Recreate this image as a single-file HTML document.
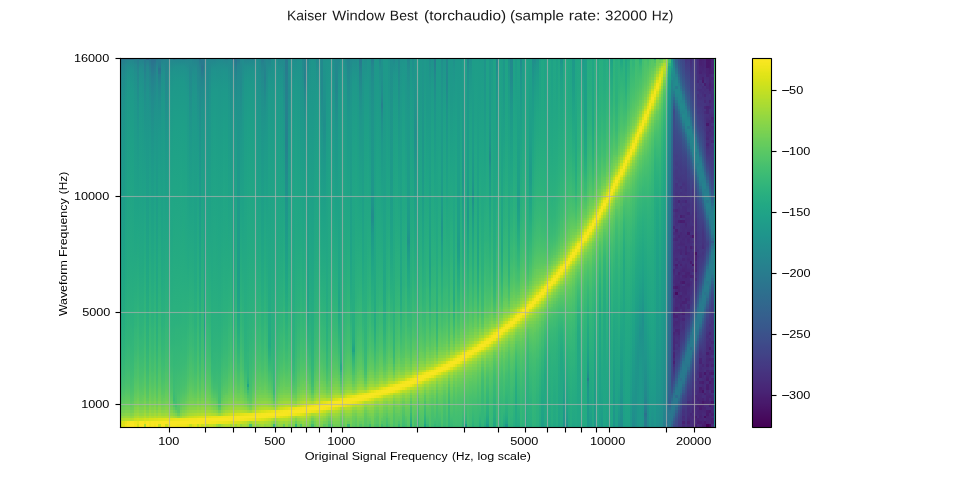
<!DOCTYPE html>
<html lang="en"><head><meta charset="utf-8"><title>Kaiser Window Best (torchaudio)</title>
<style>
html,body{margin:0;padding:0;background:#fff}
body{position:relative;width:960px;height:480px;overflow:hidden;font-family:"Liberation Sans",sans-serif;color:#000}
#hm{position:absolute;left:120px;top:58px;width:596px;height:370px;display:flex;overflow:hidden}
#hm i{display:block;height:370px;flex:0 0 auto}
#hm .o{width:1px}#hm .a{width:2px}#hm .b{width:3px}
#cb{position:absolute;left:752px;top:58px;width:20px;height:370px;background:linear-gradient(#f8e621 1.5px,#f8e621 3.5px,#f4e61e 5.5px,#f4e61e 6.5px,#efe51c 8.5px,#efe51c 9.5px,#eae51a 11.5px,#eae51a 12.5px,#e2e418 15.5px,#e2e418 16.5px,#dde318 18.5px,#dde318 19.5px,#d8e219 21.5px,#d8e219 22.5px,#d2e21b 24.5px,#d0e11c 26.5px,#cae11f 28.5px,#c8e020 30.5px,#c5e021 31.5px,#c5e021 32.5px,#c0df25 34.5px,#c0df25 35.5px,#bade28 37.5px,#b8de29 39.5px,#b2dd2d 41.5px,#b0dd2f 43.5px,#addc30 44.5px,#addc30 45.5px,#a8db34 47.5px,#a8db34 48.5px,#a2da37 50.5px,#a0da39 52.5px,#9bd93c 54.5px,#9bd93c 55.5px,#95d840 57.5px,#93d741 59.5px,#90d743 60.5px,#8ed645 62.5px,#8bd646 63.5px,#89d548 65.5px,#84d44b 67.5px,#84d44b 68.5px,#7fd34e 70.5px,#7fd34e 71.5px,#7ad151 73.5px,#7ad151 74.5px,#75d054 76.5px,#73d056 78.5px,#6ece58 80.5px,#6ccd5a 82.5px,#69cd5b 83.5px,#67cc5c 85.5px,#63cb5f 88.5px,#60ca60 89.5px,#5ec962 91.5px,#5ac864 93.5px,#58c765 95.5px,#52c569 99.5px,#50c46a 101.5px,#4ac16d 105.5px,#44bf70 109.5px,#42be71 111.5px,#3aba76 118.5px,#2db27d 131.5px,#27ad81 139.5px,#22a884 147.5px,#1fa188 158.5px,#1f948c 178.5px,#26828e 206.5px,#2d708e 233.5px,#375b8d 264.5px,#38588c 269.5px,#3b528b 275.5px,#3e4c8a 284.5px,#3f4889 288.5px,#414487 295.5px,#433e85 301.5px,#453882 309.5px,#46337f 314.5px,#472d7b 322.5px,#482878 327.5px,#482374 334.5px,#481c6e 340.5px,#481a6c 344.5px,#471063 353.5px,#46075a 362.5px,#440256 367.5px,#440256 368.5px)}
b{position:absolute;display:block}
.h{color:#181818}
#tx{position:absolute;left:0;top:0;width:960px;height:480px;will-change:transform}
.t{position:absolute;left:0;top:0;white-space:nowrap;line-height:1;transform-origin:0 0;font-weight:400}
</style></head><body>
<div id="hm"><i class=a style="background:linear-gradient(#2d6f8e 0,#2d6f8e 2px,#287a8e 0,#287a8e 3.5px,#25838d 11.5px,#228a8d 32px,#20918c 77.5px,#1e998a 152.5px,#1e9c89 184px,#1fa386 232.5px,#22a784 258.5px,#24aa82 272.5px,#2cb17d 301.5px,#33b679 315.5px,#39b976 324.5px,#45bf6f 336px,#59c764 347.5px,#59c764 349px,#62ca5f 0,#62ca5f 352px,#6bcd59 0,#6bcd59 355px,#77d052 0,#77d052 358px,#88d547 0,#88d547 360px,#a5da35 0,#a5da35 363px,#c5df21 0,#c5df21 364.5px,#cae01e 368px,#cae01e 370px)"></i>
<i class=b style="background:linear-gradient(#2b748e 0,#2b748e 2px,#26808e 0,#26808e 3.5px,#24858d 6.5px,#218c8d 17.5px,#1f948b 49.5px,#1e998a 95.5px,#1fa187 178.5px,#21a784 224.5px,#23a982 238.5px,#27ad80 264.5px,#2bb17d 281.5px,#33b679 301.5px,#3bba75 315.5px,#45bf6f 327.5px,#4bc26c 333.5px,#64cb5d 347.5px,#64cb5d 349px,#6dce58 0,#6dce58 352px,#77d052 0,#77d052 355px,#83d34b 0,#83d34b 358px,#95d73f 0,#95d73f 360px,#afdc2e 0,#afdc2e 363px,#dce218 0,#dce218 364.5px,#e1e318 368px,#e1e318 370px)"></i>
<i class=a style="background:linear-gradient(#2a768e 0,#2a768e 2px,#24848d 0,#24848d 3.5px,#23898d 6.5px,#20908c 17.5px,#1e978a 40.5px,#1fa187 138.5px,#21a685 181.5px,#22a784 204.5px,#24aa82 224.5px,#2bb17d 267.5px,#33b679 293px,#44be70 321.5px,#4dc26b 330.5px,#5ec961 341.5px,#64cb5d 344.5px,#64cb5d 346px,#6bcd59 0,#6bcd59 349px,#72cf55 0,#72cf55 352px,#7cd24f 0,#7cd24f 355px,#88d547 0,#88d547 358px,#9ad83c 0,#9ad83c 360px,#b7dd29 0,#b7dd29 363px,#e9e419 0,#e9e419 366px,#f1e51c 0,#f1e51c 370px)"></i>
<i class=b style="background:linear-gradient(#2a768e 0,#2a768e 2px,#23878d 0,#23878d 3.5px,#20908c 11.5px,#1f968b 23.5px,#1e998a 37.5px,#1fa386 126.5px,#22a784 175.5px,#24aa82 209.5px,#27ad80 232.5px,#2cb17d 261.5px,#30b47a 281.5px,#35b778 290.5px,#39b976 301.5px,#3dbb74 310.5px,#42be71 315.5px,#47c06e 324.5px,#51c468 333.5px,#64cb5d 344.5px,#64cb5d 346px,#6bcd59 0,#6bcd59 349px,#72cf55 0,#72cf55 352px,#7cd24f 0,#7cd24f 355px,#88d547 0,#88d547 358px,#9ad83c 0,#9ad83c 360px,#b7dd29 0,#b7dd29 363px,#f3e51e 0,#f3e51e 364.5px,#f8e621 368px,#f8e621 370px)"></i>
<i class=a style="background:linear-gradient(#2c718e 0,#2c718e 2px,#23898d 0,#23898d 3.5px,#1f928c 11.5px,#1e998a 32px,#1ea087 83.5px,#22a784 163.5px,#24aa82 201.5px,#2cb17d 264.5px,#2fb37b 272.5px,#30b47a 281.5px,#33b679 290.5px,#35b778 295.5px,#3bba75 310.5px,#45bf6f 327.5px,#4bc26c 333.5px,#5bc862 344.5px,#5bc862 346px,#62ca5f 0,#62ca5f 349px,#6bcd59 0,#6bcd59 352px,#74d054 0,#74d054 355px,#81d34c 0,#81d34c 358px,#92d741 0,#92d741 360px,#b2dd2c 0,#b2dd2c 363px,#f8e621 0,#f8e621 364.5px,#fde724 368px,#fde724 370px)"></i>
<i class=a style="background:linear-gradient(#2c718e 0,#2c718e 2px,#23888d 0,#23888d 3.5px,#20918c 11.5px,#1e998a 34.5px,#1ea087 86.5px,#22a784 169.5px,#24aa82 204.5px,#27ad80 229.5px,#2ab07e 252.5px,#2cb17d 267.5px,#2eb27c 272.5px,#32b57a 284.5px,#33b679 290.5px,#35b778 295.5px,#3bba75 310.5px,#40bd72 318.5px,#44be70 321.5px,#47c06e 327.5px,#4dc26b 333.5px,#59c764 341.5px,#59c764 343px,#60c960 0,#60c960 346px,#67cc5c 0,#67cc5c 347.5px,#6dce58 350.5px,#6dce58 352px,#77d052 0,#77d052 355px,#86d449 0,#86d449 358px,#97d83e 0,#97d83e 360px,#b7dd29 0,#b7dd29 363px,#f8e621 0,#f8e621 364.5px,#fde724 368px,#fde724 370px)"></i>
<i class=b style="background:linear-gradient(#287a8e 0,#287a8e 2px,#24848d 0,#24848d 3.5px,#23898d 6.5px,#20908c 17.5px,#1f968b 37.5px,#1e998a 57.5px,#1fa386 146.5px,#21a784 178.5px,#23a883 192.5px,#28ae7f 232.5px,#2cb17d 250px,#30b47a 267.5px,#33b679 272.5px,#39b976 290.5px,#4bc26c 318.5px,#55c666 327.5px,#5bc862 333.5px,#69cc5b 341.5px,#69cc5b 343px,#70ce56 0,#70ce56 346px,#77d052 0,#77d052 349px,#81d34c 0,#81d34c 352px,#8bd546 0,#8bd546 355px,#97d83e 0,#97d83e 358px,#aadb32 0,#aadb32 360px,#c7e01f 0,#c7e01f 363px,#f1e51c 0,#f1e51c 364.5px,#f6e61f 368px,#f6e61f 370px)"></i>
<i class=a style="background:linear-gradient(#287b8e 0,#287b8e 1px,#267f8e 3.5px,#26818e 6.5px,#24868d 11.5px,#1f928c 46.5px,#1e998a 80.5px,#1fa386 149.5px,#21a784 175.5px,#23a982 192.5px,#27ad80 218.5px,#2cb17d 244.5px,#2fb37b 252.5px,#33b679 267.5px,#35b778 272.5px,#3bba75 287.5px,#4fc369 318.5px,#5bc862 330.5px,#69cc5b 338.5px,#69cc5b 340px,#70ce56 0,#70ce56 341.5px,#74d054 344.5px,#74d054 346px,#7cd24f 0,#7cd24f 349px,#86d449 0,#86d449 352px,#90d643 0,#90d643 355px,#9dd93a 0,#9dd93a 358px,#afdc2e 0,#afdc2e 360px,#cde01d 0,#cde01d 363px,#e9e419 0,#e9e419 366px,#d7e219 0,#d7e219 370px)"></i>
<i class=b style="background:linear-gradient(#2a758e 0,#2a758e 2px,#24858d 0,#24858d 3.5px,#218e8c 11.5px,#1f958b 29.5px,#1e998a 49.5px,#1fa386 143.5px,#22a784 184px,#24aa82 212.5px,#2cb17d 258.5px,#30b47a 275.5px,#35b778 284.5px,#36b877 290.5px,#47c06e 318.5px,#4dc26b 324.5px,#53c567 330.5px,#64cb5d 341.5px,#64cb5d 343px,#6bcd59 0,#6bcd59 346px,#72cf55 0,#72cf55 349px,#7cd24f 0,#7cd24f 352px,#86d449 0,#86d449 355px,#92d741 0,#92d741 358px,#a7db33 0,#a7db33 360px,#c7e01f 0,#c7e01f 363px,#f8e621 0,#f8e621 364.5px,#fae622 368px,#fae622 370px)"></i>
<i class=a style="background:linear-gradient(#2a778e 0,#2a778e 2px,#24848d 0,#24848d 3.5px,#23898d 6.5px,#20908c 17.5px,#1e978a 43.5px,#1fa187 135.5px,#21a685 175.5px,#23a982 207px,#27ad80 232.5px,#2cb17d 258.5px,#2fb37b 267.5px,#35b778 284.5px,#3bba75 298.5px,#44be70 313px,#4bc26c 321.5px,#5bc862 336px,#5bc862 337px,#62ca5f 0,#62ca5f 338.5px,#6dce58 344.5px,#6dce58 346px,#74d054 0,#74d054 349px,#7cd24f 0,#7cd24f 352px,#88d547 0,#88d547 355px,#95d73f 0,#95d73f 358px,#aadb32 0,#aadb32 360px,#cae01e 0,#cae01e 363px,#f8e621 0,#f8e621 364.5px,#fde724 368px,#fde724 370px)"></i>
<i class=a style="background:linear-gradient(#287a8e 0,#287a8e 1px,#23898d 23.5px,#20918c 43.5px,#1e998a 77.5px,#1fa386 138.5px,#22a784 166.5px,#24aa82 189.5px,#2cb17d 235.5px,#2fb37b 244.5px,#30b47a 252.5px,#39b976 275.5px,#3bba75 281.5px,#40bd72 290.5px,#42be71 295.5px,#4bc26c 310.5px,#51c468 315.5px,#55c666 321.5px,#5bc862 327.5px,#72cf55 341.5px,#72cf55 343px,#79d151 0,#79d151 346px,#81d34c 0,#81d34c 349px,#88d547 0,#88d547 352px,#95d73f 0,#95d73f 355px,#a2da37 0,#a2da37 358px,#b5dd2b 0,#b5dd2b 360px,#d4e11a 0,#d4e11a 363px,#eee51b 0,#eee51b 366px,#aadb32 0,#aadb32 370px)"></i>
<i class=b style="background:linear-gradient(#31668d 0,#31668d 2px,#26808e 0,#26808e 3.5px,#23888d 9px,#1f928c 34.5px,#1e998a 86.5px,#1fa187 166.5px,#21a784 212.5px,#23a982 229.5px,#27ad80 252.5px,#2ab07e 267.5px,#30b47a 287.5px,#3bba75 310.5px,#47c06e 324.5px,#51c468 333.5px,#59c764 338.5px,#59c764 340px,#60c960 0,#60c960 343px,#67cc5c 0,#67cc5c 344.5px,#6dce58 347.5px,#6dce58 349px,#77d052 0,#77d052 352px,#83d34b 0,#83d34b 355px,#92d741 0,#92d741 358px,#a7db33 0,#a7db33 360px,#cfe11c 0,#cfe11c 363px,#f8e621 0,#f8e621 364.5px,#fde724 368px,#fde724 370px)"></i>
<i class=a style="background:linear-gradient(#2a758e 0,#2a758e 1px,#287a8e 3.5px,#24858d 14.5px,#20918c 43.5px,#1e998a 77.5px,#1fa386 141px,#22a784 169.5px,#25ab81 198.5px,#2cb17d 235.5px,#30b47a 252.5px,#35b778 267.5px,#38b976 272.5px,#3bba75 281.5px,#40bd72 293px,#4fc369 315.5px,#5bc862 327.5px,#72cf55 341.5px,#72cf55 343px,#79d151 0,#79d151 346px,#81d34c 0,#81d34c 349px,#88d547 0,#88d547 352px,#95d73f 0,#95d73f 355px,#a2da37 0,#a2da37 358px,#b5dd2b 0,#b5dd2b 360px,#d7e219 0,#d7e219 363px,#f3e51e 0,#f3e51e 364.5px,#f1e51c 368px,#f1e51c 370px)"></i>
<i class=b style="background:linear-gradient(#2f6a8d 0,#2f6a8d 2px,#2b738e 0,#2b738e 3.5px,#25828e 20.5px,#228b8d 40.5px,#1f948b 75px,#1e998a 100.5px,#1fa386 166.5px,#22a784 195.5px,#26ac81 227px,#29af7f 241.5px,#2cb17d 258.5px,#32b57a 272.5px,#38b976 290.5px,#45bf6f 313px,#49c16d 315.5px,#4dc26b 321.5px,#5bc862 333.5px,#69cc5b 341.5px,#69cc5b 343px,#70ce56 0,#70ce56 346px,#77d052 0,#77d052 349px,#81d34c 0,#81d34c 352px,#8bd546 0,#8bd546 355px,#9ad83c 0,#9ad83c 358px,#afdc2e 0,#afdc2e 360px,#d7e219 0,#d7e219 363px,#f8e621 0,#f8e621 370px)"></i>
<i class=a style="background:linear-gradient(#2c708e 0,#2c708e 1px,#287a8e 6.5px,#24848d 17.5px,#228a8d 29.5px,#1f938b 52px,#1e998a 80.5px,#1fa386 141px,#22a784 169.5px,#25ab81 198.5px,#2ab07e 229.5px,#2fb37b 247.5px,#33b679 261.5px,#35b778 267.5px,#38b976 272.5px,#3bba75 281.5px,#40bd72 293px,#4fc369 315.5px,#55c666 321.5px,#5bc862 327.5px,#67cc5c 336px,#72cf55 341.5px,#72cf55 343px,#79d151 0,#79d151 346px,#81d34c 0,#81d34c 349px,#88d547 0,#88d547 352px,#95d73f 0,#95d73f 355px,#a2da37 0,#a2da37 358px,#b7dd29 0,#b7dd29 360px,#dce218 0,#dce218 363px,#f6e61f 0,#f6e61f 364.5px,#f1e51c 368px,#f1e51c 370px)"></i>
<i class=a style="background:linear-gradient(#2a758e 0,#2a758e 2px,#267f8e 0,#267f8e 3.5px,#23878d 9px,#23898d 11.5px,#20918c 37.5px,#1e998a 92.5px,#1e9b89 120.5px,#1fa187 169.5px,#21a685 201.5px,#22a784 218.5px,#25ab81 241.5px,#2cb17d 275.5px,#30b47a 287.5px,#40bd72 315.5px,#44be70 318.5px,#45bf6f 321.5px,#53c567 333.5px,#5bc862 338.5px,#5bc862 340px,#62ca5f 0,#62ca5f 343px,#69cc5b 0,#69cc5b 346px,#70ce56 0,#70ce56 349px,#79d151 0,#79d151 352px,#86d449 0,#86d449 355px,#97d83e 0,#97d83e 358px,#afdc2e 0,#afdc2e 360px,#dce218 0,#dce218 363px,#f8e621 0,#f8e621 364.5px,#fae622 368px,#fae622 370px)"></i>
<i class=b style="background:linear-gradient(#277c8e 0,#277c8e 1px,#277e8e 3.5px,#277d8e 6.5px,#287a8e 9px,#287a8e 10px,#2b738e 0,#2b738e 11.5px,#2a778e 14.5px,#2a778e 16px,#277e8e 0,#277e8e 17.5px,#23878d 26.5px,#218e8c 40.5px,#1f948b 57.5px,#1e998a 77.5px,#1e9c89 98px,#20a585 152.5px,#22a784 169.5px,#26ac81 201.5px,#2cb17d 235.5px,#30b47a 252.5px,#39b976 275.5px,#3bba75 281.5px,#40bd72 290.5px,#42be71 295.5px,#4bc26c 310.5px,#51c468 315.5px,#55c666 321.5px,#5bc862 327.5px,#72cf55 341.5px,#72cf55 343px,#79d151 0,#79d151 346px,#81d34c 0,#81d34c 349px,#8bd546 0,#8bd546 352px,#95d73f 0,#95d73f 355px,#a5da35 0,#a5da35 358px,#b7dd29 0,#b7dd29 360px,#dfe318 0,#dfe318 363px,#f6e61f 0,#f6e61f 366px,#c7e01f 0,#c7e01f 370px)"></i>
<i class=a style="background:linear-gradient(#29788e 0,#29788e 2px,#24848d 0,#24848d 3.5px,#23898d 6.5px,#20908c 17.5px,#1e978a 43.5px,#1e998a 63.5px,#1fa386 158.5px,#22a784 195.5px,#24aa82 221.5px,#29af7f 250px,#2cb17d 264.5px,#2cb17d 267.5px,#2fb37b 272.5px,#35b778 290.5px,#42be71 313px,#45bf6f 318.5px,#55c666 333.5px,#59c764 336px,#59c764 337px,#60c960 0,#60c960 338.5px,#64cb5d 341.5px,#64cb5d 343px,#6bcd59 0,#6bcd59 346px,#72cf55 0,#72cf55 349px,#7cd24f 0,#7cd24f 352px,#88d547 0,#88d547 355px,#9ad83c 0,#9ad83c 358px,#b2dd2c 0,#b2dd2c 360px,#dfe318 0,#dfe318 363px,#f8e621 0,#f8e621 370px)"></i>
<i class=a style="background:linear-gradient(#277d8e 0,#277d8e 2px,#24868d 0,#24868d 3.5px,#20908c 14.5px,#1e978a 37.5px,#1fa187 126.5px,#21a685 172.5px,#23a883 198.5px,#26ac81 227px,#2cb17d 261.5px,#30b47a 272.5px,#36b877 290.5px,#3bba75 298.5px,#3ebc73 307.5px,#44be70 313px,#49c16d 321.5px,#51c468 327.5px,#57c665 333.5px,#60c960 338.5px,#60c960 340px,#67cc5c 0,#67cc5c 341.5px,#6dce58 344.5px,#6dce58 346px,#74d054 0,#74d054 349px,#7ed24e 0,#7ed24e 352px,#8bd546 0,#8bd546 355px,#9ad83c 0,#9ad83c 358px,#b2dd2c 0,#b2dd2c 360px,#e1e318 0,#e1e318 363px,#f8e621 0,#f8e621 364.5px,#f6e61f 368px,#f6e61f 370px)"></i>
<i class=b style="background:linear-gradient(#25838d 0,#25838d 1px,#24858d 3.5px,#23898d 23.5px,#1f948b 63.5px,#1e998a 86.5px,#1fa386 152.5px,#22a784 181.5px,#25ab81 209.5px,#2cb17d 247.5px,#2eb27c 252.5px,#33b679 270px,#35b778 272.5px,#39b976 284.5px,#40bd72 298.5px,#49c16d 313px,#4dc26b 315.5px,#51c468 321.5px,#5bc862 330.5px,#6dce58 341.5px,#6dce58 343px,#74d054 0,#74d054 346px,#7cd24f 0,#7cd24f 349px,#86d449 0,#86d449 352px,#90d643 0,#90d643 355px,#9fd938 0,#9fd938 358px,#b5dd2b 0,#b5dd2b 360px,#e4e318 0,#e4e318 363px,#f8e621 0,#f8e621 366px,#cde01d 0,#cde01d 370px)"></i>
<i class=a style="background:linear-gradient(#25838d 0,#25838d 1px,#23878d 3.5px,#20908c 17.5px,#1f968b 40.5px,#1e998a 63.5px,#1fa386 152.5px,#22a784 186.5px,#25ab81 218.5px,#2cb17d 255.5px,#2fb37b 264.5px,#30b47a 270px,#32b57a 272.5px,#38b976 290.5px,#47c06e 315.5px,#4dc26b 321.5px,#53c567 327.5px,#59c764 333.5px,#64cb5d 338.5px,#69cc5b 341.5px,#69cc5b 343px,#70ce56 0,#70ce56 346px,#77d052 0,#77d052 349px,#81d34c 0,#81d34c 352px,#8bd546 0,#8bd546 355px,#9ad83c 0,#9ad83c 358px,#b2dd2c 0,#b2dd2c 360px,#e7e419 0,#e7e419 363px,#f8e621 0,#f8e621 366px,#eee51b 0,#eee51b 370px)"></i>
<i class=b style="background:linear-gradient(#267f8e 0,#267f8e 2px,#23898d 0,#23898d 3.5px,#1f938b 14.5px,#1e998a 34.5px,#1fa187 98px,#21a685 146.5px,#22a784 175.5px,#24aa82 201.5px,#27ad80 232.5px,#2cb17d 264.5px,#2cb17d 267.5px,#2eb27c 272.5px,#30b47a 284.5px,#36b877 298.5px,#39b976 307.5px,#49c16d 330.5px,#55c666 338.5px,#5bc862 341.5px,#5bc862 343px,#62ca5f 0,#62ca5f 346px,#69cc5b 0,#69cc5b 349px,#72cf55 0,#72cf55 352px,#81d34c 0,#81d34c 355px,#90d643 0,#90d643 358px,#addc30 0,#addc30 360px,#e7e419 0,#e7e419 363px,#f8e621 0,#f8e621 364.5px,#f6e61f 368px,#f6e61f 370px)"></i>
<i class=a style="background:linear-gradient(#2d6e8e 0,#2d6e8e 2px,#23898d 0,#23898d 3.5px,#1f938b 11.5px,#1e998a 29.5px,#1ea087 75px,#21a784 152.5px,#23a982 178.5px,#27ad80 227px,#2ab07e 250px,#2cb17d 267.5px,#2eb27c 272.5px,#30b47a 284.5px,#33b679 293px,#36b877 307.5px,#3bba75 318.5px,#3ebc73 333.5px,#3bba75 341.5px,#3bba75 343px,#44be70 0,#44be70 346px,#53c567 0,#53c567 349px,#62ca5f 0,#62ca5f 352px,#72cf55 0,#72cf55 355px,#86d449 0,#86d449 358px,#a5da35 0,#a5da35 360px,#e9e419 0,#e9e419 363px,#f8e621 0,#f8e621 364.5px,#f6e61f 368px,#f6e61f 370px)"></i>
<i class=a style="background:linear-gradient(#277c8e 0,#277c8e 2px,#22898d 0,#22898d 3.5px,#20918c 9px,#1e988a 23.5px,#1e9f88 66.5px,#20a585 129.5px,#22a784 155.5px,#25ab81 204.5px,#2ab07e 250px,#2cb17d 264.5px,#2fb37b 272.5px,#30b47a 281.5px,#33b679 290.5px,#36b877 304.5px,#3bba75 315.5px,#40bd72 327.5px,#44be70 333.5px,#45bf6f 341.5px,#47c06e 347.5px,#47c06e 349px,#53c567 0,#53c567 352px,#64cb5d 0,#64cb5d 355px,#7cd24f 0,#7cd24f 358px,#9dd93a 0,#9dd93a 360px,#ece41a 0,#ece41a 363px,#f8e621 0,#f8e621 364.5px,#f3e51e 368px,#f3e51e 370px)"></i>
<i class=b style="background:linear-gradient(#267f8e 0,#267f8e 2px,#22898d 0,#22898d 3.5px,#20918c 9px,#1e988a 23.5px,#1e9f88 66.5px,#20a585 129.5px,#22a784 155.5px,#25ab81 204.5px,#2ab07e 250px,#2cb17d 264.5px,#2fb37b 272.5px,#30b47a 281.5px,#33b679 290.5px,#39b976 310.5px,#3ebc73 318.5px,#40bd72 324.5px,#45bf6f 333.5px,#4bc26c 338.5px,#59c764 353.5px,#59c764 355px,#6bcd59 0,#6bcd59 358px,#90d643 0,#90d643 360px,#ece41a 0,#ece41a 363px,#f8e621 0,#f8e621 366px,#f1e51c 0,#f1e51c 370px)"></i>
<i class=a style="background:linear-gradient(#277e8e 0,#277e8e 2px,#22898d 0,#22898d 3.5px,#20918c 9px,#1e988a 23.5px,#1e9f88 66.5px,#21a685 129.5px,#22a784 161px,#24aa82 189.5px,#2ab07e 247.5px,#2cb17d 261.5px,#2fb37b 270px,#30b47a 278.5px,#33b679 287.5px,#33b679 290.5px,#36b877 295.5px,#3bba75 310.5px,#47c06e 330.5px,#4dc26b 336px,#55c666 341.5px,#60c960 347.5px,#60c960 349px,#69cc5b 0,#69cc5b 352px,#74d054 0,#74d054 355px,#83d34b 0,#83d34b 358px,#9fd938 0,#9fd938 360px,#eee51b 0,#eee51b 363px,#f8e621 0,#f8e621 366px,#f1e51c 0,#f1e51c 370px)"></i>
<i class=b style="background:linear-gradient(#2a768e 0,#2a768e 2px,#22898d 0,#22898d 3.5px,#20918c 9px,#1e988a 23.5px,#1ea087 72.5px,#21a784 149.5px,#23a982 175.5px,#27ad80 221.5px,#2cb17d 255.5px,#30b47a 275.5px,#33b679 284.5px,#36b877 295.5px,#3bba75 307.5px,#47c06e 327.5px,#4dc26b 333.5px,#60c960 344.5px,#60c960 346px,#69cc5b 0,#69cc5b 349px,#72cf55 0,#72cf55 352px,#7ed24e 0,#7ed24e 355px,#90d643 0,#90d643 358px,#addc30 0,#addc30 360px,#eee51b 0,#eee51b 363px,#f8e621 0,#f8e621 366px,#f1e51c 0,#f1e51c 370px)"></i>
<i class=a style="background:linear-gradient(#267f8e 0,#267f8e 2px,#23898d 0,#23898d 3.5px,#1f928c 11.5px,#1e998a 32px,#1e9f88 69.5px,#21a685 138.5px,#22a784 166.5px,#24aa82 195.5px,#2cb17d 258.5px,#30b47a 275.5px,#33b679 284.5px,#35b778 290.5px,#39b976 301.5px,#47c06e 324.5px,#51c468 333.5px,#60c960 341.5px,#60c960 343px,#67cc5c 0,#67cc5c 346px,#70ce56 0,#70ce56 349px,#79d151 0,#79d151 352px,#86d449 0,#86d449 355px,#97d83e 0,#97d83e 358px,#b7dd29 0,#b7dd29 360px,#f1e51c 0,#f1e51c 363px,#f8e621 0,#f8e621 366px,#eee51b 0,#eee51b 370px)"></i>
<i class=a style="background:linear-gradient(#24858d 0,#24858d 1px,#23898d 3.5px,#20918c 14.5px,#1e998a 40.5px,#1e9b89 63.5px,#1fa386 135.5px,#22a784 175.5px,#24aa82 207px,#2cb17d 252.5px,#30b47a 270px,#32b57a 272.5px,#38b976 290.5px,#49c16d 318.5px,#57c665 330.5px,#59c764 333.5px,#64cb5d 338.5px,#69cc5b 341.5px,#69cc5b 343px,#70ce56 0,#70ce56 346px,#79d151 0,#79d151 349px,#83d34b 0,#83d34b 352px,#90d643 0,#90d643 355px,#a2da37 0,#a2da37 358px,#bfdf24 0,#bfdf24 360px,#f1e51c 0,#f1e51c 363px,#f8e621 0,#f8e621 366px,#e7e419 0,#e7e419 370px)"></i>
<i class=b style="background:linear-gradient(#23878d 0,#23878d 1px,#23898d 3.5px,#228a8d 14.5px,#1f958b 60.5px,#1e998a 80.5px,#1fa386 149.5px,#22a784 178.5px,#25ab81 207px,#2cb17d 244.5px,#2cb17d 247.5px,#2fb37b 252.5px,#33b679 267.5px,#35b778 272.5px,#3bba75 287.5px,#4fc369 318.5px,#59c764 327.5px,#70ce56 341.5px,#70ce56 343px,#77d052 0,#77d052 346px,#7ed24e 0,#7ed24e 349px,#88d547 0,#88d547 352px,#95d73f 0,#95d73f 355px,#a7db33 0,#a7db33 358px,#c7e01f 0,#c7e01f 360px,#f3e51e 0,#f3e51e 361.5px,#f8e621 364.5px,#f8e621 366px,#c7e01f 0,#c7e01f 370px)"></i>
<i class=a style="background:linear-gradient(#25828e 0,#25828e 1px,#23878d 3.5px,#20908c 17.5px,#1e978a 40.5px,#1fa187 126.5px,#20a585 158.5px,#22a784 178.5px,#25ab81 209.5px,#2cb17d 247.5px,#30b47a 264.5px,#35b778 275.5px,#39b976 287.5px,#3dbb74 293px,#40bd72 301.5px,#47c06e 310.5px,#4dc26b 318.5px,#5ec961 333.5px,#69cc5b 338.5px,#69cc5b 340px,#70ce56 0,#70ce56 343px,#77d052 0,#77d052 346px,#7ed24e 0,#7ed24e 349px,#88d547 0,#88d547 352px,#97d83e 0,#97d83e 355px,#aadb32 0,#aadb32 358px,#cae01e 0,#cae01e 360px,#f3e51e 0,#f3e51e 361.5px,#f8e621 364.5px,#f8e621 366px,#e1e318 0,#e1e318 370px)"></i>
<i class=b style="background:linear-gradient(#277c8e 0,#277c8e 2px,#24858d 0,#24858d 3.5px,#218d8c 11.5px,#1f958b 34.5px,#1e998a 60.5px,#1fa386 158.5px,#22a784 195.5px,#24aa82 221.5px,#2ab07e 255.5px,#2cb17d 267.5px,#2fb37b 272.5px,#35b778 290.5px,#42be71 313px,#4bc26c 321.5px,#51c468 327.5px,#59c764 333.5px,#64cb5d 338.5px,#64cb5d 340px,#6bcd59 0,#6bcd59 343px,#72cf55 0,#72cf55 346px,#7cd24f 0,#7cd24f 349px,#88d547 0,#88d547 352px,#97d83e 0,#97d83e 355px,#addc30 0,#addc30 358px,#cfe11c 0,#cfe11c 360px,#f3e51e 0,#f3e51e 361.5px,#f8e621 364.5px,#f8e621 366px,#e7e419 0,#e7e419 370px)"></i>
<i class=a style="background:linear-gradient(#26808e 0,#26808e 1px,#25838d 3.5px,#23898d 17.5px,#218c8d 29.5px,#20918c 40.5px,#1e998a 75px,#1fa386 135.5px,#22a784 163.5px,#24aa82 186.5px,#2cb17d 232.5px,#30b47a 250px,#32b57a 252.5px,#36b877 267.5px,#38b976 272.5px,#3dbb74 281.5px,#40bd72 290.5px,#51c468 315.5px,#62ca5f 330.5px,#70ce56 338.5px,#70ce56 340px,#77d052 0,#77d052 343px,#7ed24e 0,#7ed24e 346px,#86d449 0,#86d449 349px,#90d643 0,#90d643 352px,#9dd93a 0,#9dd93a 355px,#b2dd2c 0,#b2dd2c 358px,#d4e11a 0,#d4e11a 360px,#f6e61f 0,#f6e61f 361.5px,#f8e621 364.5px,#f8e621 366px,#c2df22 0,#c2df22 370px)"></i>
<i class=a style="background:linear-gradient(#2e6d8e 0,#2e6d8e 2px,#287a8e 0,#287a8e 3.5px,#267f8e 6.5px,#24848d 11.5px,#228a8d 29.5px,#1f938b 77.5px,#1e998a 123.5px,#1fa187 184px,#20a585 209.5px,#23a883 232.5px,#25ab81 247.5px,#2cb17d 275.5px,#33b679 293px,#39b976 304.5px,#3dbb74 307.5px,#40bd72 313px,#44be70 315.5px,#45bf6f 318.5px,#4dc26b 324.5px,#53c567 330.5px,#64cb5d 338.5px,#64cb5d 340px,#6bcd59 0,#6bcd59 343px,#74d054 0,#74d054 346px,#7ed24e 0,#7ed24e 349px,#8bd546 0,#8bd546 352px,#9ad83c 0,#9ad83c 355px,#afdc2e 0,#afdc2e 358px,#d7e219 0,#d7e219 360px,#f6e61f 0,#f6e61f 366px,#dfe318 0,#dfe318 370px)"></i>
<i class=b style="background:linear-gradient(#287a8e 0,#287a8e 6.5px,#2a758e 9px,#24848d 20.5px,#228a8d 29.5px,#1f948b 54.5px,#1e998a 77.5px,#1fa386 138.5px,#21a784 163.5px,#27ad80 207px,#2cb17d 232.5px,#30b47a 250px,#32b57a 252.5px,#36b877 267.5px,#38b976 272.5px,#3dbb74 281.5px,#40bd72 290.5px,#51c468 315.5px,#62ca5f 330.5px,#70ce56 338.5px,#70ce56 340px,#77d052 0,#77d052 343px,#7ed24e 0,#7ed24e 346px,#86d449 0,#86d449 349px,#92d741 0,#92d741 352px,#9fd938 0,#9fd938 355px,#b5dd2b 0,#b5dd2b 358px,#dae218 0,#dae218 360px,#f6e61f 0,#f6e61f 366px,#c7e01f 0,#c7e01f 370px)"></i>
<i class=a style="background:linear-gradient(#2c728e 0,#2c728e 2px,#26808e 0,#26808e 3.5px,#23888d 9px,#20918c 32px,#1e978a 69.5px,#1ea087 201.5px,#1ea087 250px,#1e9b89 267.5px,#20a585 278.5px,#28ae7f 293px,#30b47a 304.5px,#42be71 321.5px,#4fc369 330.5px,#5bc862 336px,#5bc862 337px,#62ca5f 0,#62ca5f 340px,#69cc5b 0,#69cc5b 343px,#72cf55 0,#72cf55 346px,#7cd24f 0,#7cd24f 349px,#8bd546 0,#8bd546 352px,#9ad83c 0,#9ad83c 355px,#b2dd2c 0,#b2dd2c 358px,#dce218 0,#dce218 360px,#f8e621 0,#f8e621 361.5px,#f3e51e 364.5px,#f3e51e 366px,#dae218 0,#dae218 370px)"></i>
<i class=b style="background:linear-gradient(#24858d 0,#24858d 1px,#23888d 3.5px,#228b8d 20.5px,#1f958b 57.5px,#1fa187 132.5px,#21a784 172.5px,#23a982 189.5px,#27ad80 215.5px,#2cb17d 241.5px,#2eb27c 247.5px,#30b47a 258.5px,#36b877 272.5px,#3bba75 284.5px,#40bd72 295.5px,#49c16d 310.5px,#4fc369 315.5px,#57c665 324.5px,#64cb5d 333.5px,#6dce58 338.5px,#6dce58 340px,#74d054 0,#74d054 343px,#7cd24f 0,#7cd24f 346px,#83d34b 0,#83d34b 349px,#90d643 0,#90d643 352px,#9fd938 0,#9fd938 355px,#b5dd2b 0,#b5dd2b 358px,#e1e318 0,#e1e318 360px,#f8e621 0,#f8e621 361.5px,#f3e51e 364.5px,#f3e51e 366px,#bade27 0,#bade27 370px)"></i>
<i class=a style="background:linear-gradient(#23878d 0,#23878d 1px,#20908c 23.5px,#1f968b 49.5px,#1e998a 75px,#1fa386 149.5px,#22a784 181.5px,#26ac81 218.5px,#2cb17d 250px,#2eb27c 252.5px,#30b47a 264.5px,#36b877 278.5px,#39b976 287.5px,#4bc26c 315.5px,#55c666 324.5px,#5bc862 330.5px,#64cb5d 336px,#64cb5d 337px,#6bcd59 0,#6bcd59 338.5px,#70ce56 341.5px,#70ce56 343px,#77d052 0,#77d052 346px,#81d34c 0,#81d34c 349px,#8dd644 0,#8dd644 352px,#9dd93a 0,#9dd93a 355px,#b5dd2b 0,#b5dd2b 358px,#e4e318 0,#e4e318 360px,#f8e621 0,#f8e621 361.5px,#f3e51e 364.5px,#f3e51e 366px,#c7e01f 0,#c7e01f 370px)"></i>
<i class=a style="background:linear-gradient(#267f8e 0,#267f8e 2px,#23888d 0,#23888d 3.5px,#20918c 11.5px,#1e998a 34.5px,#1fa286 115.5px,#22a784 178.5px,#24aa82 215.5px,#2ab07e 267.5px,#2cb17d 281.5px,#2fb37b 290.5px,#30b47a 298.5px,#35b778 307.5px,#35b778 310.5px,#39b976 315.5px,#45bf6f 327.5px,#4fc369 333.5px,#5bc862 338.5px,#5bc862 340px,#64cb5d 0,#64cb5d 343px,#6dce58 0,#6dce58 346px,#77d052 0,#77d052 349px,#86d449 0,#86d449 352px,#97d83e 0,#97d83e 355px,#afdc2e 0,#afdc2e 358px,#e7e419 0,#e7e419 360px,#f8e621 0,#f8e621 363px,#f1e51c 0,#f1e51c 366px,#c7e01f 0,#c7e01f 370px)"></i>
<i class=b style="background:linear-gradient(#25838d 0,#25838d 1px,#22898d 3.5px,#1f928c 11.5px,#1e998a 32px,#1e9f88 75px,#20a585 141px,#22a784 169.5px,#24aa82 201.5px,#27ad80 235.5px,#2cb17d 272.5px,#30b47a 293px,#32b57a 295.5px,#33b679 304.5px,#3bba75 321.5px,#44be70 330.5px,#4fc369 336px,#55c666 338.5px,#55c666 340px,#5ec961 0,#5ec961 343px,#67cc5c 0,#67cc5c 346px,#72cf55 0,#72cf55 349px,#7ed24e 0,#7ed24e 352px,#90d643 0,#90d643 355px,#addc30 0,#addc30 358px,#e9e419 0,#e9e419 360px,#f8e621 0,#f8e621 363px,#f1e51c 0,#f1e51c 366px,#bdde26 0,#bdde26 370px)"></i>
<i class=a style="background:linear-gradient(#23888d 0,#23888d 1px,#20908c 9px,#1e998a 32px,#1e9b89 52px,#1ea087 92.5px,#21a784 169.5px,#23a982 198.5px,#27ad80 238.5px,#2cb17d 272.5px,#30b47a 290.5px,#32b57a 295.5px,#36b877 310.5px,#3ebc73 324.5px,#47c06e 333.5px,#57c665 341.5px,#57c665 343px,#5ec961 0,#5ec961 346px,#69cc5b 0,#69cc5b 349px,#74d054 0,#74d054 352px,#88d547 0,#88d547 355px,#a5da35 0,#a5da35 358px,#e9e419 0,#e9e419 360px,#f8e621 0,#f8e621 363px,#eee51b 0,#eee51b 366px,#a2da37 0,#a2da37 370px)"></i>
<i class=b style="background:linear-gradient(#22898d 0,#22898d 1px,#20908c 9px,#1e978a 26.5px,#1e998a 40.5px,#1ea087 98px,#21a784 178.5px,#23a883 198.5px,#27ad80 244.5px,#2bb17d 272.5px,#30b47a 293px,#36b877 313px,#3bba75 321.5px,#3ebc73 330.5px,#44be70 338.5px,#45bf6f 344.5px,#4bc26c 347.5px,#4bc26c 349px,#5bc862 0,#5bc862 352px,#74d054 0,#74d054 355px,#97d83e 0,#97d83e 358px,#ece41a 0,#ece41a 360px,#f8e621 0,#f8e621 363px,#ece41a 0,#ece41a 366px,#92d741 0,#92d741 370px)"></i>
<i class=a style="background:linear-gradient(#22898d 0,#22898d 1px,#1f928c 11.5px,#1e998a 34.5px,#1ea087 92.5px,#21a784 169.5px,#23a982 192.5px,#27ad80 232.5px,#2cb17d 264.5px,#2cb17d 267.5px,#2eb27c 272.5px,#33b679 290.5px,#35b778 295.5px,#40bd72 315.5px,#49c16d 327.5px,#59c764 338.5px,#59c764 340px,#60c960 0,#60c960 343px,#67cc5c 0,#67cc5c 346px,#70ce56 0,#70ce56 349px,#7cd24f 0,#7cd24f 352px,#8bd546 0,#8bd546 355px,#a7db33 0,#a7db33 358px,#eee51b 0,#eee51b 360px,#f8e621 0,#f8e621 363px,#ece41a 0,#ece41a 366px,#a7db33 0,#a7db33 370px)"></i>
<i class=a style="background:linear-gradient(#24868d 0,#24868d 1px,#218e8c 6.5px,#1f948b 14.5px,#1e998a 32px,#1e9f88 72.5px,#21a685 138.5px,#22a784 166.5px,#24aa82 195.5px,#2ab07e 244.5px,#2cb17d 258.5px,#2fb37b 267.5px,#33b679 281.5px,#36b877 290.5px,#38b976 295.5px,#42be71 313px,#4bc26c 324.5px,#5bc862 336px,#5bc862 337px,#62ca5f 0,#62ca5f 340px,#69cc5b 0,#69cc5b 343px,#70ce56 0,#70ce56 346px,#79d151 0,#79d151 349px,#86d449 0,#86d449 352px,#97d83e 0,#97d83e 355px,#b7dd29 0,#b7dd29 358px,#f1e51c 0,#f1e51c 360px,#f8e621 0,#f8e621 363px,#e9e419 0,#e9e419 366px,#b2dd2c 0,#b2dd2c 370px)"></i>
<i class=b style="background:linear-gradient(#287b8e 0,#287b8e 2px,#23898d 0,#23898d 3.5px,#1f928c 11.5px,#1e998a 32px,#1ea087 83.5px,#21a784 158.5px,#23a982 186.5px,#27ad80 224.5px,#2bb17d 252.5px,#2fb37b 267.5px,#36b877 290.5px,#3bba75 298.5px,#3ebc73 307.5px,#44be70 313px,#47c06e 318.5px,#55c666 330.5px,#59c764 333.5px,#59c764 335px,#60c960 0,#60c960 337px,#67cc5c 0,#67cc5c 338.5px,#6dce58 341.5px,#6dce58 343px,#74d054 0,#74d054 346px,#81d34c 0,#81d34c 349px,#8dd644 0,#8dd644 352px,#a2da37 0,#a2da37 355px,#bfdf24 0,#bfdf24 358px,#f1e51c 0,#f1e51c 360px,#f8e621 0,#f8e621 363px,#e7e419 0,#e7e419 366px,#b7dd29 0,#b7dd29 370px)"></i>
<i class=a style="background:linear-gradient(#23888d 0,#23888d 1px,#228b8d 3.5px,#1f948b 26.5px,#1e998a 49.5px,#1e9c89 77.5px,#1fa386 138.5px,#22a784 175.5px,#25ab81 207px,#2cb17d 247.5px,#2eb27c 252.5px,#33b679 270px,#35b778 272.5px,#3bba75 290.5px,#47c06e 310.5px,#4dc26b 315.5px,#59c764 327.5px,#67cc5c 336px,#6dce58 338.5px,#6dce58 340px,#74d054 0,#74d054 343px,#7cd24f 0,#7cd24f 346px,#88d547 0,#88d547 349px,#95d73f 0,#95d73f 352px,#a7db33 0,#a7db33 355px,#c7e01f 0,#c7e01f 358px,#f3e51e 0,#f3e51e 359px,#f8e621 361.5px,#f8e621 363px,#e4e318 0,#e4e318 366px,#b2dd2c 0,#b2dd2c 370px)"></i>
<i class=a style="background:linear-gradient(#23888d 0,#23888d 1px,#228a8d 3.5px,#218c8d 14.5px,#1e998a 69.5px,#1e9b89 89.5px,#1fa386 138.5px,#22a784 166.5px,#24aa82 189.5px,#2cb17d 235.5px,#30b47a 252.5px,#39b976 275.5px,#3bba75 281.5px,#42be71 293px,#45bf6f 301.5px,#4bc26c 307.5px,#51c468 315.5px,#62ca5f 330.5px,#72cf55 338.5px,#72cf55 340px,#79d151 0,#79d151 343px,#81d34c 0,#81d34c 346px,#8dd644 0,#8dd644 349px,#9ad83c 0,#9ad83c 352px,#addc30 0,#addc30 355px,#cfe11c 0,#cfe11c 358px,#f3e51e 0,#f3e51e 359px,#f8e621 361.5px,#f8e621 363px,#dfe318 0,#dfe318 366px,#9fd938 0,#9fd938 370px)"></i>
<i class=b style="background:linear-gradient(#345e8d 0,#345e8d 2px,#26818e 0,#26818e 3.5px,#23898d 9px,#218d8c 17.5px,#1f948b 43.5px,#1e998a 80.5px,#1fa187 163.5px,#20a585 195.5px,#22a784 212.5px,#26ac81 244.5px,#2bb17d 267.5px,#2fb37b 275.5px,#33b679 287.5px,#3bba75 301.5px,#47c06e 315.5px,#4fc369 321.5px,#55c666 327.5px,#60c960 333.5px,#60c960 335px,#67cc5c 0,#67cc5c 336px,#6dce58 338.5px,#6dce58 340px,#74d054 0,#74d054 343px,#7ed24e 0,#7ed24e 346px,#8bd546 0,#8bd546 349px,#9ad83c 0,#9ad83c 352px,#afdc2e 0,#afdc2e 355px,#d4e11a 0,#d4e11a 358px,#f6e61f 0,#f6e61f 363px,#dce218 0,#dce218 366px,#bade27 0,#bade27 370px)"></i>
<i class=a style="background:linear-gradient(#2b738e 0,#2b738e 1px,#26808e 11.5px,#23898d 23.5px,#228b8d 29.5px,#1f938b 49.5px,#1e998a 75px,#1fa386 135.5px,#22a784 163.5px,#24aa82 186.5px,#2cb17d 232.5px,#30b47a 250px,#33b679 255.5px,#36b877 267.5px,#39b976 272.5px,#3bba75 278.5px,#40bd72 287.5px,#40bd72 290.5px,#4dc26b 310.5px,#53c567 315.5px,#5bc862 324.5px,#6dce58 336px,#6dce58 337px,#74d054 0,#74d054 340px,#7cd24f 0,#7cd24f 343px,#86d449 0,#86d449 346px,#90d643 0,#90d643 349px,#9fd938 0,#9fd938 352px,#b2dd2c 0,#b2dd2c 355px,#dae218 0,#dae218 358px,#f6e61f 0,#f6e61f 363px,#d7e219 0,#d7e219 366px,#9dd93a 0,#9dd93a 370px)"></i>
<i class=b style="background:linear-gradient(#29798e 0,#29798e 1px,#24848d 6.5px,#22898d 14.5px,#20918c 40.5px,#1e978a 95.5px,#1e998a 129.5px,#1e9d88 215.5px,#1fa187 238.5px,#22a784 258.5px,#25ab81 270px,#2bb17d 284.5px,#2fb37b 290.5px,#39b976 304.5px,#3dbb74 307.5px,#3ebc73 310.5px,#45bf6f 315.5px,#4bc26c 321.5px,#59c764 330.5px,#59c764 332px,#60c960 0,#60c960 335px,#67cc5c 0,#67cc5c 336px,#6dce58 338.5px,#6dce58 340px,#74d054 0,#74d054 343px,#81d34c 0,#81d34c 346px,#8dd644 0,#8dd644 349px,#9dd93a 0,#9dd93a 352px,#b5dd2b 0,#b5dd2b 355px,#dce218 0,#dce218 358px,#f8e621 0,#f8e621 359px,#f6e61f 361.5px,#f6e61f 363px,#d4e11a 0,#d4e11a 366px,#b7dd29 0,#b7dd29 370px)"></i>
<i class=a style="background:linear-gradient(#23898d 0,#23898d 1px,#228b8d 29.5px,#1f948b 60.5px,#1e998a 83.5px,#1e9b89 98px,#1fa386 146.5px,#22a784 175.5px,#24aa82 195.5px,#2cb17d 241.5px,#2fb37b 250px,#35b778 270px,#39b976 278.5px,#3bba75 284.5px,#4dc26b 313px,#51c468 315.5px,#59c764 324.5px,#6bcd59 336px,#6bcd59 337px,#72cf55 0,#72cf55 340px,#79d151 0,#79d151 343px,#83d34b 0,#83d34b 346px,#8dd644 0,#8dd644 349px,#9dd93a 0,#9dd93a 352px,#b5dd2b 0,#b5dd2b 355px,#e1e318 0,#e1e318 358px,#f8e621 0,#f8e621 359px,#f3e51e 361.5px,#f3e51e 363px,#cde01d 0,#cde01d 366px,#95d73f 0,#95d73f 370px)"></i>
<i class=a style="background:linear-gradient(#22898d 0,#22898d 1px,#218c8d 3.5px,#1f958b 37.5px,#1e998a 66.5px,#1fa386 152.5px,#22a784 186.5px,#24aa82 209.5px,#2cb17d 252.5px,#30b47a 267.5px,#32b57a 272.5px,#39b976 290.5px,#45bf6f 310.5px,#4fc369 318.5px,#55c666 324.5px,#62ca5f 333.5px,#6dce58 338.5px,#6dce58 340px,#74d054 0,#74d054 343px,#7ed24e 0,#7ed24e 346px,#8bd546 0,#8bd546 349px,#9ad83c 0,#9ad83c 352px,#b2dd2c 0,#b2dd2c 355px,#e4e318 0,#e4e318 358px,#f8e621 0,#f8e621 359px,#f3e51e 361.5px,#f3e51e 363px,#c5df21 0,#c5df21 366px,#a5da35 0,#a5da35 370px)"></i>
<i class=b style="background:linear-gradient(#24858d 0,#24858d 1px,#20908c 9px,#1e978a 23.5px,#1e9e88 69.5px,#20a585 143.5px,#22a784 178.5px,#26ac81 229.5px,#29af7f 258.5px,#2cb17d 281.5px,#30b47a 298.5px,#35b778 310.5px,#40bd72 321.5px,#53c567 333.5px,#53c567 335px,#5bc862 0,#5bc862 337px,#62ca5f 0,#62ca5f 340px,#6bcd59 0,#6bcd59 343px,#74d054 0,#74d054 346px,#83d34b 0,#83d34b 349px,#95d73f 0,#95d73f 352px,#afdc2e 0,#afdc2e 355px,#e7e419 0,#e7e419 358px,#f8e621 0,#f8e621 360px,#f1e51c 0,#f1e51c 363px,#bdde26 0,#bdde26 366px,#a5da35 0,#a5da35 370px)"></i>
<i class=a style="background:linear-gradient(#277e8e 0,#277e8e 2px,#22898d 0,#22898d 3.5px,#20918c 9px,#1e988a 23.5px,#1e9f88 66.5px,#20a585 129.5px,#22a784 155.5px,#24aa82 195.5px,#27ad80 227px,#2cb17d 264.5px,#2cb17d 270px,#2eb27c 272.5px,#30b47a 293px,#32b57a 295.5px,#33b679 318.5px,#2cb17d 324.5px,#2cb17d 326px,#20a485 0,#20a485 329px,#30b47a 0,#30b47a 332px,#3dbb74 0,#3dbb74 335px,#47c06e 0,#47c06e 337px,#51c468 0,#51c468 340px,#5bc862 0,#5bc862 343px,#67cc5c 0,#67cc5c 346px,#74d054 0,#74d054 349px,#88d547 0,#88d547 352px,#a5da35 0,#a5da35 355px,#e9e419 0,#e9e419 358px,#f8e621 0,#f8e621 360px,#eee51b 0,#eee51b 363px,#afdc2e 0,#afdc2e 366px,#97d83e 0,#97d83e 370px)"></i>
<i class=b style="background:linear-gradient(#24848d 0,#24848d 1px,#228a8d 3.5px,#1f938b 11.5px,#1e9a89 32px,#1ea087 72.5px,#22a784 149.5px,#24aa82 189.5px,#2ab07e 244.5px,#2cb17d 258.5px,#2eb27c 264.5px,#30b47a 278.5px,#35b778 293px,#39b976 304.5px,#40bd72 318.5px,#45bf6f 327.5px,#4bc26c 333.5px,#59c764 341.5px,#59c764 343px,#60c960 0,#60c960 346px,#6bcd59 0,#6bcd59 349px,#7cd24f 0,#7cd24f 352px,#9fd938 0,#9fd938 355px,#ece41a 0,#ece41a 358px,#f8e621 0,#f8e621 360px,#ece41a 0,#ece41a 363px,#9dd93a 0,#9dd93a 366px,#4dc26b 0,#4dc26b 370px)"></i>
<i class=a style="background:linear-gradient(#29788e 0,#29788e 2px,#22898d 0,#22898d 3.5px,#20918c 9px,#1f968b 17.5px,#1e998a 29.5px,#1ea087 72.5px,#21a784 146.5px,#23a883 166.5px,#25ab81 198.5px,#2cb17d 252.5px,#2fb37b 261.5px,#30b47a 270px,#32b57a 272.5px,#33b679 281.5px,#39b976 295.5px,#40bd72 310.5px,#49c16d 321.5px,#59c764 333.5px,#64cb5d 338.5px,#64cb5d 340px,#6bcd59 0,#6bcd59 343px,#74d054 0,#74d054 346px,#83d34b 0,#83d34b 349px,#92d741 0,#92d741 352px,#b2dd2c 0,#b2dd2c 355px,#eee51b 0,#eee51b 358px,#f8e621 0,#f8e621 360px,#e9e419 0,#e9e419 363px,#aadb32 0,#aadb32 366px,#92d741 0,#92d741 370px)"></i>
<i class=a style="background:linear-gradient(#23888d 0,#23888d 1px,#1f928c 11.5px,#1e998a 32px,#1fa187 92.5px,#21a685 143.5px,#22a784 166.5px,#26ac81 209.5px,#2cb17d 252.5px,#2fb37b 261.5px,#30b47a 267.5px,#32b57a 272.5px,#39b976 290.5px,#3bba75 295.5px,#45bf6f 310.5px,#53c567 324.5px,#60c960 333.5px,#60c960 335px,#67cc5c 0,#67cc5c 336px,#6dce58 338.5px,#6dce58 340px,#77d052 0,#77d052 343px,#81d34c 0,#81d34c 346px,#8dd644 0,#8dd644 349px,#9fd938 0,#9fd938 352px,#bfdf24 0,#bfdf24 355px,#f1e51c 0,#f1e51c 358px,#f8e621 0,#f8e621 360px,#e7e419 0,#e7e419 363px,#b2dd2c 0,#b2dd2c 366px,#9ad83c 0,#9ad83c 370px)"></i>
<i class=b style="background:linear-gradient(#218c8d 0,#218c8d 1px,#208f8c 6.5px,#1e998a 60.5px,#1fa386 138.5px,#22a784 169.5px,#24aa82 195.5px,#29af7f 224.5px,#2cb17d 238.5px,#30b47a 255.5px,#35b778 270px,#39b976 278.5px,#3bba75 284.5px,#4bc26c 310.5px,#51c468 315.5px,#57c665 321.5px,#62ca5f 330.5px,#62ca5f 332px,#69cc5b 0,#69cc5b 333.5px,#6dce58 336px,#6dce58 337px,#74d054 0,#74d054 340px,#7ed24e 0,#7ed24e 343px,#88d547 0,#88d547 346px,#95d73f 0,#95d73f 349px,#a7db33 0,#a7db33 352px,#c7e01f 0,#c7e01f 355px,#f3e51e 0,#f3e51e 356.5px,#f8e621 359px,#f8e621 360px,#e4e318 0,#e4e318 363px,#b2dd2c 0,#b2dd2c 366px,#90d643 0,#90d643 370px)"></i>
<i class=a style="background:linear-gradient(#23888d 0,#23888d 1px,#208f8c 17.5px,#1e978a 52px,#1e9c89 89.5px,#1fa386 138.5px,#22a784 169.5px,#25ab81 198.5px,#2ab07e 229.5px,#2fb37b 247.5px,#36b877 270px,#38b976 272.5px,#3bba75 281.5px,#40bd72 290.5px,#42be71 295.5px,#45bf6f 301.5px,#4bc26c 307.5px,#4fc369 313px,#53c567 315.5px,#59c764 321.5px,#5ec961 324.5px,#60c960 327.5px,#60c960 329px,#67cc5c 0,#67cc5c 330.5px,#70ce56 336px,#70ce56 337px,#79d151 0,#79d151 340px,#81d34c 0,#81d34c 343px,#8bd546 0,#8bd546 346px,#9ad83c 0,#9ad83c 349px,#afdc2e 0,#afdc2e 352px,#cfe11c 0,#cfe11c 355px,#f3e51e 0,#f3e51e 356.5px,#f8e621 359px,#f8e621 360px,#dfe318 0,#dfe318 363px,#b5dd2b 0,#b5dd2b 366px,#9ad83c 0,#9ad83c 370px)"></i>
<i class=b style="background:linear-gradient(#277d8e 0,#277d8e 1px,#24848d 6.5px,#23898d 14.5px,#20908c 40.5px,#1f958b 66.5px,#1e998a 95.5px,#1fa386 172.5px,#22a784 201.5px,#26ac81 232.5px,#2bb17d 255.5px,#30b47a 270px,#32b57a 272.5px,#36b877 284.5px,#40bd72 301.5px,#44be70 304.5px,#47c06e 310.5px,#62ca5f 330.5px,#62ca5f 332px,#69cc5b 0,#69cc5b 335px,#70ce56 0,#70ce56 337px,#77d052 0,#77d052 340px,#81d34c 0,#81d34c 343px,#8dd644 0,#8dd644 346px,#9dd93a 0,#9dd93a 349px,#b2dd2c 0,#b2dd2c 352px,#d7e219 0,#d7e219 355px,#f6e61f 0,#f6e61f 360px,#dae218 0,#dae218 363px,#b5dd2b 0,#b5dd2b 366px,#a2da37 0,#a2da37 370px)"></i>
<i class=a style="background:linear-gradient(#24848d 0,#24848d 1px,#24868d 3.5px,#25828e 20.5px,#218d8c 40.5px,#1f938b 54.5px,#1e998a 80.5px,#1fa386 141px,#22a784 169.5px,#25ab81 198.5px,#2cb17d 235.5px,#30b47a 252.5px,#39b976 275.5px,#40bd72 290.5px,#4bc26c 307.5px,#51c468 313px,#59c764 321.5px,#6dce58 333.5px,#72cf55 336px,#72cf55 337px,#79d151 0,#79d151 340px,#83d34b 0,#83d34b 343px,#90d643 0,#90d643 346px,#9fd938 0,#9fd938 349px,#b5dd2b 0,#b5dd2b 352px,#dce218 0,#dce218 355px,#f6e61f 0,#f6e61f 360px,#d4e11a 0,#d4e11a 363px,#afdc2e 0,#afdc2e 366px,#90d643 0,#90d643 370px)"></i>
<i class=a style="background:linear-gradient(#23888d 0,#23888d 1px,#228b8d 6.5px,#1f948b 40.5px,#1e998a 75px,#1fa187 141px,#21a685 175.5px,#24aa82 209.5px,#2cb17d 252.5px,#35b778 275.5px,#39b976 287.5px,#4bc26c 313px,#4fc369 315.5px,#55c666 321.5px,#62ca5f 330.5px,#62ca5f 332px,#69cc5b 0,#69cc5b 335px,#70ce56 0,#70ce56 337px,#77d052 0,#77d052 340px,#81d34c 0,#81d34c 343px,#8dd644 0,#8dd644 346px,#9dd93a 0,#9dd93a 349px,#b5dd2b 0,#b5dd2b 352px,#e1e318 0,#e1e318 355px,#f8e621 0,#f8e621 356.5px,#f3e51e 359px,#f3e51e 360px,#cde01d 0,#cde01d 363px,#addc30 0,#addc30 366px,#9ad83c 0,#9ad83c 370px)"></i>
<i class=b style="background:linear-gradient(#26808e 0,#26808e 2px,#23888d 0,#23888d 3.5px,#20908c 11.5px,#1f958b 20.5px,#1e998a 37.5px,#1fa187 109.5px,#20a585 163.5px,#22a784 192.5px,#24aa82 244.5px,#24aa82 287.5px,#2cb17d 298.5px,#36b877 307.5px,#3dbb74 313px,#42be71 315.5px,#49c16d 321.5px,#59c764 330.5px,#59c764 332px,#60c960 0,#60c960 335px,#69cc5b 0,#69cc5b 337px,#70ce56 0,#70ce56 340px,#7cd24f 0,#7cd24f 343px,#88d547 0,#88d547 346px,#97d83e 0,#97d83e 349px,#b2dd2c 0,#b2dd2c 352px,#e4e318 0,#e4e318 355px,#f8e621 0,#f8e621 358px,#f1e51c 0,#f1e51c 360px,#c5df21 0,#c5df21 363px,#a7db33 0,#a7db33 366px,#97d83e 0,#97d83e 370px)"></i>
<i class=a style="background:linear-gradient(#218c8d 0,#218c8d 1px,#208f8c 3.5px,#1e998a 34.5px,#1e9a89 49.5px,#1ea087 95.5px,#22a784 181.5px,#24aa82 218.5px,#2ab07e 267.5px,#2cb17d 278.5px,#2fb37b 287.5px,#30b47a 293px,#3bba75 313px,#4dc26b 327.5px,#59c764 333.5px,#59c764 335px,#60c960 0,#60c960 337px,#69cc5b 0,#69cc5b 340px,#72cf55 0,#72cf55 343px,#7ed24e 0,#7ed24e 346px,#90d643 0,#90d643 349px,#addc30 0,#addc30 352px,#e9e419 0,#e9e419 355px,#f8e621 0,#f8e621 358px,#f1e51c 0,#f1e51c 360px,#b7dd29 0,#b7dd29 363px,#97d83e 0,#97d83e 366px,#86d449 0,#86d449 370px)"></i>
<i class=b style="background:linear-gradient(#208f8c 0,#208f8c 1px,#1f928c 6.5px,#1e998a 40.5px,#1fa187 115.5px,#21a685 169.5px,#23a883 204.5px,#25ab81 232.5px,#2ab07e 270px,#2cb17d 284.5px,#2fb37b 293px,#33b679 307.5px,#33b679 310.5px,#35b778 315.5px,#38b976 324.5px,#39b976 333.5px,#3ebc73 336px,#3ebc73 337px,#49c16d 0,#49c16d 340px,#55c666 0,#55c666 343px,#67cc5c 0,#67cc5c 346px,#7ed24e 0,#7ed24e 349px,#a2da37 0,#a2da37 352px,#ece41a 0,#ece41a 355px,#f8e621 0,#f8e621 358px,#eee51b 0,#eee51b 360px,#a5da35 0,#a5da35 363px,#81d34c 0,#81d34c 366px,#39b976 0,#39b976 370px)"></i>
<i class=a style="background:linear-gradient(#218e8c 0,#218e8c 1px,#20918c 3.5px,#1e998a 34.5px,#1e9f88 83.5px,#21a685 152.5px,#23a883 186.5px,#27ad80 227px,#2cb17d 255.5px,#30b47a 272.5px,#35b778 284.5px,#36b877 290.5px,#42be71 310.5px,#4dc26b 321.5px,#5ec961 333.5px,#64cb5d 336px,#64cb5d 337px,#6bcd59 0,#6bcd59 340px,#74d054 0,#74d054 343px,#81d34c 0,#81d34c 346px,#92d741 0,#92d741 349px,#afdc2e 0,#afdc2e 352px,#eee51b 0,#eee51b 355px,#f8e621 0,#f8e621 358px,#e9e419 0,#e9e419 360px,#a7db33 0,#a7db33 363px,#8dd644 0,#8dd644 366px,#7ed24e 0,#7ed24e 370px)"></i>
<i class=a style="background:linear-gradient(#23888d 0,#23888d 1px,#1f928c 11.5px,#1e998a 32px,#1fa187 89.5px,#20a585 135.5px,#21a784 155.5px,#23a883 175.5px,#27ad80 215.5px,#2cb17d 247.5px,#30b47a 264.5px,#35b778 275.5px,#39b976 287.5px,#47c06e 310.5px,#51c468 318.5px,#57c665 324.5px,#5bc862 327.5px,#5bc862 329px,#62ca5f 0,#62ca5f 330.5px,#67cc5c 333.5px,#67cc5c 335px,#70ce56 0,#70ce56 337px,#77d052 0,#77d052 340px,#81d34c 0,#81d34c 343px,#90d643 0,#90d643 346px,#a2da37 0,#a2da37 349px,#bfdf24 0,#bfdf24 352px,#f1e51c 0,#f1e51c 355px,#f8e621 0,#f8e621 358px,#e7e419 0,#e7e419 360px,#b2dd2c 0,#b2dd2c 363px,#9ad83c 0,#9ad83c 366px,#8dd644 0,#8dd644 370px)"></i>
<i class=b style="background:linear-gradient(#23898d 0,#23898d 1px,#1f928c 14.5px,#1e998a 40.5px,#1e9a89 54.5px,#1fa187 112.5px,#21a784 166.5px,#23a982 189.5px,#27ad80 218.5px,#2cb17d 244.5px,#2cb17d 247.5px,#2eb27c 252.5px,#33b679 270px,#38b976 278.5px,#3bba75 287.5px,#45bf6f 304.5px,#4bc26c 310.5px,#51c468 315.5px,#67cc5c 330.5px,#6dce58 333.5px,#6dce58 335px,#74d054 0,#74d054 337px,#7ed24e 0,#7ed24e 340px,#88d547 0,#88d547 343px,#97d83e 0,#97d83e 346px,#aadb32 0,#aadb32 349px,#cde01d 0,#cde01d 352px,#f3e51e 0,#f3e51e 353.5px,#f8e621 356.5px,#f8e621 358px,#e1e318 0,#e1e318 360px,#b5dd2b 0,#b5dd2b 363px,#9fd938 0,#9fd938 366px,#90d643 0,#90d643 370px)"></i>
<i class=a style="background:linear-gradient(#23898d 0,#23898d 1px,#228b8d 3.5px,#208f8c 26.5px,#1e998a 66.5px,#1e9a89 77.5px,#1fa386 132.5px,#22a784 161px,#24aa82 184px,#2cb17d 229.5px,#30b47a 247.5px,#33b679 252.5px,#38b976 267.5px,#3bba75 275.5px,#40bd72 284.5px,#42be71 290.5px,#49c16d 301.5px,#4fc369 307.5px,#53c567 313px,#5bc862 318.5px,#67cc5c 327.5px,#72cf55 333.5px,#72cf55 335px,#79d151 0,#79d151 337px,#83d34b 0,#83d34b 340px,#8dd644 0,#8dd644 343px,#9dd93a 0,#9dd93a 346px,#afdc2e 0,#afdc2e 349px,#d4e11a 0,#d4e11a 352px,#f6e61f 0,#f6e61f 353.5px,#f8e621 356.5px,#f8e621 358px,#dce218 0,#dce218 360px,#b2dd2c 0,#b2dd2c 363px,#97d83e 0,#97d83e 366px,#67cc5c 0,#67cc5c 370px)"></i>
<i class=b style="background:linear-gradient(#29788e 0,#29788e 1px,#287b8e 6.5px,#287b8e 11.5px,#277e8e 20.5px,#26818e 43.5px,#25828e 86.5px,#1f958b 146.5px,#1e998a 166.5px,#1fa187 201.5px,#21a784 227px,#23a982 235.5px,#2ab07e 261.5px,#38b976 290.5px,#3dbb74 295.5px,#3ebc73 298.5px,#47c06e 307.5px,#49c16d 310.5px,#62ca5f 327.5px,#62ca5f 329px,#69cc5b 0,#69cc5b 332px,#70ce56 0,#70ce56 335px,#77d052 0,#77d052 337px,#81d34c 0,#81d34c 340px,#8dd644 0,#8dd644 343px,#9dd93a 0,#9dd93a 346px,#b5dd2b 0,#b5dd2b 349px,#dae218 0,#dae218 352px,#f6e61f 0,#f6e61f 358px,#d7e219 0,#d7e219 360px,#b2dd2c 0,#b2dd2c 363px,#9fd938 0,#9fd938 366px,#95d73f 0,#95d73f 370px)"></i>
<i class=a style="background:linear-gradient(#228b8d 0,#228b8d 1px,#218e8c 3.5px,#218c8d 34.5px,#20918c 54.5px,#1e998a 86.5px,#1e9a89 95.5px,#1fa386 149.5px,#22a784 175.5px,#25ab81 204.5px,#2ab07e 229.5px,#2cb17d 241.5px,#30b47a 252.5px,#35b778 267.5px,#38b976 272.5px,#3bba75 281.5px,#4bc26c 307.5px,#55c666 315.5px,#5bc862 321.5px,#64cb5d 327.5px,#64cb5d 329px,#6bcd59 0,#6bcd59 330.5px,#70ce56 333.5px,#70ce56 335px,#79d151 0,#79d151 337px,#81d34c 0,#81d34c 340px,#8dd644 0,#8dd644 343px,#9dd93a 0,#9dd93a 346px,#b5dd2b 0,#b5dd2b 349px,#e1e318 0,#e1e318 352px,#f8e621 0,#f8e621 353.5px,#f3e51e 356.5px,#f3e51e 358px,#cde01d 0,#cde01d 360px,#aadb32 0,#aadb32 363px,#95d73f 0,#95d73f 366px,#79d151 0,#79d151 370px)"></i>
<i class=a style="background:linear-gradient(#218e8c 0,#218e8c 1px,#20918c 3.5px,#1e988a 60.5px,#1fa187 143.5px,#21a685 181.5px,#23a982 209.5px,#27ad80 232.5px,#2cb17d 258.5px,#33b679 275.5px,#39b976 290.5px,#40bd72 301.5px,#44be70 304.5px,#47c06e 310.5px,#5ec961 327.5px,#64cb5d 330.5px,#64cb5d 332px,#6bcd59 0,#6bcd59 335px,#72cf55 0,#72cf55 337px,#7cd24f 0,#7cd24f 340px,#88d547 0,#88d547 343px,#9ad83c 0,#9ad83c 346px,#b2dd2c 0,#b2dd2c 349px,#e7e419 0,#e7e419 352px,#f8e621 0,#f8e621 355px,#f1e51c 0,#f1e51c 358px,#c2df22 0,#c2df22 360px,#a5da35 0,#a5da35 363px,#90d643 0,#90d643 366px,#81d34c 0,#81d34c 370px)"></i>
<i class=b style="background:linear-gradient(#218d8c 0,#218d8c 1px,#20908c 3.5px,#1e998a 32px,#1fa187 98px,#21a685 146.5px,#22a784 178.5px,#24aa82 204.5px,#27ad80 241.5px,#2cb17d 278.5px,#30b47a 298.5px,#38b976 313px,#42be71 321.5px,#59c764 333.5px,#59c764 335px,#62ca5f 0,#62ca5f 337px,#6dce58 0,#6dce58 340px,#7cd24f 0,#7cd24f 343px,#8dd644 0,#8dd644 346px,#aadb32 0,#aadb32 349px,#e9e419 0,#e9e419 352px,#f8e621 0,#f8e621 355px,#eee51b 0,#eee51b 358px,#b2dd2c 0,#b2dd2c 360px,#95d73f 0,#95d73f 363px,#86d449 0,#86d449 366px,#7cd24f 0,#7cd24f 370px)"></i>
<i class=a style="background:linear-gradient(#218c8d 0,#218c8d 1px,#20918c 6.5px,#1e998a 26.5px,#1fa187 86.5px,#21a685 138.5px,#23a883 172.5px,#26ac81 212.5px,#2cb17d 255.5px,#2fb37b 264.5px,#30b47a 272.5px,#33b679 281.5px,#36b877 290.5px,#38b976 295.5px,#42be71 313px,#49c16d 321.5px,#55c666 330.5px,#5bc862 333.5px,#5bc862 335px,#62ca5f 0,#62ca5f 337px,#6bcd59 0,#6bcd59 340px,#77d052 0,#77d052 343px,#88d547 0,#88d547 346px,#a7db33 0,#a7db33 349px,#eee51b 0,#eee51b 352px,#f8e621 0,#f8e621 355px,#ece41a 0,#ece41a 358px,#a5da35 0,#a5da35 360px,#81d34c 0,#81d34c 363px,#69cc5b 0,#69cc5b 366px,#35b778 0,#35b778 370px)"></i>
<i class=b style="background:linear-gradient(#208f8c 0,#208f8c 1px,#1f928c 3.5px,#1e998a 34.5px,#1fa187 100.5px,#21a685 146.5px,#22a784 169.5px,#24aa82 192.5px,#2ab07e 235.5px,#2cb17d 247.5px,#2eb27c 252.5px,#33b679 270px,#35b778 272.5px,#39b976 284.5px,#3dbb74 290.5px,#40bd72 298.5px,#44be70 301.5px,#49c16d 310.5px,#60c960 327.5px,#60c960 329px,#67cc5c 0,#67cc5c 330.5px,#6dce58 333.5px,#6dce58 335px,#74d054 0,#74d054 337px,#7ed24e 0,#7ed24e 340px,#8bd546 0,#8bd546 343px,#9dd93a 0,#9dd93a 346px,#bdde26 0,#bdde26 349px,#f1e51c 0,#f1e51c 352px,#f8e621 0,#f8e621 355px,#e7e419 0,#e7e419 358px,#afdc2e 0,#afdc2e 360px,#95d73f 0,#95d73f 363px,#83d34b 0,#83d34b 366px,#74d054 0,#74d054 370px)"></i>
<i class=a style="background:linear-gradient(#20908c 0,#20908c 1px,#1f928c 3.5px,#1f968b 43.5px,#1e998a 63.5px,#1fa386 135.5px,#21a784 163.5px,#23a982 181.5px,#27ad80 207px,#2cb17d 232.5px,#30b47a 250px,#32b57a 252.5px,#36b877 267.5px,#39b976 272.5px,#3bba75 278.5px,#4bc26c 304.5px,#51c468 310.5px,#57c665 315.5px,#5ec961 321.5px,#6dce58 330.5px,#6dce58 332px,#74d054 0,#74d054 335px,#7ed24e 0,#7ed24e 337px,#88d547 0,#88d547 340px,#95d73f 0,#95d73f 343px,#aadb32 0,#aadb32 346px,#cae01e 0,#cae01e 349px,#f3e51e 0,#f3e51e 350.5px,#f8e621 353.5px,#f8e621 355px,#e1e318 0,#e1e318 358px,#b5dd2b 0,#b5dd2b 360px,#9ad83c 0,#9ad83c 363px,#86d449 0,#86d449 366px,#53c567 0,#53c567 370px)"></i>
<i class=a style="background:linear-gradient(#24858d 0,#24858d 1px,#23888d 3.5px,#1f938b 32px,#1e998a 69.5px,#1fa386 146.5px,#22a784 178.5px,#25ab81 207px,#2cb17d 244.5px,#30b47a 255.5px,#33b679 264.5px,#40bd72 290.5px,#47c06e 301.5px,#53c567 313px,#64cb5d 324.5px,#64cb5d 326px,#6bcd59 0,#6bcd59 327.5px,#70ce56 330.5px,#70ce56 332px,#79d151 0,#79d151 335px,#81d34c 0,#81d34c 337px,#8dd644 0,#8dd644 340px,#9ad83c 0,#9ad83c 343px,#afdc2e 0,#afdc2e 346px,#d4e11a 0,#d4e11a 349px,#f6e61f 0,#f6e61f 350.5px,#f8e621 353.5px,#f8e621 355px,#dce218 0,#dce218 358px,#b5dd2b 0,#b5dd2b 360px,#9fd938 0,#9fd938 363px,#92d741 0,#92d741 366px,#86d449 0,#86d449 370px)"></i>
<i class=b style="background:linear-gradient(#25828e 0,#25828e 1px,#24858d 3.5px,#267f8e 20.5px,#228b8d 37.5px,#1f948b 60.5px,#1e998a 83.5px,#1fa386 143.5px,#22a784 172.5px,#26ac81 207px,#2bb17d 232.5px,#2fb37b 247.5px,#33b679 258.5px,#39b976 272.5px,#3bba75 278.5px,#49c16d 301.5px,#4fc369 307.5px,#51c468 310.5px,#59c764 315.5px,#5bc862 318.5px,#60c960 321.5px,#60c960 323px,#67cc5c 0,#67cc5c 324.5px,#6bcd59 327.5px,#6bcd59 329px,#72cf55 0,#72cf55 332px,#79d151 0,#79d151 335px,#83d34b 0,#83d34b 337px,#90d643 0,#90d643 340px,#9dd93a 0,#9dd93a 343px,#b5dd2b 0,#b5dd2b 346px,#dce218 0,#dce218 349px,#f6e61f 0,#f6e61f 355px,#d4e11a 0,#d4e11a 358px,#b2dd2c 0,#b2dd2c 360px,#9ad83c 0,#9ad83c 363px,#8bd546 0,#8bd546 366px,#7ed24e 0,#7ed24e 370px)"></i>
<i class=a style="background:linear-gradient(#25838d 0,#25838d 1px,#23888d 3.5px,#20918c 17.5px,#1e978a 40.5px,#1e9f88 126.5px,#1fa386 198.5px,#20a485 238.5px,#22a784 252.5px,#25ab81 261.5px,#2fb37b 281.5px,#38b976 293px,#45bf6f 307.5px,#59c764 321.5px,#59c764 323px,#60c960 0,#60c960 326px,#67cc5c 0,#67cc5c 327.5px,#6dce58 330.5px,#6dce58 332px,#74d054 0,#74d054 335px,#7ed24e 0,#7ed24e 337px,#8bd546 0,#8bd546 340px,#9dd93a 0,#9dd93a 343px,#b5dd2b 0,#b5dd2b 346px,#e1e318 0,#e1e318 349px,#f8e621 0,#f8e621 350.5px,#f3e51e 353.5px,#f3e51e 355px,#cae01e 0,#cae01e 358px,#aadb32 0,#aadb32 360px,#97d83e 0,#97d83e 363px,#8dd644 0,#8dd644 366px,#83d34b 0,#83d34b 370px)"></i>
<i class=a style="background:linear-gradient(#20908c 0,#20908c 1px,#1f938b 3.5px,#1e998a 49.5px,#1fa386 155.5px,#21a784 198.5px,#23a982 218.5px,#27ad80 250px,#2cb17d 270px,#30b47a 281.5px,#39b976 298.5px,#3dbb74 301.5px,#40bd72 307.5px,#57c665 324.5px,#57c665 326px,#5ec961 0,#5ec961 327.5px,#64cb5d 330.5px,#64cb5d 332px,#6dce58 0,#6dce58 335px,#77d052 0,#77d052 337px,#83d34b 0,#83d34b 340px,#95d73f 0,#95d73f 343px,#afdc2e 0,#afdc2e 346px,#e7e419 0,#e7e419 349px,#f8e621 0,#f8e621 352px,#f1e51c 0,#f1e51c 355px,#bdde26 0,#bdde26 358px,#9dd93a 0,#9dd93a 360px,#8bd546 0,#8bd546 363px,#7cd24f 0,#7cd24f 366px,#70ce56 0,#70ce56 370px)"></i>
<i class=b style="background:linear-gradient(#1f938b 0,#1f938b 1px,#1f958b 3.5px,#1e998a 54.5px,#1fa386 169.5px,#22a784 215.5px,#24aa82 241.5px,#2cb17d 290.5px,#2eb27c 295.5px,#33b679 310.5px,#3bba75 321.5px,#42be71 327.5px,#42be71 329px,#49c16d 0,#49c16d 332px,#51c468 0,#51c468 335px,#5ec961 0,#5ec961 337px,#6dce58 0,#6dce58 340px,#83d34b 0,#83d34b 343px,#a7db33 0,#a7db33 346px,#ece41a 0,#ece41a 349px,#f8e621 0,#f8e621 352px,#ece41a 0,#ece41a 355px,#aadb32 0,#aadb32 358px,#86d449 0,#86d449 360px,#70ce56 0,#70ce56 363px,#5ec961 0,#5ec961 366px,#44be70 0,#44be70 370px)"></i>
<i class=a style="background:linear-gradient(#1f928c 0,#1f928c 1px,#1f958b 6.5px,#1e998a 40.5px,#1fa386 129.5px,#22a784 169.5px,#24aa82 198.5px,#2cb17d 247.5px,#33b679 270px,#35b778 272.5px,#39b976 284.5px,#47c06e 307.5px,#4dc26b 313px,#5ec961 324.5px,#69cc5b 330.5px,#69cc5b 332px,#72cf55 0,#72cf55 335px,#7cd24f 0,#7cd24f 337px,#88d547 0,#88d547 340px,#9ad83c 0,#9ad83c 343px,#bade27 0,#bade27 346px,#f1e51c 0,#f1e51c 349px,#f8e621 0,#f8e621 352px,#e9e419 0,#e9e419 355px,#afdc2e 0,#afdc2e 358px,#92d741 0,#92d741 360px,#81d34c 0,#81d34c 363px,#74d054 0,#74d054 366px,#6bcd59 0,#6bcd59 370px)"></i>
<i class=b style="background:linear-gradient(#23898d 0,#23898d 1px,#20918c 11.5px,#1e998a 34.5px,#1fa386 120.5px,#21a784 158.5px,#23a982 178.5px,#27ad80 212.5px,#2cb17d 238.5px,#30b47a 255.5px,#35b778 267.5px,#39b976 278.5px,#45bf6f 298.5px,#4bc26c 304.5px,#51c468 310.5px,#60c960 321.5px,#60c960 323px,#67cc5c 0,#67cc5c 324.5px,#6dce58 327.5px,#6dce58 329px,#74d054 0,#74d054 332px,#7cd24f 0,#7cd24f 335px,#88d547 0,#88d547 337px,#95d73f 0,#95d73f 340px,#aadb32 0,#aadb32 343px,#cae01e 0,#cae01e 346px,#f3e51e 0,#f3e51e 347.5px,#f8e621 350.5px,#f8e621 352px,#e4e318 0,#e4e318 355px,#b5dd2b 0,#b5dd2b 358px,#9dd93a 0,#9dd93a 360px,#8dd644 0,#8dd644 363px,#86d449 0,#86d449 366px,#7cd24f 0,#7cd24f 370px)"></i>
<i class=a style="background:linear-gradient(#22898d 0,#22898d 1px,#218c8d 3.5px,#1e978a 52px,#1e9c89 89.5px,#1fa386 138.5px,#22a784 166.5px,#24aa82 189.5px,#2ab07e 224.5px,#2cb17d 235.5px,#30b47a 247.5px,#36b877 264.5px,#40bd72 284.5px,#4bc26c 301.5px,#55c666 310.5px,#5bc862 315.5px,#64cb5d 321.5px,#64cb5d 323px,#6bcd59 0,#6bcd59 326px,#72cf55 0,#72cf55 329px,#79d151 0,#79d151 332px,#81d34c 0,#81d34c 335px,#8dd644 0,#8dd644 337px,#9dd93a 0,#9dd93a 340px,#b2dd2c 0,#b2dd2c 343px,#d4e11a 0,#d4e11a 346px,#f6e61f 0,#f6e61f 352px,#dce218 0,#dce218 355px,#b5dd2b 0,#b5dd2b 358px,#9dd93a 0,#9dd93a 360px,#8dd644 0,#8dd644 363px,#83d34b 0,#83d34b 366px,#79d151 0,#79d151 370px)"></i>
<i class=a style="background:linear-gradient(#23878d 0,#23878d 1px,#22898d 3.5px,#228a8d 34.5px,#1f968b 77.5px,#1e998a 98px,#1fa386 158.5px,#22a784 186.5px,#25ab81 212.5px,#2ab07e 235.5px,#30b47a 258.5px,#36b877 270px,#39b976 278.5px,#40bd72 290.5px,#44be70 293px,#49c16d 301.5px,#53c567 310.5px,#64cb5d 321.5px,#64cb5d 323px,#6bcd59 0,#6bcd59 326px,#72cf55 0,#72cf55 329px,#79d151 0,#79d151 332px,#83d34b 0,#83d34b 335px,#8dd644 0,#8dd644 337px,#9dd93a 0,#9dd93a 340px,#b5dd2b 0,#b5dd2b 343px,#dce218 0,#dce218 346px,#f8e621 0,#f8e621 347.5px,#f6e61f 350.5px,#f6e61f 352px,#d2e11b 0,#d2e11b 355px,#afdc2e 0,#afdc2e 358px,#9ad83c 0,#9ad83c 360px,#8dd644 0,#8dd644 363px,#83d34b 0,#83d34b 366px,#79d151 0,#79d151 370px)"></i>
<i class=b style="background:linear-gradient(#20918c 0,#20918c 1px,#1f948b 3.5px,#1f928c 37.5px,#208f8c 66.5px,#1e998a 106.5px,#1fa386 161px,#22a784 189.5px,#24aa82 207px,#2bb17d 244.5px,#2fb37b 255.5px,#33b679 267.5px,#36b877 272.5px,#39b976 281.5px,#40bd72 293px,#44be70 295.5px,#49c16d 304.5px,#4fc369 310.5px,#60c960 321.5px,#60c960 323px,#67cc5c 0,#67cc5c 324.5px,#6dce58 327.5px,#6dce58 329px,#74d054 0,#74d054 332px,#7ed24e 0,#7ed24e 335px,#8bd546 0,#8bd546 337px,#9ad83c 0,#9ad83c 340px,#b5dd2b 0,#b5dd2b 343px,#e4e318 0,#e4e318 346px,#f8e621 0,#f8e621 347.5px,#f3e51e 350.5px,#f3e51e 352px,#c7e01f 0,#c7e01f 355px,#a7db33 0,#a7db33 358px,#92d741 0,#92d741 360px,#83d34b 0,#83d34b 363px,#74d054 0,#74d054 366px,#60c960 0,#60c960 370px)"></i>
<i class=a style="background:linear-gradient(#1f928c 0,#1f928c 1px,#1f958b 3.5px,#1e978a 23.5px,#1e998a 43.5px,#1ea087 109.5px,#22a784 195.5px,#25ab81 241.5px,#2ab07e 275.5px,#2fb37b 290.5px,#35b778 301.5px,#39b976 307.5px,#4dc26b 321.5px,#53c567 324.5px,#53c567 326px,#5bc862 0,#5bc862 329px,#64cb5d 0,#64cb5d 332px,#6dce58 0,#6dce58 335px,#7cd24f 0,#7cd24f 337px,#8dd644 0,#8dd644 340px,#addc30 0,#addc30 343px,#e9e419 0,#e9e419 346px,#f8e621 0,#f8e621 349px,#eee51b 0,#eee51b 352px,#b5dd2b 0,#b5dd2b 355px,#95d73f 0,#95d73f 358px,#83d34b 0,#83d34b 360px,#77d052 0,#77d052 363px,#70ce56 0,#70ce56 366px,#67cc5c 0,#67cc5c 370px)"></i>
<i class=b style="background:linear-gradient(#1f938b 0,#1f938b 1px,#1f958b 3.5px,#1e998a 32px,#1fa286 112.5px,#22a784 166.5px,#24aa82 201.5px,#2cb17d 250px,#30b47a 267.5px,#33b679 272.5px,#36b877 281.5px,#45bf6f 307.5px,#4bc26c 313px,#57c665 321.5px,#57c665 323px,#5ec961 0,#5ec961 324.5px,#62ca5f 327.5px,#62ca5f 329px,#6bcd59 0,#6bcd59 332px,#74d054 0,#74d054 335px,#81d34c 0,#81d34c 337px,#92d741 0,#92d741 340px,#b2dd2c 0,#b2dd2c 343px,#eee51b 0,#eee51b 346px,#f8e621 0,#f8e621 349px,#e9e419 0,#e9e419 352px,#addc30 0,#addc30 355px,#8bd546 0,#8bd546 358px,#77d052 0,#77d052 360px,#69cc5b 0,#69cc5b 363px,#5bc862 0,#5bc862 366px,#49c16d 0,#49c16d 370px)"></i>
<i class=a style="background:linear-gradient(#1f938b 0,#1f938b 1px,#1f968b 3.5px,#1e978a 32px,#1e998a 54.5px,#1fa386 132.5px,#22a784 166.5px,#26ac81 201.5px,#29af7f 215.5px,#2cb17d 235.5px,#30b47a 247.5px,#36b877 264.5px,#40bd72 284.5px,#4bc26c 301.5px,#55c666 310.5px,#5bc862 315.5px,#60c960 318.5px,#60c960 320px,#67cc5c 0,#67cc5c 321.5px,#6bcd59 324.5px,#6bcd59 326px,#72cf55 0,#72cf55 329px,#7cd24f 0,#7cd24f 332px,#86d449 0,#86d449 335px,#92d741 0,#92d741 337px,#a7db33 0,#a7db33 340px,#c5df21 0,#c5df21 343px,#f3e51e 0,#f3e51e 344.5px,#f8e621 347.5px,#f8e621 349px,#e4e318 0,#e4e318 352px,#b5dd2b 0,#b5dd2b 355px,#9ad83c 0,#9ad83c 358px,#88d547 0,#88d547 360px,#79d151 0,#79d151 363px,#6bcd59 0,#6bcd59 366px,#51c468 0,#51c468 370px)"></i>
<i class=a style="background:linear-gradient(#228a8d 0,#228a8d 1px,#218d8c 3.5px,#1e988a 49.5px,#1e9b89 77.5px,#1fa386 135.5px,#21a784 163.5px,#23a982 181.5px,#27ad80 207px,#2cb17d 232.5px,#30b47a 247.5px,#32b57a 252.5px,#39b976 270px,#3dbb74 275.5px,#40bd72 284.5px,#4bc26c 298.5px,#55c666 307.5px,#57c665 310.5px,#64cb5d 318.5px,#64cb5d 320px,#6bcd59 0,#6bcd59 321.5px,#70ce56 324.5px,#70ce56 326px,#79d151 0,#79d151 329px,#81d34c 0,#81d34c 332px,#8dd644 0,#8dd644 335px,#9ad83c 0,#9ad83c 337px,#afdc2e 0,#afdc2e 340px,#d4e11a 0,#d4e11a 343px,#f6e61f 0,#f6e61f 344.5px,#f8e621 347.5px,#f8e621 349px,#dce218 0,#dce218 352px,#b5dd2b 0,#b5dd2b 355px,#9dd93a 0,#9dd93a 358px,#8dd644 0,#8dd644 360px,#83d34b 0,#83d34b 363px,#7cd24f 0,#7cd24f 366px,#72cf55 0,#72cf55 370px)"></i>
<i class=b style="background:linear-gradient(#23878d 0,#23878d 1px,#23898d 3.5px,#23878d 29.5px,#1f958b 69.5px,#1e998a 89.5px,#1e9a89 98px,#1fa386 152.5px,#22a784 178.5px,#26ac81 209.5px,#2bb17d 235.5px,#30b47a 250px,#33b679 258.5px,#39b976 272.5px,#47c06e 295.5px,#57c665 310.5px,#64cb5d 318.5px,#64cb5d 320px,#6bcd59 0,#6bcd59 323px,#72cf55 0,#72cf55 326px,#79d151 0,#79d151 329px,#83d34b 0,#83d34b 332px,#8dd644 0,#8dd644 335px,#9dd93a 0,#9dd93a 337px,#b5dd2b 0,#b5dd2b 340px,#dce218 0,#dce218 343px,#f8e621 0,#f8e621 344.5px,#f6e61f 347.5px,#f6e61f 349px,#d2e11b 0,#d2e11b 352px,#afdc2e 0,#afdc2e 355px,#9ad83c 0,#9ad83c 358px,#8dd644 0,#8dd644 360px,#81d34c 0,#81d34c 363px,#79d151 0,#79d151 366px,#70ce56 0,#70ce56 370px)"></i>
<i class=a style="background:linear-gradient(#23888d 0,#23888d 1px,#1f938b 17.5px,#1e998a 40.5px,#1e9a89 54.5px,#1e9f88 100.5px,#1fa386 155.5px,#21a685 218.5px,#20a485 244.5px,#24aa82 261.5px,#2cb17d 275.5px,#38b976 290.5px,#39b976 293px,#47c06e 304.5px,#49c16d 307.5px,#57c665 315.5px,#57c665 317px,#5ec961 0,#5ec961 318.5px,#62ca5f 321.5px,#62ca5f 323px,#6bcd59 0,#6bcd59 326px,#72cf55 0,#72cf55 329px,#7cd24f 0,#7cd24f 332px,#88d547 0,#88d547 335px,#9ad83c 0,#9ad83c 337px,#b5dd2b 0,#b5dd2b 340px,#e4e318 0,#e4e318 343px,#f8e621 0,#f8e621 346px,#f1e51c 0,#f1e51c 349px,#c5df21 0,#c5df21 352px,#a5da35 0,#a5da35 355px,#92d741 0,#92d741 358px,#86d449 0,#86d449 360px,#7ed24e 0,#7ed24e 363px,#77d052 0,#77d052 366px,#70ce56 0,#70ce56 370px)"></i>
<i class=b style="background:linear-gradient(#20918c 0,#20918c 1px,#1f948b 3.5px,#1e998a 32px,#1ea087 86.5px,#22a784 169.5px,#24aa82 209.5px,#29af7f 255.5px,#2cb17d 284.5px,#2bb17d 301.5px,#29af7f 304.5px,#24aa82 307.5px,#24aa82 312px,#2eb27c 0,#2eb27c 314px,#36b877 0,#36b877 317px,#3ebc73 0,#3ebc73 320px,#47c06e 0,#47c06e 323px,#4fc369 0,#4fc369 326px,#59c764 0,#59c764 329px,#67cc5c 0,#67cc5c 332px,#74d054 0,#74d054 335px,#8bd546 0,#8bd546 337px,#addc30 0,#addc30 340px,#ece41a 0,#ece41a 343px,#f8e621 0,#f8e621 346px,#eee51b 0,#eee51b 349px,#afdc2e 0,#afdc2e 352px,#90d643 0,#90d643 355px,#7cd24f 0,#7cd24f 358px,#70ce56 0,#70ce56 360px,#67cc5c 0,#67cc5c 363px,#60c960 0,#60c960 366px,#57c665 0,#57c665 370px)"></i>
<i class=a style="background:linear-gradient(#20908c 0,#20908c 1px,#1f938b 3.5px,#1e998a 26.5px,#1fa187 83.5px,#21a784 146.5px,#23a982 169.5px,#27ad80 207px,#2cb17d 235.5px,#30b47a 255.5px,#39b976 278.5px,#47c06e 301.5px,#51c468 310.5px,#64cb5d 321.5px,#64cb5d 323px,#6bcd59 0,#6bcd59 326px,#72cf55 0,#72cf55 329px,#7cd24f 0,#7cd24f 332px,#88d547 0,#88d547 335px,#9ad83c 0,#9ad83c 337px,#bade27 0,#bade27 340px,#f1e51c 0,#f1e51c 343px,#f8e621 0,#f8e621 346px,#e9e419 0,#e9e419 349px,#afdc2e 0,#afdc2e 352px,#92d741 0,#92d741 355px,#81d34c 0,#81d34c 358px,#74d054 0,#74d054 360px,#6dce58 0,#6dce58 361.5px,#67cc5c 364.5px,#67cc5c 366px,#60c960 0,#60c960 370px)"></i>
<i class=a style="background:linear-gradient(#22898d 0,#22898d 1px,#20908c 9px,#1e988a 29.5px,#1fa386 115.5px,#22a784 158.5px,#25ab81 192.5px,#27ad80 207px,#2cb17d 232.5px,#30b47a 250px,#33b679 255.5px,#36b877 264.5px,#40bd72 284.5px,#4bc26c 298.5px,#53c567 304.5px,#59c764 310.5px,#62ca5f 315.5px,#62ca5f 317px,#69cc5b 0,#69cc5b 318.5px,#6dce58 321.5px,#6dce58 323px,#74d054 0,#74d054 326px,#7ed24e 0,#7ed24e 329px,#88d547 0,#88d547 332px,#97d83e 0,#97d83e 335px,#addc30 0,#addc30 337px,#cde01d 0,#cde01d 340px,#f3e51e 0,#f3e51e 341.5px,#f8e621 344.5px,#f8e621 346px,#e1e318 0,#e1e318 349px,#b5dd2b 0,#b5dd2b 352px,#9dd93a 0,#9dd93a 355px,#8dd644 0,#8dd644 358px,#83d34b 0,#83d34b 360px,#79d151 0,#79d151 361.5px,#74d054 364.5px,#74d054 366px,#6dce58 0,#6dce58 370px)"></i>
<i class=b style="background:linear-gradient(#25828e 0,#25828e 1px,#24858d 3.5px,#1f928c 43.5px,#1e988a 63.5px,#1e9e88 100.5px,#20a585 143.5px,#22a784 161px,#25ab81 186.5px,#2cb17d 224.5px,#30b47a 238.5px,#33b679 250px,#36b877 255.5px,#39b976 264.5px,#3dbb74 270px,#40bd72 278.5px,#47c06e 290.5px,#4dc26b 295.5px,#59c764 307.5px,#6bcd59 318.5px,#6bcd59 320px,#72cf55 0,#72cf55 323px,#79d151 0,#79d151 326px,#83d34b 0,#83d34b 329px,#8dd644 0,#8dd644 332px,#9dd93a 0,#9dd93a 335px,#b5dd2b 0,#b5dd2b 337px,#dae218 0,#dae218 340px,#f6e61f 0,#f6e61f 346px,#d7e219 0,#d7e219 349px,#b2dd2c 0,#b2dd2c 352px,#9dd93a 0,#9dd93a 355px,#8dd644 0,#8dd644 358px,#81d34c 0,#81d34c 360px,#74d054 0,#74d054 363px,#67cc5c 0,#67cc5c 366px,#38b976 0,#38b976 370px)"></i>
<i class=a style="background:linear-gradient(#22898d 0,#22898d 1px,#218c8d 3.5px,#218c8d 6.5px,#1f928c 20.5px,#1e998a 57.5px,#1e9b89 89.5px,#1fa386 195.5px,#23a883 227px,#25ab81 238.5px,#2cb17d 261.5px,#32b57a 270px,#36b877 278.5px,#42be71 293px,#4bc26c 301.5px,#5bc862 313px,#60c960 315.5px,#60c960 317px,#67cc5c 0,#67cc5c 318.5px,#6dce58 321.5px,#6dce58 323px,#74d054 0,#74d054 326px,#81d34c 0,#81d34c 329px,#8bd546 0,#8bd546 332px,#9dd93a 0,#9dd93a 335px,#b5dd2b 0,#b5dd2b 337px,#e1e318 0,#e1e318 340px,#f8e621 0,#f8e621 341.5px,#f3e51e 344.5px,#f3e51e 346px,#cae01e 0,#cae01e 349px,#aadb32 0,#aadb32 352px,#97d83e 0,#97d83e 355px,#88d547 0,#88d547 358px,#7ed24e 0,#7ed24e 360px,#77d052 0,#77d052 361.5px,#74d054 364.5px,#74d054 366px,#6dce58 0,#6dce58 370px)"></i>
<i class=b style="background:linear-gradient(#218c8d 0,#218c8d 1px,#20918c 6.5px,#1e998a 26.5px,#1fa187 89.5px,#21a685 141px,#22a784 172.5px,#24aa82 198.5px,#28ae7f 261.5px,#28ae7f 278.5px,#26ac81 284.5px,#20a585 290.5px,#1fa386 293px,#1fa386 294px,#25ab81 0,#25ab81 295.5px,#2bb17d 298.5px,#45bf6f 313px,#4bc26c 315.5px,#4bc26c 317px,#53c567 0,#53c567 318.5px,#59c764 321.5px,#59c764 323px,#62ca5f 0,#62ca5f 326px,#6dce58 0,#6dce58 329px,#7cd24f 0,#7cd24f 332px,#90d643 0,#90d643 335px,#afdc2e 0,#afdc2e 337px,#e9e419 0,#e9e419 340px,#f8e621 0,#f8e621 343px,#eee51b 0,#eee51b 346px,#b7dd29 0,#b7dd29 349px,#95d73f 0,#95d73f 352px,#83d34b 0,#83d34b 355px,#77d052 0,#77d052 358px,#6dce58 0,#6dce58 359px,#5ec961 368px,#5ec961 370px)"></i>
<i class=a style="background:linear-gradient(#228b8d 0,#228b8d 1px,#208f8c 3.5px,#1e998a 23.5px,#1e9a89 32px,#1ea087 69.5px,#21a784 138.5px,#23a982 166.5px,#27ad80 204.5px,#2cb17d 232.5px,#2cb17d 238.5px,#30b47a 250px,#33b679 261.5px,#39b976 275.5px,#3bba75 281.5px,#44be70 295.5px,#53c567 310.5px,#5bc862 315.5px,#5bc862 317px,#62ca5f 0,#62ca5f 320px,#69cc5b 0,#69cc5b 323px,#70ce56 0,#70ce56 326px,#79d151 0,#79d151 329px,#86d449 0,#86d449 332px,#9ad83c 0,#9ad83c 335px,#bade27 0,#bade27 337px,#eee51b 0,#eee51b 340px,#f8e621 0,#f8e621 343px,#e9e419 0,#e9e419 346px,#afdc2e 0,#afdc2e 349px,#92d741 0,#92d741 352px,#81d34c 0,#81d34c 355px,#72cf55 0,#72cf55 358px,#69cc5b 0,#69cc5b 360px,#62ca5f 0,#62ca5f 361.5px,#5ec961 364.5px,#5ec961 366px,#57c665 0,#57c665 370px)"></i>
<i class=a style="background:linear-gradient(#218e8c 0,#218e8c 1px,#20918c 3.5px,#1e998a 37.5px,#1fa386 115.5px,#22a784 155.5px,#24aa82 181.5px,#2ab07e 218.5px,#2cb17d 229.5px,#2fb37b 238.5px,#33b679 252.5px,#39b976 267.5px,#49c16d 293px,#4dc26b 295.5px,#59c764 307.5px,#62ca5f 313px,#62ca5f 314px,#69cc5b 0,#69cc5b 315.5px,#6dce58 318.5px,#6dce58 320px,#74d054 0,#74d054 323px,#7ed24e 0,#7ed24e 326px,#8bd546 0,#8bd546 329px,#97d83e 0,#97d83e 332px,#addc30 0,#addc30 335px,#cde01d 0,#cde01d 337px,#f3e51e 0,#f3e51e 338.5px,#f8e621 341.5px,#f8e621 343px,#e1e318 0,#e1e318 346px,#b5dd2b 0,#b5dd2b 349px,#9dd93a 0,#9dd93a 352px,#8dd644 0,#8dd644 355px,#81d34c 0,#81d34c 358px,#79d151 0,#79d151 360px,#72cf55 0,#72cf55 361.5px,#67cc5c 368px,#67cc5c 370px)"></i>
<i class=b style="background:linear-gradient(#2a778e 0,#2a778e 1px,#24848d 14.5px,#218e8c 34.5px,#1f968b 57.5px,#1fa386 132.5px,#21a784 158.5px,#23a982 172.5px,#27ad80 198.5px,#2cb17d 224.5px,#33b679 247.5px,#35b778 252.5px,#3bba75 267.5px,#49c16d 290.5px,#4fc369 295.5px,#55c666 301.5px,#5bc862 307.5px,#60c960 310.5px,#60c960 312px,#67cc5c 0,#67cc5c 313px,#6bcd59 315.5px,#6bcd59 317px,#72cf55 0,#72cf55 320px,#79d151 0,#79d151 323px,#83d34b 0,#83d34b 326px,#90d643 0,#90d643 329px,#9dd93a 0,#9dd93a 332px,#b5dd2b 0,#b5dd2b 335px,#dae218 0,#dae218 337px,#f6e61f 0,#f6e61f 343px,#d7e219 0,#d7e219 346px,#b2dd2c 0,#b2dd2c 349px,#9dd93a 0,#9dd93a 352px,#8dd644 0,#8dd644 355px,#81d34c 0,#81d34c 358px,#77d052 0,#77d052 360px,#6dce58 0,#6dce58 363px,#62ca5f 0,#62ca5f 366px,#53c567 0,#53c567 370px)"></i>
<i class=a style="background:linear-gradient(#20908c 0,#20908c 1px,#1f938b 3.5px,#1f948b 20.5px,#1e998a 60.5px,#1fa187 152.5px,#21a784 201.5px,#26ac81 229.5px,#2cb17d 252.5px,#33b679 270px,#38b976 275.5px,#3ebc73 287.5px,#4dc26b 301.5px,#59c764 310.5px,#59c764 312px,#60c960 0,#60c960 313px,#64cb5d 315.5px,#64cb5d 317px,#6bcd59 0,#6bcd59 320px,#74d054 0,#74d054 323px,#7ed24e 0,#7ed24e 326px,#8bd546 0,#8bd546 329px,#9ad83c 0,#9ad83c 332px,#b5dd2b 0,#b5dd2b 335px,#e4e318 0,#e4e318 337px,#f8e621 0,#f8e621 338.5px,#f3e51e 341.5px,#f3e51e 343px,#c7e01f 0,#c7e01f 346px,#a7db33 0,#a7db33 349px,#95d73f 0,#95d73f 352px,#86d449 0,#86d449 355px,#7cd24f 0,#7cd24f 358px,#74d054 0,#74d054 360px,#6dce58 0,#6dce58 361.5px,#69cc5b 364.5px,#69cc5b 366px,#62ca5f 0,#62ca5f 370px)"></i>
<i class=b style="background:linear-gradient(#218d8c 0,#218d8c 1px,#20908c 3.5px,#1e998a 26.5px,#1ea087 72.5px,#22a784 149.5px,#24aa82 192.5px,#2ab07e 244.5px,#2cb17d 258.5px,#2eb27c 264.5px,#30b47a 278.5px,#33b679 287.5px,#33b679 290.5px,#36b877 295.5px,#39b976 304.5px,#3ebc73 310.5px,#47c06e 315.5px,#47c06e 317px,#4fc369 0,#4fc369 320px,#59c764 0,#59c764 323px,#64cb5d 0,#64cb5d 326px,#74d054 0,#74d054 329px,#8bd546 0,#8bd546 332px,#afdc2e 0,#afdc2e 335px,#ece41a 0,#ece41a 337px,#f8e621 0,#f8e621 340px,#eee51b 0,#eee51b 343px,#b2dd2c 0,#b2dd2c 346px,#90d643 0,#90d643 349px,#79d151 0,#79d151 352px,#6dce58 0,#6dce58 355px,#64cb5d 0,#64cb5d 356.5px,#59c764 361.5px,#57c665 364.5px,#51c468 368px,#51c468 370px)"></i>
<i class=a style="background:linear-gradient(#20918c 0,#20918c 1px,#1f948b 3.5px,#1e998a 26.5px,#1e9f88 66.5px,#21a685 126.5px,#22a784 149.5px,#24aa82 172.5px,#27ad80 198.5px,#2cb17d 227px,#30b47a 244.5px,#35b778 255.5px,#39b976 270px,#45bf6f 290.5px,#4fc369 298.5px,#55c666 304.5px,#62ca5f 313px,#62ca5f 314px,#69cc5b 0,#69cc5b 317px,#70ce56 0,#70ce56 320px,#77d052 0,#77d052 323px,#81d34c 0,#81d34c 326px,#90d643 0,#90d643 329px,#a2da37 0,#a2da37 332px,#c2df22 0,#c2df22 335px,#f1e51c 0,#f1e51c 337px,#f8e621 0,#f8e621 340px,#e7e419 0,#e7e419 343px,#b5dd2b 0,#b5dd2b 346px,#97d83e 0,#97d83e 349px,#88d547 0,#88d547 352px,#79d151 0,#79d151 355px,#70ce56 0,#70ce56 358px,#69cc5b 0,#69cc5b 360px,#62ca5f 0,#62ca5f 361.5px,#60c960 364.5px,#60c960 366px,#57c665 0,#57c665 370px)"></i>
<i class=a style="background:linear-gradient(#20908c 0,#20908c 1px,#1f938b 3.5px,#1f968b 34.5px,#1e9e88 89.5px,#20a585 135.5px,#25ab81 181.5px,#2cb17d 218.5px,#30b47a 235.5px,#39b976 258.5px,#40bd72 272.5px,#49c16d 287.5px,#55c666 298.5px,#5bc862 304.5px,#64cb5d 310.5px,#64cb5d 312px,#6bcd59 0,#6bcd59 314px,#72cf55 0,#72cf55 317px,#79d151 0,#79d151 320px,#81d34c 0,#81d34c 323px,#8dd644 0,#8dd644 326px,#9dd93a 0,#9dd93a 329px,#b2dd2c 0,#b2dd2c 332px,#d4e11a 0,#d4e11a 335px,#f6e61f 0,#f6e61f 336px,#f8e621 338.5px,#f8e621 340px,#dce218 0,#dce218 343px,#b5dd2b 0,#b5dd2b 346px,#9dd93a 0,#9dd93a 349px,#8dd644 0,#8dd644 352px,#81d34c 0,#81d34c 355px,#77d052 0,#77d052 358px,#6dce58 0,#6dce58 360px,#64cb5d 0,#64cb5d 363px,#59c764 0,#59c764 366px,#42be71 0,#42be71 370px)"></i>
<i class=b style="background:linear-gradient(#277c8e 0,#277c8e 1px,#25828e 3.5px,#23888d 9px,#208f8c 26.5px,#1f948b 57.5px,#1e978a 103.5px,#1f968b 132.5px,#1f938b 146.5px,#228b8d 158.5px,#208f8c 163.5px,#1e998a 175.5px,#1e9b89 181.5px,#20a585 207px,#2ab07e 244.5px,#33b679 264.5px,#3bba75 275.5px,#49c16d 293px,#62ca5f 310.5px,#62ca5f 312px,#69cc5b 0,#69cc5b 314px,#70ce56 0,#70ce56 317px,#77d052 0,#77d052 320px,#81d34c 0,#81d34c 323px,#8dd644 0,#8dd644 326px,#9dd93a 0,#9dd93a 329px,#b5dd2b 0,#b5dd2b 332px,#e1e318 0,#e1e318 335px,#f8e621 0,#f8e621 336px,#f3e51e 338.5px,#f3e51e 340px,#cfe11c 0,#cfe11c 343px,#addc30 0,#addc30 346px,#9ad83c 0,#9ad83c 349px,#8bd546 0,#8bd546 352px,#81d34c 0,#81d34c 355px,#79d151 0,#79d151 358px,#72cf55 0,#72cf55 359px,#6dce58 361.5px,#6bcd59 364.5px,#6bcd59 366px,#64cb5d 0,#64cb5d 370px)"></i>
<i class=a style="background:linear-gradient(#1f948b 0,#1f948b 1px,#1e978a 3.5px,#1e9b89 52px,#1ea087 100.5px,#21a784 192.5px,#23a982 224.5px,#25ab81 267.5px,#2cb17d 281.5px,#42be71 301.5px,#51c468 310.5px,#57c665 313px,#57c665 314px,#5ec961 0,#5ec961 317px,#67cc5c 0,#67cc5c 320px,#72cf55 0,#72cf55 323px,#81d34c 0,#81d34c 326px,#92d741 0,#92d741 329px,#b2dd2c 0,#b2dd2c 332px,#e9e419 0,#e9e419 335px,#f8e621 0,#f8e621 337px,#eee51b 0,#eee51b 340px,#bade27 0,#bade27 343px,#9ad83c 0,#9ad83c 346px,#86d449 0,#86d449 349px,#79d151 0,#79d151 352px,#70ce56 0,#70ce56 355px,#67cc5c 0,#67cc5c 356.5px,#62ca5f 359px,#62ca5f 360px,#5bc862 0,#5bc862 361.5px,#59c764 364.5px,#59c764 366px,#51c468 0,#51c468 370px)"></i>
<i class=b style="background:linear-gradient(#1f948b 0,#1f948b 1px,#1e978a 3.5px,#1e9b89 37.5px,#1fa386 103.5px,#22a784 149.5px,#24aa82 175.5px,#27ad80 201.5px,#2cb17d 229.5px,#30b47a 247.5px,#32b57a 252.5px,#39b976 270px,#47c06e 293px,#4bc26c 295.5px,#51c468 301.5px,#5ec961 310.5px,#64cb5d 313px,#64cb5d 314px,#6bcd59 0,#6bcd59 317px,#72cf55 0,#72cf55 320px,#7cd24f 0,#7cd24f 323px,#88d547 0,#88d547 326px,#9dd93a 0,#9dd93a 329px,#bdde26 0,#bdde26 332px,#f1e51c 0,#f1e51c 335px,#f8e621 0,#f8e621 337px,#e9e419 0,#e9e419 340px,#b2dd2c 0,#b2dd2c 343px,#95d73f 0,#95d73f 346px,#83d34b 0,#83d34b 349px,#74d054 0,#74d054 352px,#6bcd59 0,#6bcd59 355px,#62ca5f 0,#62ca5f 358px,#5bc862 0,#5bc862 359px,#57c665 361.5px,#55c666 364.5px,#55c666 366px,#4dc26b 0,#4dc26b 370px)"></i>
<i class=a style="background:linear-gradient(#23878d 0,#23878d 1px,#20918c 11.5px,#1e998a 37.5px,#1fa386 118px,#22a784 155.5px,#25ab81 186.5px,#2cb17d 224.5px,#33b679 247.5px,#36b877 252.5px,#39b976 261.5px,#47c06e 284.5px,#4dc26b 290.5px,#53c567 295.5px,#69cc5b 310.5px,#69cc5b 312px,#70ce56 0,#70ce56 314px,#77d052 0,#77d052 317px,#81d34c 0,#81d34c 320px,#8bd546 0,#8bd546 323px,#9ad83c 0,#9ad83c 326px,#afdc2e 0,#afdc2e 329px,#d2e11b 0,#d2e11b 332px,#f3e51e 0,#f3e51e 333.5px,#f8e621 336px,#f8e621 337px,#dfe318 0,#dfe318 340px,#b5dd2b 0,#b5dd2b 343px,#9fd938 0,#9fd938 346px,#8dd644 0,#8dd644 349px,#83d34b 0,#83d34b 352px,#79d151 0,#79d151 355px,#72cf55 0,#72cf55 356.5px,#69cc5b 361.5px,#67cc5c 364.5px,#67cc5c 366px,#60c960 0,#60c960 370px)"></i>
<i class=a style="background:linear-gradient(#208f8c 0,#208f8c 1px,#20918c 3.5px,#20908c 20.5px,#218c8d 34.5px,#24868d 43.5px,#26808e 46.5px,#25828e 49.5px,#23888d 52px,#208f8c 60.5px,#1e998a 86.5px,#1e9a89 95.5px,#1fa386 138.5px,#22a784 166.5px,#25ab81 192.5px,#2cb17d 224.5px,#30b47a 241.5px,#35b778 250px,#39b976 261.5px,#47c06e 284.5px,#4dc26b 290.5px,#53c567 295.5px,#64cb5d 307.5px,#64cb5d 309px,#6bcd59 0,#6bcd59 310.5px,#70ce56 313px,#70ce56 314px,#79d151 0,#79d151 317px,#83d34b 0,#83d34b 320px,#8dd644 0,#8dd644 323px,#9fd938 0,#9fd938 326px,#b7dd29 0,#b7dd29 329px,#dfe318 0,#dfe318 332px,#f8e621 0,#f8e621 333.5px,#f3e51e 336px,#f3e51e 337px,#d2e11b 0,#d2e11b 340px,#afdc2e 0,#afdc2e 343px,#9ad83c 0,#9ad83c 346px,#8bd546 0,#8bd546 349px,#81d34c 0,#81d34c 352px,#77d052 0,#77d052 355px,#6dce58 0,#6dce58 356.5px,#67cc5c 359px,#67cc5c 360px,#5ec961 0,#5ec961 363px,#53c567 0,#53c567 366px,#42be71 0,#42be71 370px)"></i>
<i class=b style="background:linear-gradient(#1f968b 0,#1f968b 1px,#1e998a 3.5px,#1e9a89 49.5px,#1fa187 138.5px,#21a685 192.5px,#22a784 221.5px,#24aa82 241.5px,#2ab07e 264.5px,#2fb37b 275.5px,#38b976 287.5px,#40bd72 295.5px,#4dc26b 304.5px,#59c764 310.5px,#59c764 312px,#60c960 0,#60c960 314px,#69cc5b 0,#69cc5b 317px,#72cf55 0,#72cf55 320px,#81d34c 0,#81d34c 323px,#95d73f 0,#95d73f 326px,#b2dd2c 0,#b2dd2c 329px,#e9e419 0,#e9e419 332px,#f8e621 0,#f8e621 335px,#eee51b 0,#eee51b 337px,#bdde26 0,#bdde26 340px,#9ad83c 0,#9ad83c 343px,#88d547 0,#88d547 346px,#79d151 0,#79d151 349px,#70ce56 0,#70ce56 352px,#69cc5b 0,#69cc5b 355px,#62ca5f 0,#62ca5f 358px,#5bc862 0,#5bc862 359px,#57c665 361.5px,#55c666 364.5px,#4fc369 368px,#4fc369 370px)"></i>
<i class=a style="background:linear-gradient(#1e978a 0,#1e978a 1px,#1e998a 3.5px,#1e9b89 37.5px,#1fa386 115.5px,#22a784 152.5px,#25ab81 186.5px,#2ab07e 218.5px,#2cb17d 229.5px,#30b47a 241.5px,#32b57a 247.5px,#36b877 258.5px,#3bba75 270px,#49c16d 290.5px,#4fc369 295.5px,#59c764 304.5px,#59c764 306px,#60c960 0,#60c960 307.5px,#64cb5d 310.5px,#64cb5d 312px,#6bcd59 0,#6bcd59 314px,#74d054 0,#74d054 317px,#7ed24e 0,#7ed24e 320px,#8bd546 0,#8bd546 323px,#9fd938 0,#9fd938 326px,#bfdf24 0,#bfdf24 329px,#f1e51c 0,#f1e51c 332px,#f8e621 0,#f8e621 335px,#e9e419 0,#e9e419 337px,#b5dd2b 0,#b5dd2b 340px,#97d83e 0,#97d83e 343px,#83d34b 0,#83d34b 346px,#77d052 0,#77d052 349px,#6bcd59 0,#6bcd59 352px,#64cb5d 0,#64cb5d 355px,#5bc862 0,#5bc862 356.5px,#55c666 359px,#55c666 360px,#4dc26b 0,#4dc26b 361.5px,#47c06e 364.5px,#47c06e 366px,#40bd72 0,#40bd72 370px)"></i>
<i class=a style="background:linear-gradient(#1f928c 0,#1f928c 1px,#1f958b 3.5px,#1e978a 32px,#1ea087 98px,#21a784 146.5px,#23a982 163.5px,#27ad80 189.5px,#2cb17d 215.5px,#30b47a 232.5px,#35b778 241.5px,#36b877 247.5px,#38b976 252.5px,#42be71 270px,#4bc26c 284.5px,#51c468 290.5px,#64cb5d 304.5px,#64cb5d 306px,#6bcd59 0,#6bcd59 309px,#72cf55 0,#72cf55 312px,#79d151 0,#79d151 314px,#81d34c 0,#81d34c 317px,#8dd644 0,#8dd644 320px,#9dd93a 0,#9dd93a 323px,#b2dd2c 0,#b2dd2c 326px,#d4e11a 0,#d4e11a 329px,#f6e61f 0,#f6e61f 330.5px,#f8e621 333.5px,#f8e621 335px,#dce218 0,#dce218 337px,#b5dd2b 0,#b5dd2b 340px,#9fd938 0,#9fd938 343px,#8dd644 0,#8dd644 346px,#83d34b 0,#83d34b 349px,#79d151 0,#79d151 352px,#70ce56 0,#70ce56 355px,#69cc5b 0,#69cc5b 358px,#62ca5f 0,#62ca5f 360px,#5bc862 0,#5bc862 361.5px,#55c666 364.5px,#55c666 366px,#4dc26b 0,#4dc26b 370px)"></i>
<i class=b style="background:linear-gradient(#218c8d 0,#218c8d 1px,#208f8c 3.5px,#1e998a 98px,#1e9a89 118px,#1fa187 166.5px,#20a585 186.5px,#23a883 204.5px,#27ad80 224.5px,#2bb17d 238.5px,#3bba75 270px,#42be71 278.5px,#49c16d 287.5px,#51c468 293px,#57c665 298.5px,#57c665 300px,#5ec961 0,#5ec961 301.5px,#62ca5f 304.5px,#62ca5f 306px,#69cc5b 0,#69cc5b 309px,#70ce56 0,#70ce56 312px,#77d052 0,#77d052 314px,#81d34c 0,#81d34c 317px,#8dd644 0,#8dd644 320px,#9dd93a 0,#9dd93a 323px,#b7dd29 0,#b7dd29 326px,#e1e318 0,#e1e318 329px,#f8e621 0,#f8e621 330.5px,#f3e51e 333.5px,#f3e51e 335px,#cde01d 0,#cde01d 337px,#addc30 0,#addc30 340px,#97d83e 0,#97d83e 343px,#8bd546 0,#8bd546 346px,#7ed24e 0,#7ed24e 349px,#77d052 0,#77d052 352px,#70ce56 0,#70ce56 355px,#69cc5b 0,#69cc5b 356.5px,#64cb5d 359px,#60c960 364.5px,#60c960 366px,#59c764 0,#59c764 370px)"></i>
<i class=a style="background:linear-gradient(#23888d 0,#23888d 1px,#208f8c 6.5px,#1f968b 17.5px,#1e9d88 46.5px,#20a485 109.5px,#22a784 152.5px,#24aa82 186.5px,#2ab07e 244.5px,#2cb17d 258.5px,#2eb27c 264.5px,#30b47a 278.5px,#33b679 287.5px,#33b679 290.5px,#38b976 295.5px,#39b976 298.5px,#44be70 304.5px,#44be70 306px,#4bc26c 0,#4bc26c 309px,#53c567 0,#53c567 312px,#5ec961 0,#5ec961 314px,#69cc5b 0,#69cc5b 317px,#79d151 0,#79d151 320px,#90d643 0,#90d643 323px,#b5dd2b 0,#b5dd2b 326px,#ece41a 0,#ece41a 329px,#f8e621 0,#f8e621 332px,#eee51b 0,#eee51b 335px,#b7dd29 0,#b7dd29 337px,#92d741 0,#92d741 340px,#7ed24e 0,#7ed24e 343px,#70ce56 0,#70ce56 346px,#67cc5c 0,#67cc5c 349px,#5ec961 0,#5ec961 350.5px,#51c468 359px,#49c16d 368px,#49c16d 370px)"></i>
<i class=b style="background:linear-gradient(#218e8c 0,#218e8c 1px,#20918c 3.5px,#1e998a 23.5px,#1e9b89 37.5px,#1fa386 92.5px,#22a784 135.5px,#24aa82 166.5px,#2ab07e 207px,#2cb17d 218.5px,#2fb37b 227px,#33b679 241.5px,#35b778 247.5px,#38b976 252.5px,#3bba75 261.5px,#47c06e 281.5px,#53c567 293px,#64cb5d 304.5px,#64cb5d 306px,#6bcd59 0,#6bcd59 309px,#72cf55 0,#72cf55 312px,#7cd24f 0,#7cd24f 314px,#86d449 0,#86d449 317px,#92d741 0,#92d741 320px,#a7db33 0,#a7db33 323px,#c7e01f 0,#c7e01f 326px,#f3e51e 0,#f3e51e 327.5px,#f8e621 330.5px,#f8e621 332px,#e4e318 0,#e4e318 335px,#b7dd29 0,#b7dd29 337px,#9dd93a 0,#9dd93a 340px,#8bd546 0,#8bd546 343px,#7ed24e 0,#7ed24e 346px,#74d054 0,#74d054 349px,#6bcd59 0,#6bcd59 350.5px,#67cc5c 353.5px,#67cc5c 355px,#60c960 0,#60c960 356.5px,#5bc862 359px,#57c665 364.5px,#51c468 368px,#51c468 370px)"></i>
<i class=a style="background:linear-gradient(#23888d 0,#23888d 1px,#1f958b 49.5px,#1e998a 66.5px,#1fa386 126.5px,#22a784 152.5px,#26ac81 184px,#29af7f 198.5px,#2cb17d 215.5px,#2fb37b 224.5px,#35b778 241.5px,#36b877 247.5px,#4bc26c 281.5px,#55c666 290.5px,#60c960 298.5px,#60c960 300px,#67cc5c 0,#67cc5c 301.5px,#6bcd59 304.5px,#6bcd59 306px,#72cf55 0,#72cf55 309px,#79d151 0,#79d151 312px,#83d34b 0,#83d34b 314px,#90d643 0,#90d643 317px,#9fd938 0,#9fd938 320px,#b5dd2b 0,#b5dd2b 323px,#dae218 0,#dae218 326px,#f6e61f 0,#f6e61f 332px,#d7e219 0,#d7e219 335px,#b2dd2c 0,#b2dd2c 337px,#9dd93a 0,#9dd93a 340px,#8dd644 0,#8dd644 343px,#83d34b 0,#83d34b 346px,#79d151 0,#79d151 349px,#70ce56 0,#70ce56 352px,#69cc5b 0,#69cc5b 355px,#62ca5f 0,#62ca5f 358px,#5bc862 0,#5bc862 359px,#55c666 361.5px,#55c666 363px,#4bc26c 0,#4bc26c 366px,#3bba75 0,#3bba75 370px)"></i>
<i class=a style="background:linear-gradient(#20918c 0,#20918c 1px,#1f948b 3.5px,#1e998a 37.5px,#1ea087 109.5px,#20a585 186.5px,#22a784 227px,#26ac81 244.5px,#2bb17d 255.5px,#32b57a 267.5px,#40bd72 284.5px,#4bc26c 293px,#59c764 301.5px,#59c764 303px,#60c960 0,#60c960 306px,#67cc5c 0,#67cc5c 309px,#70ce56 0,#70ce56 312px,#79d151 0,#79d151 314px,#86d449 0,#86d449 317px,#9ad83c 0,#9ad83c 320px,#b7dd29 0,#b7dd29 323px,#e7e419 0,#e7e419 326px,#f8e621 0,#f8e621 329px,#f1e51c 0,#f1e51c 332px,#c2df22 0,#c2df22 335px,#a2da37 0,#a2da37 337px,#90d643 0,#90d643 340px,#81d34c 0,#81d34c 343px,#77d052 0,#77d052 346px,#70ce56 0,#70ce56 349px,#69cc5b 0,#69cc5b 352px,#62ca5f 0,#62ca5f 353.5px,#59c764 361.5px,#57c665 364.5px,#51c468 368px,#51c468 370px)"></i>
<i class=b style="background:linear-gradient(#1f938b 0,#1f938b 1px,#1f968b 6.5px,#1e998a 20.5px,#1fa187 72.5px,#21a685 118px,#23a982 158.5px,#27ad80 189.5px,#2cb17d 221.5px,#2cb17d 224.5px,#2eb27c 229.5px,#32b57a 241.5px,#33b679 247.5px,#35b778 252.5px,#3dbb74 267.5px,#3ebc73 272.5px,#44be70 278.5px,#47c06e 284.5px,#4dc26b 290.5px,#53c567 295.5px,#57c665 298.5px,#57c665 300px,#5ec961 0,#5ec961 301.5px,#62ca5f 304.5px,#62ca5f 306px,#69cc5b 0,#69cc5b 309px,#72cf55 0,#72cf55 312px,#7cd24f 0,#7cd24f 314px,#88d547 0,#88d547 317px,#9dd93a 0,#9dd93a 320px,#bdde26 0,#bdde26 323px,#f1e51c 0,#f1e51c 326px,#f8e621 0,#f8e621 329px,#e9e419 0,#e9e419 332px,#b5dd2b 0,#b5dd2b 335px,#95d73f 0,#95d73f 337px,#83d34b 0,#83d34b 340px,#74d054 0,#74d054 343px,#69cc5b 0,#69cc5b 346px,#62ca5f 0,#62ca5f 349px,#59c764 0,#59c764 350.5px,#4fc369 356.5px,#49c16d 359px,#44be70 364.5px,#3ebc73 368px,#3ebc73 370px)"></i>
<i class=a style="background:linear-gradient(#1f938b 0,#1f938b 1px,#1f968b 3.5px,#1e988a 32px,#1e9e88 80.5px,#20a585 129.5px,#22a784 146.5px,#26ac81 178.5px,#2cb17d 209.5px,#30b47a 227px,#33b679 232.5px,#36b877 241.5px,#3bba75 252.5px,#4bc26c 278.5px,#55c666 287.5px,#57c665 290.5px,#64cb5d 298.5px,#64cb5d 300px,#6bcd59 0,#6bcd59 303px,#72cf55 0,#72cf55 306px,#79d151 0,#79d151 309px,#83d34b 0,#83d34b 312px,#8dd644 0,#8dd644 314px,#9dd93a 0,#9dd93a 317px,#b2dd2c 0,#b2dd2c 320px,#d4e11a 0,#d4e11a 323px,#f6e61f 0,#f6e61f 329px,#dce218 0,#dce218 332px,#b5dd2b 0,#b5dd2b 335px,#9fd938 0,#9fd938 337px,#90d643 0,#90d643 340px,#83d34b 0,#83d34b 343px,#79d151 0,#79d151 346px,#70ce56 0,#70ce56 349px,#69cc5b 0,#69cc5b 350.5px,#5ec961 356.5px,#5ec961 358px,#57c665 0,#57c665 359px,#51c468 361.5px,#4dc26b 364.5px,#4dc26b 366px,#45bf6f 0,#45bf6f 370px)"></i>
<i class=b style="background:linear-gradient(#23878d 0,#23878d 1px,#218e8c 11.5px,#1f948b 29.5px,#1e998a 60.5px,#1e9d88 138.5px,#1e9b89 161px,#1e998a 172.5px,#20918c 184px,#1e988a 189.5px,#1fa386 207px,#21a784 215.5px,#24aa82 224.5px,#2bb17d 241.5px,#32b57a 255.5px,#38b976 264.5px,#39b976 267.5px,#3dbb74 270px,#3ebc73 272.5px,#4bc26c 284.5px,#51c468 290.5px,#60c960 298.5px,#60c960 300px,#67cc5c 0,#67cc5c 301.5px,#6dce58 304.5px,#6dce58 306px,#74d054 0,#74d054 309px,#7ed24e 0,#7ed24e 312px,#8bd546 0,#8bd546 314px,#9dd93a 0,#9dd93a 317px,#b7dd29 0,#b7dd29 320px,#e4e318 0,#e4e318 323px,#f8e621 0,#f8e621 324.5px,#f3e51e 327.5px,#f3e51e 329px,#cae01e 0,#cae01e 332px,#aadb32 0,#aadb32 335px,#95d73f 0,#95d73f 337px,#88d547 0,#88d547 340px,#7cd24f 0,#7cd24f 343px,#74d054 0,#74d054 346px,#6dce58 0,#6dce58 347.5px,#62ca5f 353.5px,#60c960 356.5px,#5bc862 359px,#59c764 361.5px,#59c764 364.5px,#53c567 368px,#53c567 370px)"></i>
<i class=a style="background:linear-gradient(#1f948b 0,#1f948b 1px,#1e978a 3.5px,#1e9b89 32px,#1fa386 89.5px,#22a784 138.5px,#24aa82 172.5px,#2ab07e 218.5px,#2cb17d 229.5px,#2fb37b 238.5px,#33b679 252.5px,#39b976 267.5px,#49c16d 290.5px,#59c764 301.5px,#59c764 303px,#60c960 0,#60c960 306px,#69cc5b 0,#69cc5b 309px,#72cf55 0,#72cf55 312px,#81d34c 0,#81d34c 314px,#95d73f 0,#95d73f 317px,#bade27 0,#bade27 320px,#eee51b 0,#eee51b 323px,#f8e621 0,#f8e621 326px,#ece41a 0,#ece41a 329px,#b7dd29 0,#b7dd29 332px,#92d741 0,#92d741 335px,#7cd24f 0,#7cd24f 337px,#6dce58 0,#6dce58 340px,#60c960 0,#60c960 343px,#55c666 0,#55c666 346px,#4dc26b 0,#4dc26b 349px,#45bf6f 0,#45bf6f 350.5px,#40bd72 353.5px,#40bd72 355px,#39b976 0,#39b976 356.5px,#28ae7f 364.5px,#28ae7f 366px,#20a585 0,#20a585 370px)"></i>
<i class=a style="background:linear-gradient(#218d8c 0,#218d8c 1px,#20908c 3.5px,#1e998a 32px,#1fa386 103.5px,#22a784 141px,#25ab81 172.5px,#2ab07e 201.5px,#2cb17d 212.5px,#30b47a 224.5px,#36b877 241.5px,#3bba75 252.5px,#45bf6f 270px,#49c16d 272.5px,#4dc26b 278.5px,#5bc862 290.5px,#69cc5b 298.5px,#69cc5b 300px,#70ce56 0,#70ce56 303px,#77d052 0,#77d052 306px,#81d34c 0,#81d34c 309px,#8bd546 0,#8bd546 312px,#9ad83c 0,#9ad83c 314px,#afdc2e 0,#afdc2e 317px,#d2e11b 0,#d2e11b 320px,#f3e51e 0,#f3e51e 321.5px,#f8e621 324.5px,#f8e621 326px,#dfe318 0,#dfe318 329px,#b7dd29 0,#b7dd29 332px,#9fd938 0,#9fd938 335px,#8dd644 0,#8dd644 337px,#83d34b 0,#83d34b 340px,#79d151 0,#79d151 343px,#72cf55 0,#72cf55 346px,#6bcd59 0,#6bcd59 349px,#64cb5d 0,#64cb5d 350.5px,#5ec961 356.5px,#59c764 359px,#57c665 361.5px,#57c665 364.5px,#51c468 368px,#51c468 370px)"></i>
<i class=b style="background:linear-gradient(#1f948b 0,#1f948b 1px,#1e978a 3.5px,#1f958b 43.5px,#20908c 75px,#1f928c 86.5px,#1e9a89 112.5px,#1fa187 143.5px,#20a585 163.5px,#24aa82 192.5px,#2bb17d 224.5px,#2fb37b 232.5px,#33b679 244.5px,#42be71 270px,#49c16d 278.5px,#51c468 284.5px,#57c665 290.5px,#57c665 292px,#5ec961 0,#5ec961 293px,#62ca5f 295.5px,#62ca5f 297px,#69cc5b 0,#69cc5b 298.5px,#6dce58 301.5px,#6dce58 303px,#77d052 0,#77d052 306px,#81d34c 0,#81d34c 309px,#8dd644 0,#8dd644 312px,#9dd93a 0,#9dd93a 314px,#b7dd29 0,#b7dd29 317px,#e1e318 0,#e1e318 320px,#f8e621 0,#f8e621 321.5px,#f3e51e 324.5px,#f3e51e 326px,#cde01d 0,#cde01d 329px,#addc30 0,#addc30 332px,#97d83e 0,#97d83e 335px,#88d547 0,#88d547 337px,#7ed24e 0,#7ed24e 340px,#74d054 0,#74d054 343px,#6dce58 0,#6dce58 344.5px,#62ca5f 350.5px,#62ca5f 352px,#5bc862 0,#5bc862 353.5px,#57c665 356.5px,#4dc26b 361.5px,#44be70 368px,#44be70 370px)"></i>
<i class=a style="background:linear-gradient(#1e9a89 0,#1e9a89 1px,#1e9d88 3.5px,#1e9e88 63.5px,#1fa286 118px,#22a784 169.5px,#24aa82 195.5px,#2cb17d 238.5px,#32b57a 252.5px,#36b877 264.5px,#3ebc73 278.5px,#4bc26c 290.5px,#4dc26b 293px,#53c567 295.5px,#57c665 298.5px,#57c665 300px,#5ec961 0,#5ec961 303px,#67cc5c 0,#67cc5c 306px,#72cf55 0,#72cf55 309px,#81d34c 0,#81d34c 312px,#95d73f 0,#95d73f 314px,#bade27 0,#bade27 317px,#eee51b 0,#eee51b 320px,#f8e621 0,#f8e621 323px,#ece41a 0,#ece41a 326px,#b7dd29 0,#b7dd29 329px,#92d741 0,#92d741 332px,#7cd24f 0,#7cd24f 335px,#6dce58 0,#6dce58 337px,#60c960 0,#60c960 340px,#55c666 0,#55c666 343px,#4dc26b 0,#4dc26b 344.5px,#39b976 356.5px,#35b778 361.5px,#2fb37b 368px,#2fb37b 370px)"></i>
<i class=b style="background:linear-gradient(#1f958b 0,#1f958b 1px,#1e988a 3.5px,#1e9a89 40.5px,#1fa187 89.5px,#21a784 135.5px,#23a883 149.5px,#27ad80 181.5px,#2cb17d 207px,#2eb27c 209.5px,#30b47a 221.5px,#35b778 232.5px,#39b976 244.5px,#3dbb74 250px,#40bd72 258.5px,#47c06e 267.5px,#4dc26b 275.5px,#5bc862 287.5px,#64cb5d 293px,#64cb5d 294px,#6bcd59 0,#6bcd59 295.5px,#70ce56 298.5px,#70ce56 300px,#77d052 0,#77d052 303px,#81d34c 0,#81d34c 306px,#8dd644 0,#8dd644 309px,#9ad83c 0,#9ad83c 312px,#afdc2e 0,#afdc2e 314px,#d2e11b 0,#d2e11b 317px,#f3e51e 0,#f3e51e 318.5px,#f8e621 321.5px,#f8e621 323px,#dfe318 0,#dfe318 326px,#b7dd29 0,#b7dd29 329px,#9fd938 0,#9fd938 332px,#90d643 0,#90d643 335px,#83d34b 0,#83d34b 337px,#79d151 0,#79d151 340px,#70ce56 0,#70ce56 343px,#69cc5b 0,#69cc5b 344.5px,#60c960 350.5px,#60c960 352px,#59c764 0,#59c764 353.5px,#4fc369 361.5px,#4dc26b 364.5px,#47c06e 368px,#47c06e 370px)"></i>
<i class=a style="background:linear-gradient(#1f948b 0,#1f948b 1px,#1f968b 3.5px,#1e978a 83.5px,#1e9b89 123.5px,#1fa386 163.5px,#22a784 186.5px,#27ad80 212.5px,#2cb17d 229.5px,#30b47a 241.5px,#36b877 252.5px,#40bd72 267.5px,#44be70 270px,#45bf6f 272.5px,#53c567 284.5px,#5bc862 290.5px,#60c960 293px,#60c960 294px,#67cc5c 0,#67cc5c 295.5px,#6dce58 298.5px,#6dce58 300px,#74d054 0,#74d054 303px,#81d34c 0,#81d34c 306px,#8dd644 0,#8dd644 309px,#9dd93a 0,#9dd93a 312px,#b7dd29 0,#b7dd29 314px,#e4e318 0,#e4e318 317px,#f8e621 0,#f8e621 318.5px,#f3e51e 321.5px,#f3e51e 323px,#cae01e 0,#cae01e 326px,#aadb32 0,#aadb32 329px,#95d73f 0,#95d73f 332px,#88d547 0,#88d547 335px,#7cd24f 0,#7cd24f 337px,#74d054 0,#74d054 340px,#6dce58 0,#6dce58 341.5px,#59c764 353.5px,#51c468 361.5px,#4fc369 364.5px,#49c16d 368px,#49c16d 370px)"></i>
<i class=a style="background:linear-gradient(#1e978a 0,#1e978a 1px,#1e998a 3.5px,#1e9a89 20.5px,#1fa187 69.5px,#20a585 109.5px,#22a784 135.5px,#26ac81 175.5px,#2cb17d 221.5px,#30b47a 232.5px,#35b778 247.5px,#39b976 258.5px,#42be71 272.5px,#49c16d 281.5px,#59c764 293px,#64cb5d 298.5px,#64cb5d 300px,#6dce58 0,#6dce58 303px,#77d052 0,#77d052 306px,#86d449 0,#86d449 309px,#9ad83c 0,#9ad83c 312px,#bdde26 0,#bdde26 314px,#eee51b 0,#eee51b 317px,#f8e621 0,#f8e621 320px,#e9e419 0,#e9e419 323px,#b7dd29 0,#b7dd29 326px,#95d73f 0,#95d73f 329px,#81d34c 0,#81d34c 332px,#72cf55 0,#72cf55 335px,#67cc5c 0,#67cc5c 337px,#5bc862 0,#5bc862 338.5px,#55c666 341.5px,#55c666 343px,#4dc26b 0,#4dc26b 344.5px,#39b976 356.5px,#2fb37b 361.5px,#29af7f 364.5px,#29af7f 366px,#21a784 0,#21a784 370px)"></i>
<i class=b style="background:linear-gradient(#1f958b 0,#1f958b 1px,#1e978a 3.5px,#1e9a89 49.5px,#1fa386 109.5px,#21a784 135.5px,#23a982 149.5px,#27ad80 178.5px,#2cb17d 204.5px,#2eb27c 209.5px,#33b679 227px,#36b877 232.5px,#39b976 241.5px,#4bc26c 270px,#4fc369 272.5px,#57c665 281.5px,#60c960 287.5px,#60c960 289px,#67cc5c 0,#67cc5c 290.5px,#6bcd59 293px,#6bcd59 294px,#72cf55 0,#72cf55 297px,#79d151 0,#79d151 300px,#83d34b 0,#83d34b 303px,#8dd644 0,#8dd644 306px,#9dd93a 0,#9dd93a 309px,#b2dd2c 0,#b2dd2c 312px,#d7e219 0,#d7e219 314px,#f6e61f 0,#f6e61f 320px,#dce218 0,#dce218 323px,#b7dd29 0,#b7dd29 326px,#9fd938 0,#9fd938 329px,#90d643 0,#90d643 332px,#83d34b 0,#83d34b 335px,#79d151 0,#79d151 337px,#72cf55 0,#72cf55 340px,#6bcd59 0,#6bcd59 343px,#64cb5d 0,#64cb5d 344.5px,#60c960 347.5px,#60c960 349px,#59c764 0,#59c764 350.5px,#51c468 356.5px,#45bf6f 361.5px,#40bd72 364.5px,#40bd72 366px,#38b976 0,#38b976 370px)"></i>
<i class=a style="background:linear-gradient(#218c8d 0,#218c8d 1px,#208f8c 3.5px,#1e988a 32px,#1e9f88 98px,#1fa286 158.5px,#1fa286 209.5px,#22a784 224.5px,#24aa82 229.5px,#2bb17d 244.5px,#2cb17d 247.5px,#38b976 261.5px,#39b976 264.5px,#3dbb74 267.5px,#3ebc73 270px,#55c666 287.5px,#5bc862 290.5px,#5bc862 292px,#62ca5f 0,#62ca5f 294px,#69cc5b 0,#69cc5b 297px,#70ce56 0,#70ce56 300px,#7cd24f 0,#7cd24f 303px,#88d547 0,#88d547 306px,#9ad83c 0,#9ad83c 309px,#bade27 0,#bade27 312px,#e7e419 0,#e7e419 314px,#f8e621 0,#f8e621 317px,#f1e51c 0,#f1e51c 320px,#c5df21 0,#c5df21 323px,#a5da35 0,#a5da35 326px,#90d643 0,#90d643 329px,#83d34b 0,#83d34b 332px,#77d052 0,#77d052 335px,#70ce56 0,#70ce56 337px,#69cc5b 0,#69cc5b 340px,#62ca5f 0,#62ca5f 341.5px,#59c764 347.5px,#4fc369 359px,#4dc26b 364.5px,#49c16d 368px,#49c16d 370px)"></i>
<i class=b style="background:linear-gradient(#20908c 0,#20908c 1px,#1f938b 3.5px,#1e9b89 29.5px,#1fa286 72.5px,#22a784 120.5px,#25ab81 161px,#2ab07e 195.5px,#2cb17d 207px,#2eb27c 209.5px,#30b47a 221.5px,#35b778 232.5px,#39b976 247.5px,#47c06e 267.5px,#4bc26c 272.5px,#59c764 284.5px,#62ca5f 290.5px,#62ca5f 292px,#69cc5b 0,#69cc5b 294px,#70ce56 0,#70ce56 297px,#77d052 0,#77d052 300px,#83d34b 0,#83d34b 303px,#90d643 0,#90d643 306px,#a5da35 0,#a5da35 309px,#c5df21 0,#c5df21 312px,#f1e51c 0,#f1e51c 314px,#f8e621 0,#f8e621 317px,#e7e419 0,#e7e419 320px,#bade27 0,#bade27 323px,#9ad83c 0,#9ad83c 326px,#88d547 0,#88d547 329px,#7cd24f 0,#7cd24f 332px,#70ce56 0,#70ce56 335px,#69cc5b 0,#69cc5b 337px,#62ca5f 0,#62ca5f 340px,#5bc862 0,#5bc862 341.5px,#4dc26b 350.5px,#47c06e 356.5px,#44be70 361.5px,#44be70 364.5px,#3ebc73 368px,#3ebc73 370px)"></i>
<i class=a style="background:linear-gradient(#287a8e 0,#287a8e 1px,#277e8e 3.5px,#267f8e 6.5px,#23888d 17.5px,#1f948b 46.5px,#1e998a 69.5px,#1fa386 120.5px,#22a784 146.5px,#26ac81 178.5px,#2cb17d 204.5px,#33b679 227px,#36b877 232.5px,#39b976 241.5px,#45bf6f 261.5px,#4bc26c 267.5px,#57c665 278.5px,#64cb5d 287.5px,#64cb5d 289px,#6bcd59 0,#6bcd59 292px,#72cf55 0,#72cf55 294px,#79d151 0,#79d151 297px,#83d34b 0,#83d34b 300px,#90d643 0,#90d643 303px,#9fd938 0,#9fd938 306px,#b7dd29 0,#b7dd29 309px,#dce218 0,#dce218 312px,#f6e61f 0,#f6e61f 317px,#d4e11a 0,#d4e11a 320px,#b2dd2c 0,#b2dd2c 323px,#9dd93a 0,#9dd93a 326px,#8dd644 0,#8dd644 329px,#83d34b 0,#83d34b 332px,#79d151 0,#79d151 335px,#72cf55 0,#72cf55 337px,#6bcd59 0,#6bcd59 340px,#64cb5d 0,#64cb5d 341.5px,#51c468 353.5px,#49c16d 359px,#44be70 361.5px,#44be70 363px,#3dbb74 0,#3dbb74 366px,#35b778 0,#35b778 370px)"></i>
<i class=a style="background:linear-gradient(#1e988a 0,#1e988a 1px,#1e9a89 3.5px,#1e9c89 34.5px,#1fa386 106.5px,#22a784 155.5px,#24aa82 189.5px,#2cb17d 247.5px,#32b57a 267.5px,#36b877 272.5px,#3ebc73 281.5px,#49c16d 287.5px,#49c16d 289px,#51c468 0,#51c468 292px,#59c764 0,#59c764 294px,#62ca5f 0,#62ca5f 297px,#70ce56 0,#70ce56 300px,#81d34c 0,#81d34c 303px,#97d83e 0,#97d83e 306px,#bade27 0,#bade27 309px,#ece41a 0,#ece41a 312px,#f8e621 0,#f8e621 314px,#eee51b 0,#eee51b 317px,#bdde26 0,#bdde26 320px,#97d83e 0,#97d83e 323px,#83d34b 0,#83d34b 326px,#72cf55 0,#72cf55 329px,#69cc5b 0,#69cc5b 332px,#60c960 0,#60c960 335px,#59c764 0,#59c764 336px,#53c567 338.5px,#4bc26c 344.5px,#42be71 356.5px,#40bd72 364.5px,#3bba75 368px,#3bba75 370px)"></i>
<i class=b style="background:linear-gradient(#1e998a 0,#1e998a 1px,#1e9b89 20.5px,#1fa187 80.5px,#21a685 115.5px,#22a784 132.5px,#26ac81 163.5px,#2cb17d 198.5px,#2fb37b 207px,#35b778 224.5px,#39b976 235.5px,#3dbb74 241.5px,#3ebc73 247.5px,#4dc26b 267.5px,#53c567 272.5px,#69cc5b 287.5px,#69cc5b 289px,#70ce56 0,#70ce56 292px,#77d052 0,#77d052 294px,#81d34c 0,#81d34c 297px,#8bd546 0,#8bd546 300px,#9ad83c 0,#9ad83c 303px,#afdc2e 0,#afdc2e 306px,#d2e11b 0,#d2e11b 309px,#f3e51e 0,#f3e51e 310.5px,#f8e621 313px,#f8e621 314px,#e1e318 0,#e1e318 317px,#b7dd29 0,#b7dd29 320px,#9fd938 0,#9fd938 323px,#90d643 0,#90d643 326px,#83d34b 0,#83d34b 329px,#79d151 0,#79d151 332px,#70ce56 0,#70ce56 335px,#69cc5b 0,#69cc5b 336px,#59c764 344.5px,#3ebc73 364.5px,#39b976 368px,#39b976 370px)"></i>
<i class=a style="background:linear-gradient(#218e8c 0,#218e8c 1px,#20918c 6.5px,#1e998a 54.5px,#1e9c89 118px,#1e9b89 146.5px,#1e978a 163.5px,#1f958b 169.5px,#1e998a 178.5px,#1fa187 189.5px,#22a784 204.5px,#2bb17d 229.5px,#35b778 247.5px,#3bba75 255.5px,#44be70 264.5px,#45bf6f 267.5px,#5ec961 284.5px,#64cb5d 287.5px,#64cb5d 289px,#6bcd59 0,#6bcd59 292px,#74d054 0,#74d054 294px,#7ed24e 0,#7ed24e 297px,#8bd546 0,#8bd546 300px,#9dd93a 0,#9dd93a 303px,#bade27 0,#bade27 306px,#e4e318 0,#e4e318 309px,#f8e621 0,#f8e621 310.5px,#f3e51e 313px,#f3e51e 314px,#cae01e 0,#cae01e 317px,#aadb32 0,#aadb32 320px,#95d73f 0,#95d73f 323px,#86d449 0,#86d449 326px,#7cd24f 0,#7cd24f 329px,#72cf55 0,#72cf55 332px,#6bcd59 0,#6bcd59 333.5px,#67cc5c 336px,#67cc5c 337px,#60c960 0,#60c960 338.5px,#5bc862 341.5px,#51c468 353.5px,#4bc26c 361.5px,#4bc26c 364.5px,#45bf6f 368px,#45bf6f 370px)"></i>
<i class=b style="background:linear-gradient(#1f938b 0,#1f938b 1px,#1f968b 3.5px,#1ea087 54.5px,#22a784 118px,#24aa82 146.5px,#2ab07e 189.5px,#2cb17d 201.5px,#2fb37b 209.5px,#33b679 227px,#38b976 235.5px,#3bba75 244.5px,#45bf6f 261.5px,#4bc26c 267.5px,#51c468 272.5px,#62ca5f 284.5px,#62ca5f 286px,#69cc5b 0,#69cc5b 289px,#70ce56 0,#70ce56 292px,#77d052 0,#77d052 294px,#81d34c 0,#81d34c 297px,#90d643 0,#90d643 300px,#a5da35 0,#a5da35 303px,#c5df21 0,#c5df21 306px,#f1e51c 0,#f1e51c 309px,#f8e621 0,#f8e621 312px,#e7e419 0,#e7e419 314px,#bade27 0,#bade27 317px,#9dd93a 0,#9dd93a 320px,#88d547 0,#88d547 323px,#7cd24f 0,#7cd24f 326px,#70ce56 0,#70ce56 329px,#69cc5b 0,#69cc5b 332px,#60c960 0,#60c960 333.5px,#55c666 338.5px,#45bf6f 350.5px,#3ebc73 361.5px,#3ebc73 364.5px,#39b976 368px,#39b976 370px)"></i>
<i class=a style="background:linear-gradient(#24868d 0,#24868d 1px,#23888d 3.5px,#22898d 26.5px,#1f948b 52px,#1e9b89 83.5px,#1fa386 126.5px,#21a784 146.5px,#25ab81 172.5px,#2cb17d 204.5px,#2eb27c 209.5px,#33b679 224.5px,#38b976 232.5px,#3bba75 241.5px,#3ebc73 247.5px,#44be70 252.5px,#47c06e 258.5px,#53c567 270px,#64cb5d 281.5px,#64cb5d 283px,#6bcd59 0,#6bcd59 286px,#72cf55 0,#72cf55 289px,#79d151 0,#79d151 292px,#83d34b 0,#83d34b 294px,#90d643 0,#90d643 297px,#9fd938 0,#9fd938 300px,#b7dd29 0,#b7dd29 303px,#dfe318 0,#dfe318 306px,#f8e621 0,#f8e621 307.5px,#f6e61f 310.5px,#f6e61f 312px,#d4e11a 0,#d4e11a 314px,#b2dd2c 0,#b2dd2c 317px,#9dd93a 0,#9dd93a 320px,#8dd644 0,#8dd644 323px,#81d34c 0,#81d34c 326px,#79d151 0,#79d151 329px,#70ce56 0,#70ce56 330.5px,#6bcd59 333.5px,#6bcd59 335px,#64cb5d 0,#64cb5d 336px,#53c567 347.5px,#4bc26c 356.5px,#45bf6f 361.5px,#45bf6f 364.5px,#40bd72 368px,#40bd72 370px)"></i>
<i class=a style="background:linear-gradient(#1f968b 0,#1f968b 1px,#1e998a 3.5px,#1e9a89 20.5px,#1fa187 66.5px,#21a685 112.5px,#23a883 143.5px,#27ad80 186.5px,#2cb17d 215.5px,#30b47a 232.5px,#35b778 244.5px,#3bba75 258.5px,#49c16d 275.5px,#57c665 284.5px,#57c665 286px,#60c960 0,#60c960 289px,#69cc5b 0,#69cc5b 292px,#74d054 0,#74d054 294px,#83d34b 0,#83d34b 297px,#9ad83c 0,#9ad83c 300px,#bfdf24 0,#bfdf24 303px,#eee51b 0,#eee51b 306px,#f8e621 0,#f8e621 309px,#ece41a 0,#ece41a 312px,#bdde26 0,#bdde26 314px,#97d83e 0,#97d83e 317px,#81d34c 0,#81d34c 320px,#70ce56 0,#70ce56 323px,#64cb5d 0,#64cb5d 326px,#59c764 0,#59c764 329px,#51c468 0,#51c468 330.5px,#45bf6f 336px,#3bba75 344.5px,#35b778 361.5px,#35b778 364.5px,#32b57a 368px,#32b57a 370px)"></i>
<i class=b style="background:linear-gradient(#1f968b 0,#1f968b 1px,#1e988a 3.5px,#1e9a89 40.5px,#1fa386 100.5px,#22a784 129.5px,#25ab81 158.5px,#2ab07e 184px,#2cb17d 195.5px,#32b57a 209.5px,#36b877 224.5px,#3ebc73 238.5px,#40bd72 244.5px,#44be70 247.5px,#4bc26c 258.5px,#55c666 267.5px,#5bc862 272.5px,#60c960 275.5px,#60c960 277px,#67cc5c 0,#67cc5c 278.5px,#6bcd59 281.5px,#6bcd59 283px,#72cf55 0,#72cf55 286px,#79d151 0,#79d151 289px,#83d34b 0,#83d34b 292px,#90d643 0,#90d643 294px,#9fd938 0,#9fd938 297px,#b5dd2b 0,#b5dd2b 300px,#d7e219 0,#d7e219 303px,#f6e61f 0,#f6e61f 309px,#dce218 0,#dce218 312px,#b7dd29 0,#b7dd29 314px,#9fd938 0,#9fd938 317px,#90d643 0,#90d643 320px,#83d34b 0,#83d34b 323px,#79d151 0,#79d151 326px,#72cf55 0,#72cf55 329px,#6bcd59 0,#6bcd59 332px,#64cb5d 0,#64cb5d 333.5px,#57c665 341.5px,#4fc369 347.5px,#49c16d 353.5px,#38b976 368px,#38b976 370px)"></i>
<i class=a style="background:linear-gradient(#20918c 0,#20918c 1px,#1f968b 11.5px,#1e9f88 63.5px,#21a685 132.5px,#22a784 166.5px,#24aa82 195.5px,#26ac81 241.5px,#2bb17d 252.5px,#30b47a 258.5px,#38b976 264.5px,#3bba75 267.5px,#4fc369 278.5px,#4fc369 280px,#57c665 0,#57c665 283px,#5ec961 0,#5ec961 286px,#69cc5b 0,#69cc5b 289px,#74d054 0,#74d054 292px,#83d34b 0,#83d34b 294px,#9ad83c 0,#9ad83c 297px,#bdde26 0,#bdde26 300px,#e9e419 0,#e9e419 303px,#f8e621 0,#f8e621 306px,#eee51b 0,#eee51b 309px,#c2df22 0,#c2df22 312px,#9fd938 0,#9fd938 314px,#88d547 0,#88d547 317px,#79d151 0,#79d151 320px,#70ce56 0,#70ce56 323px,#67cc5c 0,#67cc5c 326px,#60c960 0,#60c960 329px,#59c764 0,#59c764 330.5px,#51c468 336px,#49c16d 344.5px,#42be71 356.5px,#42be71 361.5px,#3dbb74 368px,#3dbb74 370px)"></i>
<i class=a style="background:linear-gradient(#1e978a 0,#1e978a 1px,#1e998a 3.5px,#1e9c89 34.5px,#1fa386 86.5px,#22a784 120.5px,#24aa82 143.5px,#2cb17d 189.5px,#2fb37b 198.5px,#30b47a 204.5px,#32b57a 209.5px,#39b976 227px,#3bba75 229.5px,#3ebc73 238.5px,#44be70 247.5px,#4bc26c 255.5px,#57c665 267.5px,#69cc5b 278.5px,#69cc5b 280px,#70ce56 0,#70ce56 283px,#77d052 0,#77d052 286px,#81d34c 0,#81d34c 289px,#8dd644 0,#8dd644 292px,#9dd93a 0,#9dd93a 294px,#b2dd2c 0,#b2dd2c 297px,#d2e11b 0,#d2e11b 300px,#f3e51e 0,#f3e51e 301.5px,#f8e621 304.5px,#f8e621 306px,#dfe318 0,#dfe318 309px,#bade27 0,#bade27 312px,#9fd938 0,#9fd938 314px,#90d643 0,#90d643 317px,#83d34b 0,#83d34b 320px,#79d151 0,#79d151 323px,#70ce56 0,#70ce56 324.5px,#6bcd59 327.5px,#6bcd59 329px,#64cb5d 0,#64cb5d 330.5px,#53c567 341.5px,#47c06e 353.5px,#42be71 361.5px,#42be71 364.5px,#3dbb74 368px,#3dbb74 370px)"></i>
<i class=b style="background:linear-gradient(#1e978a 0,#1e978a 1px,#1e998a 3.5px,#1e9b89 49.5px,#1e9f88 109.5px,#1e9f88 172.5px,#1e9c89 186.5px,#1ea087 198.5px,#21a784 209.5px,#27ad80 224.5px,#2bb17d 232.5px,#38b976 250px,#44be70 261.5px,#4fc369 270px,#55c666 272.5px,#59c764 275.5px,#59c764 277px,#60c960 0,#60c960 280px,#67cc5c 0,#67cc5c 283px,#70ce56 0,#70ce56 286px,#7cd24f 0,#7cd24f 289px,#88d547 0,#88d547 292px,#9dd93a 0,#9dd93a 294px,#bdde26 0,#bdde26 297px,#e7e419 0,#e7e419 300px,#f8e621 0,#f8e621 303px,#f1e51c 0,#f1e51c 306px,#c7e01f 0,#c7e01f 309px,#a5da35 0,#a5da35 312px,#90d643 0,#90d643 314px,#81d34c 0,#81d34c 317px,#77d052 0,#77d052 320px,#6dce58 0,#6dce58 321.5px,#62ca5f 327.5px,#62ca5f 329px,#5bc862 0,#5bc862 330.5px,#53c567 336px,#4dc26b 341.5px,#42be71 359px,#40bd72 364.5px,#3dbb74 368px,#3dbb74 370px)"></i>
<i class=a style="background:linear-gradient(#1f948b 0,#1f948b 1px,#1e978a 3.5px,#1e9c89 32px,#1fa386 77.5px,#21a784 109.5px,#23a982 129.5px,#27ad80 158.5px,#2cb17d 186.5px,#30b47a 204.5px,#33b679 209.5px,#36b877 218.5px,#3bba75 229.5px,#49c16d 252.5px,#59c764 267.5px,#62ca5f 272.5px,#62ca5f 274px,#69cc5b 0,#69cc5b 275.5px,#6dce58 278.5px,#6dce58 280px,#77d052 0,#77d052 283px,#7ed24e 0,#7ed24e 286px,#8bd546 0,#8bd546 289px,#9ad83c 0,#9ad83c 292px,#afdc2e 0,#afdc2e 294px,#cfe11c 0,#cfe11c 297px,#f3e51e 0,#f3e51e 298.5px,#f8e621 301.5px,#f8e621 303px,#e1e318 0,#e1e318 306px,#bade27 0,#bade27 309px,#9fd938 0,#9fd938 312px,#8dd644 0,#8dd644 314px,#81d34c 0,#81d34c 317px,#77d052 0,#77d052 320px,#70ce56 0,#70ce56 323px,#69cc5b 0,#69cc5b 326px,#62ca5f 0,#62ca5f 327.5px,#4dc26b 341.5px,#42be71 359px,#40bd72 364.5px,#3dbb74 368px,#3dbb74 370px)"></i>
<i class=b style="background:linear-gradient(#1e998a 0,#1e998a 1px,#1e9c89 3.5px,#1e9a89 77.5px,#1e988a 100.5px,#1f958b 120.5px,#1fa386 163.5px,#25ab81 195.5px,#2fb37b 224.5px,#35b778 235.5px,#3dbb74 247.5px,#4bc26c 261.5px,#57c665 270px,#57c665 271px,#5ec961 0,#5ec961 272.5px,#64cb5d 275.5px,#64cb5d 277px,#6bcd59 0,#6bcd59 280px,#72cf55 0,#72cf55 283px,#7ed24e 0,#7ed24e 286px,#8bd546 0,#8bd546 289px,#9fd938 0,#9fd938 292px,#bdde26 0,#bdde26 294px,#e7e419 0,#e7e419 297px,#f8e621 0,#f8e621 300px,#f1e51c 0,#f1e51c 303px,#cae01e 0,#cae01e 306px,#a7db33 0,#a7db33 309px,#92d741 0,#92d741 312px,#86d449 0,#86d449 314px,#79d151 0,#79d151 317px,#72cf55 0,#72cf55 320px,#69cc5b 0,#69cc5b 321.5px,#55c666 333.5px,#47c06e 344.5px,#3dbb74 356.5px,#2fb37b 368px,#2fb37b 370px)"></i>
<i class=a style="background:linear-gradient(#1e9c89 0,#1e9c89 1px,#1e9f88 3.5px,#1ea087 43.5px,#21a784 109.5px,#23a982 129.5px,#27ad80 158.5px,#2cb17d 184px,#30b47a 201.5px,#36b877 215.5px,#39b976 224.5px,#49c16d 250px,#4dc26b 252.5px,#51c468 258.5px,#62ca5f 270px,#6dce58 275.5px,#6dce58 277px,#74d054 0,#74d054 280px,#7ed24e 0,#7ed24e 283px,#88d547 0,#88d547 286px,#97d83e 0,#97d83e 289px,#addc30 0,#addc30 292px,#cde01d 0,#cde01d 294px,#f3e51e 0,#f3e51e 295.5px,#f8e621 298.5px,#f8e621 300px,#e4e318 0,#e4e318 303px,#bdde26 0,#bdde26 306px,#9fd938 0,#9fd938 309px,#8dd644 0,#8dd644 312px,#81d34c 0,#81d34c 314px,#77d052 0,#77d052 317px,#6dce58 0,#6dce58 318.5px,#62ca5f 324.5px,#62ca5f 326px,#5bc862 0,#5bc862 327.5px,#47c06e 341.5px,#38b976 356.5px,#30b47a 361.5px,#30b47a 363px,#29af7f 0,#29af7f 366px,#1e988a 0,#1e988a 370px)"></i>
<i class=a style="background:linear-gradient(#267f8e 0,#267f8e 2px,#24868d 0,#24868d 3.5px,#20908c 14.5px,#1f968b 34.5px,#1e998a 60.5px,#1e9c89 118px,#1e988a 149.5px,#1e978a 158.5px,#1fa286 178.5px,#21a784 189.5px,#26ac81 204.5px,#2bb17d 215.5px,#32b57a 229.5px,#40bd72 247.5px,#4bc26c 258.5px,#53c567 264.5px,#64cb5d 272.5px,#64cb5d 274px,#6bcd59 0,#6bcd59 277px,#74d054 0,#74d054 280px,#7ed24e 0,#7ed24e 283px,#8bd546 0,#8bd546 286px,#9fd938 0,#9fd938 289px,#bdde26 0,#bdde26 292px,#e7e419 0,#e7e419 294px,#f8e621 0,#f8e621 297px,#f1e51c 0,#f1e51c 300px,#cae01e 0,#cae01e 303px,#aadb32 0,#aadb32 306px,#95d73f 0,#95d73f 309px,#86d449 0,#86d449 312px,#79d151 0,#79d151 314px,#72cf55 0,#72cf55 317px,#6bcd59 0,#6bcd59 320px,#64cb5d 0,#64cb5d 321.5px,#53c567 333.5px,#4dc26b 338.5px,#45bf6f 350.5px,#44be70 359px,#42be71 361.5px,#42be71 364.5px,#3ebc73 368px,#3ebc73 370px)"></i>
<i class=b style="background:linear-gradient(#20908c 0,#20908c 1px,#1f938b 3.5px,#1e998a 17.5px,#1fa286 60.5px,#22a784 106.5px,#24aa82 132.5px,#2cb17d 181.5px,#30b47a 195.5px,#33b679 207px,#38b976 215.5px,#3bba75 224.5px,#49c16d 247.5px,#53c567 255.5px,#59c764 261.5px,#67cc5c 270px,#6dce58 272.5px,#6dce58 274px,#74d054 0,#74d054 277px,#7ed24e 0,#7ed24e 280px,#8bd546 0,#8bd546 283px,#97d83e 0,#97d83e 286px,#afdc2e 0,#afdc2e 289px,#cfe11c 0,#cfe11c 292px,#f3e51e 0,#f3e51e 293px,#f8e621 295.5px,#f8e621 297px,#e4e318 0,#e4e318 300px,#bdde26 0,#bdde26 303px,#9fd938 0,#9fd938 306px,#8dd644 0,#8dd644 309px,#81d34c 0,#81d34c 312px,#77d052 0,#77d052 314px,#70ce56 0,#70ce56 317px,#69cc5b 0,#69cc5b 320px,#62ca5f 0,#62ca5f 323px,#5bc862 0,#5bc862 324.5px,#53c567 330.5px,#51c468 333.5px,#49c16d 338.5px,#3dbb74 359px,#3dbb74 364.5px,#38b976 368px,#38b976 370px)"></i>
<i class=a style="background:linear-gradient(#1e9a89 0,#1e9a89 1px,#1e9d88 3.5px,#1e9c89 89.5px,#1e988a 123.5px,#20918c 138.5px,#1f938b 143.5px,#1e9b89 155.5px,#1fa386 172.5px,#27ad80 204.5px,#2fb37b 224.5px,#33b679 229.5px,#3bba75 241.5px,#40bd72 247.5px,#44be70 250px,#45bf6f 252.5px,#51c468 261.5px,#5bc862 267.5px,#5bc862 269px,#62ca5f 0,#62ca5f 271px,#69cc5b 0,#69cc5b 274px,#72cf55 0,#72cf55 277px,#7cd24f 0,#7cd24f 280px,#8bd546 0,#8bd546 283px,#9fd938 0,#9fd938 286px,#bdde26 0,#bdde26 289px,#e7e419 0,#e7e419 292px,#f8e621 0,#f8e621 294px,#f1e51c 0,#f1e51c 297px,#cae01e 0,#cae01e 300px,#a7db33 0,#a7db33 303px,#92d741 0,#92d741 306px,#83d34b 0,#83d34b 309px,#79d151 0,#79d151 312px,#70ce56 0,#70ce56 314px,#69cc5b 0,#69cc5b 317px,#62ca5f 0,#62ca5f 318.5px,#4dc26b 333.5px,#42be71 344.5px,#33b679 361.5px,#2cb17d 368px,#2cb17d 370px)"></i>
<i class=b style="background:linear-gradient(#1e9b89 0,#1e9b89 1px,#1e9d88 3.5px,#1fa187 57.5px,#21a685 92.5px,#23a883 118px,#26ac81 146.5px,#2cb17d 178.5px,#2fb37b 186.5px,#35b778 207px,#39b976 215.5px,#3bba75 221.5px,#45bf6f 238.5px,#4bc26c 244.5px,#4dc26b 247.5px,#53c567 252.5px,#69cc5b 267.5px,#69cc5b 269px,#70ce56 0,#70ce56 271px,#77d052 0,#77d052 274px,#81d34c 0,#81d34c 277px,#8bd546 0,#8bd546 280px,#9ad83c 0,#9ad83c 283px,#b2dd2c 0,#b2dd2c 286px,#d2e11b 0,#d2e11b 289px,#f3e51e 0,#f3e51e 290.5px,#f8e621 293px,#f8e621 294px,#e1e318 0,#e1e318 297px,#bdde26 0,#bdde26 300px,#a2da37 0,#a2da37 303px,#90d643 0,#90d643 306px,#83d34b 0,#83d34b 309px,#79d151 0,#79d151 312px,#70ce56 0,#70ce56 314px,#69cc5b 0,#69cc5b 315.5px,#55c666 327.5px,#4fc369 333.5px,#49c16d 338.5px,#45bf6f 341.5px,#44be70 344.5px,#3ebc73 350.5px,#38b976 361.5px,#38b976 364.5px,#33b679 368px,#33b679 370px)"></i>
<i class=a style="background:linear-gradient(#1e9b89 0,#1e9b89 1px,#1e9d88 3.5px,#1fa187 106.5px,#20a585 186.5px,#22a784 204.5px,#29af7f 224.5px,#35b778 241.5px,#3ebc73 250px,#45bf6f 255.5px,#5bc862 267.5px,#5bc862 269px,#64cb5d 0,#64cb5d 271px,#6dce58 0,#6dce58 274px,#79d151 0,#79d151 277px,#88d547 0,#88d547 280px,#9dd93a 0,#9dd93a 283px,#bfdf24 0,#bfdf24 286px,#e9e419 0,#e9e419 289px,#f8e621 0,#f8e621 292px,#f1e51c 0,#f1e51c 294px,#c7e01f 0,#c7e01f 297px,#a5da35 0,#a5da35 300px,#8dd644 0,#8dd644 303px,#7ed24e 0,#7ed24e 306px,#72cf55 0,#72cf55 309px,#6bcd59 0,#6bcd59 312px,#64cb5d 0,#64cb5d 313px,#59c764 318.5px,#49c16d 330.5px,#3ebc73 344.5px,#36b877 364.5px,#33b679 368px,#33b679 370px)"></i>
<i class=a style="background:linear-gradient(#1e9a89 0,#1e9a89 1px,#1e9d88 6.5px,#1e9e88 37.5px,#20a585 95.5px,#21a784 109.5px,#27ad80 152.5px,#2bb17d 172.5px,#2eb27c 181.5px,#36b877 207px,#3ebc73 221.5px,#3ebc73 224.5px,#44be70 229.5px,#4bc26c 241.5px,#51c468 247.5px,#60c960 258.5px,#60c960 260px,#67cc5c 0,#67cc5c 261.5px,#6bcd59 264.5px,#6bcd59 266px,#72cf55 0,#72cf55 269px,#79d151 0,#79d151 271px,#83d34b 0,#83d34b 274px,#90d643 0,#90d643 277px,#9fd938 0,#9fd938 280px,#b5dd2b 0,#b5dd2b 283px,#d7e219 0,#d7e219 286px,#f6e61f 0,#f6e61f 292px,#dfe318 0,#dfe318 294px,#bade27 0,#bade27 297px,#a2da37 0,#a2da37 300px,#90d643 0,#90d643 303px,#83d34b 0,#83d34b 306px,#79d151 0,#79d151 309px,#72cf55 0,#72cf55 312px,#6bcd59 0,#6bcd59 314px,#64cb5d 0,#64cb5d 315.5px,#53c567 327.5px,#4dc26b 333.5px,#47c06e 338.5px,#3ebc73 347.5px,#3dbb74 350.5px,#33b679 359px,#2bb17d 364.5px,#25ab81 368px,#25ab81 370px)"></i>
<i class=b style="background:linear-gradient(#1e9a89 0,#1e9a89 1px,#1e9c89 3.5px,#1fa286 69.5px,#22a784 120.5px,#24aa82 155.5px,#2ab07e 198.5px,#2cb17d 209.5px,#35b778 232.5px,#3dbb74 247.5px,#4bc26c 258.5px,#57c665 264.5px,#57c665 266px,#5ec961 0,#5ec961 269px,#69cc5b 0,#69cc5b 271px,#77d052 0,#77d052 274px,#86d449 0,#86d449 277px,#9fd938 0,#9fd938 280px,#c2df22 0,#c2df22 283px,#ece41a 0,#ece41a 286px,#f8e621 0,#f8e621 289px,#ece41a 0,#ece41a 292px,#c2df22 0,#c2df22 294px,#9fd938 0,#9fd938 297px,#88d547 0,#88d547 300px,#77d052 0,#77d052 303px,#69cc5b 0,#69cc5b 306px,#60c960 0,#60c960 309px,#57c665 0,#57c665 310.5px,#4bc26c 315.5px,#44be70 321.5px,#3ebc73 327.5px,#38b976 338.5px,#33b679 356.5px,#33b679 364.5px,#2fb37b 368px,#2fb37b 370px)"></i>
<i class=a style="background:linear-gradient(#1f928c 0,#1f928c 1px,#1f948b 3.5px,#1e988a 34.5px,#1e9b89 54.5px,#1fa386 98px,#22a784 123.5px,#24aa82 141px,#2cb17d 178.5px,#2cb17d 181.5px,#2fb37b 186.5px,#35b778 204.5px,#42be71 227px,#45bf6f 232.5px,#4bc26c 238.5px,#53c567 247.5px,#64cb5d 258.5px,#64cb5d 260px,#6bcd59 0,#6bcd59 263px,#72cf55 0,#72cf55 266px,#79d151 0,#79d151 269px,#83d34b 0,#83d34b 271px,#90d643 0,#90d643 274px,#a2da37 0,#a2da37 277px,#bade27 0,#bade27 280px,#dfe318 0,#dfe318 283px,#f6e61f 0,#f6e61f 289px,#d7e219 0,#d7e219 292px,#b5dd2b 0,#b5dd2b 294px,#9fd938 0,#9fd938 297px,#90d643 0,#90d643 300px,#83d34b 0,#83d34b 303px,#79d151 0,#79d151 306px,#72cf55 0,#72cf55 309px,#6bcd59 0,#6bcd59 312px,#64cb5d 0,#64cb5d 313px,#57c665 321.5px,#51c468 327.5px,#4bc26c 333.5px,#45bf6f 338.5px,#44be70 341.5px,#3bba75 350.5px,#33b679 359px,#2bb17d 364.5px,#26ac81 368px,#26ac81 370px)"></i>
<i class=b style="background:linear-gradient(#1e9e88 0,#1e9e88 1px,#1fa187 3.5px,#1fa286 43.5px,#22a784 100.5px,#26ac81 143.5px,#29af7f 161px,#2cb17d 181.5px,#2fb37b 186.5px,#30b47a 195.5px,#36b877 209.5px,#3bba75 221.5px,#49c16d 241.5px,#4fc369 247.5px,#60c960 258.5px,#60c960 260px,#67cc5c 0,#67cc5c 261.5px,#6dce58 264.5px,#6dce58 266px,#77d052 0,#77d052 269px,#81d34c 0,#81d34c 271px,#90d643 0,#90d643 274px,#a7db33 0,#a7db33 277px,#cae01e 0,#cae01e 280px,#f1e51c 0,#f1e51c 283px,#f8e621 0,#f8e621 286px,#e9e419 0,#e9e419 289px,#bfdf24 0,#bfdf24 292px,#9fd938 0,#9fd938 294px,#8bd546 0,#8bd546 297px,#7cd24f 0,#7cd24f 300px,#70ce56 0,#70ce56 303px,#67cc5c 0,#67cc5c 306px,#60c960 0,#60c960 309px,#59c764 0,#59c764 310.5px,#4fc369 315.5px,#45bf6f 321.5px,#44be70 324.5px,#39b976 333.5px,#35b778 338.5px,#28ae7f 356.5px,#20a585 364.5px,#20a585 366px,#1e9d88 0,#1e9d88 370px)"></i>
<i class=a style="background:linear-gradient(#1e978a 0,#1e978a 1px,#1e998a 3.5px,#1e988a 63.5px,#1f938b 86.5px,#218c8d 95.5px,#23898d 98px,#22898d 100.5px,#1f948b 109.5px,#1e9b89 123.5px,#1fa386 146.5px,#23a883 166.5px,#2bb17d 195.5px,#35b778 215.5px,#3dbb74 227px,#47c06e 238.5px,#51c468 247.5px,#60c960 255.5px,#60c960 257px,#67cc5c 0,#67cc5c 258.5px,#6dce58 261.5px,#6dce58 263px,#77d052 0,#77d052 266px,#81d34c 0,#81d34c 269px,#8dd644 0,#8dd644 271px,#a2da37 0,#a2da37 274px,#bfdf24 0,#bfdf24 277px,#e4e318 0,#e4e318 280px,#f8e621 0,#f8e621 281.5px,#f3e51e 284.5px,#f3e51e 286px,#cfe11c 0,#cfe11c 289px,#addc30 0,#addc30 292px,#97d83e 0,#97d83e 294px,#88d547 0,#88d547 297px,#7cd24f 0,#7cd24f 300px,#74d054 0,#74d054 303px,#6dce58 0,#6dce58 304.5px,#67cc5c 307.5px,#67cc5c 309px,#60c960 0,#60c960 310.5px,#57c665 315.5px,#4fc369 324.5px,#49c16d 330.5px,#40bd72 341.5px,#3dbb74 350.5px,#39b976 361.5px,#39b976 364.5px,#35b778 368px,#35b778 370px)"></i>
<i class=a style="background:linear-gradient(#1e998a 0,#1e998a 1px,#1e9b89 3.5px,#1fa187 49.5px,#21a685 83.5px,#24aa82 120.5px,#2cb17d 166.5px,#2fb37b 175.5px,#30b47a 181.5px,#32b57a 186.5px,#39b976 204.5px,#42be71 221.5px,#45bf6f 227px,#49c16d 229.5px,#4dc26b 235.5px,#5bc862 247.5px,#69cc5b 255.5px,#69cc5b 257px,#70ce56 0,#70ce56 260px,#77d052 0,#77d052 263px,#81d34c 0,#81d34c 266px,#8dd644 0,#8dd644 269px,#9dd93a 0,#9dd93a 271px,#b2dd2c 0,#b2dd2c 274px,#d4e11a 0,#d4e11a 277px,#f3e51e 0,#f3e51e 278.5px,#f8e621 281.5px,#f8e621 283px,#e1e318 0,#e1e318 286px,#bdde26 0,#bdde26 289px,#a2da37 0,#a2da37 292px,#90d643 0,#90d643 294px,#83d34b 0,#83d34b 297px,#79d151 0,#79d151 300px,#70ce56 0,#70ce56 303px,#69cc5b 0,#69cc5b 304.5px,#60c960 310.5px,#60c960 312px,#59c764 0,#59c764 313px,#55c666 315.5px,#4fc369 321.5px,#49c16d 327.5px,#3ebc73 341.5px,#38b976 359px,#36b877 364.5px,#33b679 368px,#33b679 370px)"></i>
<i class=b style="background:linear-gradient(#1e9f88 0,#1e9f88 1px,#1fa286 3.5px,#1fa386 69.5px,#22a784 132.5px,#24aa82 163.5px,#27ad80 186.5px,#2cb17d 212.5px,#33b679 229.5px,#39b976 238.5px,#45bf6f 247.5px,#4fc369 252.5px,#4fc369 254px,#57c665 0,#57c665 257px,#60c960 0,#60c960 260px,#6bcd59 0,#6bcd59 263px,#77d052 0,#77d052 266px,#88d547 0,#88d547 269px,#9fd938 0,#9fd938 271px,#c5df21 0,#c5df21 274px,#ece41a 0,#ece41a 277px,#f8e621 0,#f8e621 280px,#eee51b 0,#eee51b 283px,#c5df21 0,#c5df21 286px,#a2da37 0,#a2da37 289px,#8bd546 0,#8bd546 292px,#79d151 0,#79d151 294px,#6bcd59 0,#6bcd59 297px,#62ca5f 0,#62ca5f 300px,#5bc862 0,#5bc862 301.5px,#4fc369 307.5px,#40bd72 318.5px,#3dbb74 324.5px,#39b976 327.5px,#33b679 338.5px,#2fb37b 344.5px,#27ad80 359px,#23a982 364.5px,#21a685 368px,#21a685 370px)"></i>
<i class=a style="background:linear-gradient(#24848d 0,#24848d 1px,#23888d 3.5px,#1f938b 20.5px,#1e998a 43.5px,#1e9a89 52px,#1fa386 98px,#22a784 123.5px,#25ab81 143.5px,#2ab07e 166.5px,#30b47a 186.5px,#35b778 195.5px,#38b976 204.5px,#40bd72 218.5px,#44be70 221.5px,#49c16d 229.5px,#57c665 241.5px,#64cb5d 250px,#64cb5d 251px,#6bcd59 0,#6bcd59 254px,#72cf55 0,#72cf55 257px,#79d151 0,#79d151 260px,#83d34b 0,#83d34b 263px,#90d643 0,#90d643 266px,#a2da37 0,#a2da37 269px,#bdde26 0,#bdde26 271px,#dfe318 0,#dfe318 274px,#f8e621 0,#f8e621 275.5px,#f6e61f 278.5px,#f6e61f 280px,#d7e219 0,#d7e219 283px,#b5dd2b 0,#b5dd2b 286px,#9dd93a 0,#9dd93a 289px,#8dd644 0,#8dd644 292px,#83d34b 0,#83d34b 294px,#79d151 0,#79d151 297px,#72cf55 0,#72cf55 300px,#6bcd59 0,#6bcd59 303px,#64cb5d 0,#64cb5d 304.5px,#57c665 313px,#4fc369 321.5px,#49c16d 327.5px,#3bba75 350.5px,#38b976 364.5px,#35b778 368px,#35b778 370px)"></i>
<i class=b style="background:linear-gradient(#1e9e88 0,#1e9e88 1px,#1fa187 3.5px,#1fa286 37.5px,#22a784 86.5px,#24aa82 115.5px,#2bb17d 158.5px,#2fb37b 172.5px,#33b679 186.5px,#39b976 204.5px,#45bf6f 224.5px,#4bc26c 229.5px,#51c468 235.5px,#5bc862 244.5px,#60c960 247.5px,#60c960 249px,#67cc5c 0,#67cc5c 250px,#6dce58 252.5px,#6dce58 254px,#74d054 0,#74d054 257px,#7cd24f 0,#7cd24f 260px,#88d547 0,#88d547 263px,#97d83e 0,#97d83e 266px,#afdc2e 0,#afdc2e 269px,#cfe11c 0,#cfe11c 271px,#f3e51e 0,#f3e51e 272.5px,#f8e621 275.5px,#f8e621 277px,#e7e419 0,#e7e419 280px,#bfdf24 0,#bfdf24 283px,#a2da37 0,#a2da37 286px,#90d643 0,#90d643 289px,#81d34c 0,#81d34c 292px,#77d052 0,#77d052 294px,#6dce58 0,#6dce58 295.5px,#67cc5c 298.5px,#67cc5c 300px,#60c960 0,#60c960 301.5px,#51c468 310.5px,#4bc26c 315.5px,#44be70 321.5px,#3bba75 333.5px,#30b47a 350.5px,#2eb27c 361.5px,#2ab07e 368px,#2ab07e 370px)"></i>
<i class=a style="background:linear-gradient(#1e9d88 0,#1e9d88 1px,#1e9f88 3.5px,#1fa286 89.5px,#21a784 172.5px,#23a883 192.5px,#27ad80 207px,#33b679 224.5px,#40bd72 235.5px,#4fc369 244.5px,#5bc862 250px,#5bc862 251px,#64cb5d 0,#64cb5d 254px,#6dce58 0,#6dce58 257px,#79d151 0,#79d151 260px,#8bd546 0,#8bd546 263px,#a2da37 0,#a2da37 266px,#c2df22 0,#c2df22 269px,#e9e419 0,#e9e419 271px,#f8e621 0,#f8e621 274px,#eee51b 0,#eee51b 277px,#cae01e 0,#cae01e 280px,#a7db33 0,#a7db33 283px,#90d643 0,#90d643 286px,#7ed24e 0,#7ed24e 289px,#72cf55 0,#72cf55 292px,#69cc5b 0,#69cc5b 294px,#62ca5f 0,#62ca5f 297px,#5bc862 0,#5bc862 298.5px,#4bc26c 310.5px,#45bf6f 315.5px,#35b778 344.5px,#32b57a 356.5px,#30b47a 364.5px,#2cb17d 368px,#2cb17d 370px)"></i>
<i class=a style="background:linear-gradient(#1f968b 0,#1f968b 1px,#1e988a 3.5px,#1e9a89 34.5px,#1fa187 75px,#21a784 106.5px,#26ac81 138.5px,#2cb17d 166.5px,#36b877 192.5px,#45bf6f 218.5px,#4bc26c 224.5px,#57c665 235.5px,#60c960 241.5px,#60c960 243px,#67cc5c 0,#67cc5c 244.5px,#6bcd59 247.5px,#6bcd59 249px,#72cf55 0,#72cf55 251px,#79d151 0,#79d151 254px,#86d449 0,#86d449 257px,#92d741 0,#92d741 260px,#a2da37 0,#a2da37 263px,#bdde26 0,#bdde26 266px,#dfe318 0,#dfe318 269px,#f6e61f 0,#f6e61f 274px,#d7e219 0,#d7e219 277px,#b7dd29 0,#b7dd29 280px,#9fd938 0,#9fd938 283px,#90d643 0,#90d643 286px,#83d34b 0,#83d34b 289px,#79d151 0,#79d151 292px,#72cf55 0,#72cf55 294px,#6bcd59 0,#6bcd59 295.5px,#67cc5c 298.5px,#67cc5c 300px,#60c960 0,#60c960 301.5px,#57c665 307.5px,#55c666 310.5px,#4bc26c 318.5px,#45bf6f 324.5px,#3ebc73 336px,#39b976 341.5px,#32b57a 353.5px,#26ac81 364.5px,#23a883 368px,#23a883 370px)"></i>
<i class=b style="background:linear-gradient(#1ea087 0,#1ea087 1px,#1fa386 3.5px,#20a585 54.5px,#22a784 83.5px,#26ac81 123.5px,#29af7f 141px,#2cb17d 158.5px,#2eb27c 163.5px,#33b679 181.5px,#35b778 186.5px,#3bba75 201.5px,#4dc26b 227px,#55c666 232.5px,#5bc862 238.5px,#5bc862 240px,#62ca5f 0,#62ca5f 241.5px,#6dce58 247.5px,#6dce58 249px,#74d054 0,#74d054 251px,#7ed24e 0,#7ed24e 254px,#88d547 0,#88d547 257px,#97d83e 0,#97d83e 260px,#afdc2e 0,#afdc2e 263px,#cfe11c 0,#cfe11c 266px,#f3e51e 0,#f3e51e 267.5px,#f8e621 270px,#f8e621 271px,#e7e419 0,#e7e419 274px,#bfdf24 0,#bfdf24 277px,#a2da37 0,#a2da37 280px,#90d643 0,#90d643 283px,#81d34c 0,#81d34c 286px,#77d052 0,#77d052 289px,#6dce58 0,#6dce58 290.5px,#67cc5c 293px,#67cc5c 294px,#60c960 0,#60c960 295.5px,#51c468 304.5px,#4bc26c 310.5px,#44be70 315.5px,#36b877 333.5px,#2fb37b 344.5px,#28ae7f 356.5px,#23a883 361.5px,#20a485 364.5px,#20a485 366px,#1f958b 0,#1f958b 370px)"></i>
<i class=a style="background:linear-gradient(#20918c 0,#20918c 1px,#1f948b 3.5px,#1e9b89 26.5px,#1fa286 69.5px,#22a784 120.5px,#25ab81 166.5px,#2ab07e 201.5px,#2fb37b 215.5px,#36b877 224.5px,#42be71 232.5px,#45bf6f 235.5px,#51c468 241.5px,#51c468 243px,#59c764 0,#59c764 246px,#62ca5f 0,#62ca5f 249px,#6dce58 0,#6dce58 251px,#79d151 0,#79d151 254px,#8bd546 0,#8bd546 257px,#a2da37 0,#a2da37 260px,#c5df21 0,#c5df21 263px,#ece41a 0,#ece41a 266px,#f8e621 0,#f8e621 269px,#eee51b 0,#eee51b 271px,#c7e01f 0,#c7e01f 274px,#a5da35 0,#a5da35 277px,#8dd644 0,#8dd644 280px,#7cd24f 0,#7cd24f 283px,#70ce56 0,#70ce56 286px,#67cc5c 0,#67cc5c 289px,#60c960 0,#60c960 292px,#59c764 0,#59c764 293px,#53c567 295.5px,#4bc26c 301.5px,#45bf6f 307.5px,#44be70 310.5px,#3ebc73 315.5px,#35b778 338.5px,#32b57a 356.5px,#32b57a 364.5px,#2eb27c 368px,#2eb27c 370px)"></i>
<i class=b style="background:linear-gradient(#24868d 0,#24868d 1px,#23888d 3.5px,#228b8d 20.5px,#1f948b 40.5px,#1e998a 54.5px,#1fa386 98px,#22a784 120.5px,#27ad80 146.5px,#2cb17d 166.5px,#33b679 184px,#36b877 189.5px,#39b976 198.5px,#42be71 209.5px,#45bf6f 215.5px,#4fc369 224.5px,#59c764 232.5px,#59c764 234px,#60c960 0,#60c960 235.5px,#64cb5d 238.5px,#64cb5d 240px,#6bcd59 0,#6bcd59 243px,#72cf55 0,#72cf55 246px,#79d151 0,#79d151 249px,#83d34b 0,#83d34b 251px,#92d741 0,#92d741 254px,#a5da35 0,#a5da35 257px,#bfdf24 0,#bfdf24 260px,#e1e318 0,#e1e318 263px,#f8e621 0,#f8e621 264.5px,#f3e51e 267.5px,#f3e51e 269px,#d4e11a 0,#d4e11a 271px,#b5dd2b 0,#b5dd2b 274px,#9dd93a 0,#9dd93a 277px,#8dd644 0,#8dd644 280px,#81d34c 0,#81d34c 283px,#77d052 0,#77d052 286px,#70ce56 0,#70ce56 289px,#69cc5b 0,#69cc5b 290.5px,#57c665 301.5px,#45bf6f 318.5px,#33b679 350.5px,#32b57a 356.5px,#2fb37b 361.5px,#2fb37b 364.5px,#2bb17d 368px,#2bb17d 370px)"></i>
<i class=a style="background:linear-gradient(#1e9f88 0,#1e9f88 1px,#1fa286 3.5px,#1fa386 37.5px,#22a784 77.5px,#24aa82 103.5px,#2cb17d 149.5px,#2fb37b 158.5px,#36b877 181.5px,#3bba75 189.5px,#3ebc73 198.5px,#44be70 207px,#4bc26c 215.5px,#53c567 224.5px,#64cb5d 235.5px,#64cb5d 237px,#6bcd59 0,#6bcd59 238.5px,#70ce56 241.5px,#70ce56 243px,#79d151 0,#79d151 246px,#83d34b 0,#83d34b 249px,#8dd644 0,#8dd644 251px,#9fd938 0,#9fd938 254px,#b5dd2b 0,#b5dd2b 257px,#d7e219 0,#d7e219 260px,#f3e51e 0,#f3e51e 261.5px,#f8e621 264.5px,#f8e621 266px,#e1e318 0,#e1e318 269px,#bfdf24 0,#bfdf24 271px,#a5da35 0,#a5da35 274px,#92d741 0,#92d741 277px,#83d34b 0,#83d34b 280px,#79d151 0,#79d151 283px,#72cf55 0,#72cf55 286px,#6bcd59 0,#6bcd59 289px,#64cb5d 0,#64cb5d 290.5px,#57c665 298.5px,#4fc369 304.5px,#44be70 315.5px,#3dbb74 327.5px,#39b976 330.5px,#2cb17d 356.5px,#2ab07e 361.5px,#26ac81 368px,#26ac81 370px)"></i>
<i class=a style="background:linear-gradient(#1e998a 0,#1e998a 1px,#1e9c89 3.5px,#1fa386 52px,#21a784 80.5px,#23a982 98px,#27ad80 132.5px,#2cb17d 158.5px,#30b47a 175.5px,#33b679 184px,#36b877 189.5px,#39b976 198.5px,#49c16d 221.5px,#51c468 227px,#53c567 229.5px,#64cb5d 238.5px,#64cb5d 240px,#6bcd59 0,#6bcd59 243px,#74d054 0,#74d054 246px,#81d34c 0,#81d34c 249px,#92d741 0,#92d741 251px,#aadb32 0,#aadb32 254px,#cae01e 0,#cae01e 257px,#eee51b 0,#eee51b 260px,#f8e621 0,#f8e621 263px,#e9e419 0,#e9e419 266px,#c5df21 0,#c5df21 269px,#a5da35 0,#a5da35 271px,#8dd644 0,#8dd644 274px,#7cd24f 0,#7cd24f 277px,#70ce56 0,#70ce56 280px,#67cc5c 0,#67cc5c 283px,#5ec961 0,#5ec961 286px,#55c666 0,#55c666 287.5px,#51c468 290.5px,#45bf6f 295.5px,#32b57a 313px,#2fb37b 315.5px,#28ae7f 327.5px,#24aa82 341.5px,#24aa82 364.5px,#22a784 368px,#22a784 370px)"></i>
<i class=b style="background:linear-gradient(#1e9e88 0,#1e9e88 1px,#1fa187 3.5px,#1ea087 123.5px,#1e9d88 146.5px,#1fa386 161px,#29af7f 186.5px,#36b877 207px,#40bd72 215.5px,#45bf6f 221.5px,#59c764 232.5px,#59c764 234px,#60c960 0,#60c960 237px,#69cc5b 0,#69cc5b 240px,#72cf55 0,#72cf55 243px,#7ed24e 0,#7ed24e 246px,#8dd644 0,#8dd644 249px,#a5da35 0,#a5da35 251px,#c5df21 0,#c5df21 254px,#e9e419 0,#e9e419 257px,#f8e621 0,#f8e621 260px,#f1e51c 0,#f1e51c 263px,#cde01d 0,#cde01d 266px,#aadb32 0,#aadb32 269px,#92d741 0,#92d741 271px,#83d34b 0,#83d34b 274px,#77d052 0,#77d052 277px,#6dce58 0,#6dce58 278.5px,#67cc5c 281.5px,#67cc5c 283px,#60c960 0,#60c960 284.5px,#4bc26c 298.5px,#3ebc73 315.5px,#2eb27c 347.5px,#2ab07e 353.5px,#26ac81 364.5px,#23a982 368px,#23a982 370px)"></i>
<i class=a style="background:linear-gradient(#23898d 0,#23898d 1px,#218c8d 3.5px,#1f958b 17.5px,#1e998a 32px,#1fa386 80.5px,#22a784 106.5px,#24aa82 120.5px,#2cb17d 155.5px,#2cb17d 158.5px,#32b57a 169.5px,#36b877 181.5px,#42be71 201.5px,#53c567 218.5px,#5bc862 224.5px,#64cb5d 229.5px,#64cb5d 231px,#6bcd59 0,#6bcd59 234px,#72cf55 0,#72cf55 237px,#79d151 0,#79d151 240px,#86d449 0,#86d449 243px,#92d741 0,#92d741 246px,#a5da35 0,#a5da35 249px,#bfdf24 0,#bfdf24 251px,#e1e318 0,#e1e318 254px,#f8e621 0,#f8e621 255.5px,#f3e51e 258.5px,#f3e51e 260px,#d7e219 0,#d7e219 263px,#b7dd29 0,#b7dd29 266px,#9fd938 0,#9fd938 269px,#90d643 0,#90d643 271px,#83d34b 0,#83d34b 274px,#79d151 0,#79d151 277px,#72cf55 0,#72cf55 280px,#6bcd59 0,#6bcd59 283px,#64cb5d 0,#64cb5d 284.5px,#57c665 293px,#4fc369 301.5px,#49c16d 307.5px,#39b976 333.5px,#35b778 347.5px,#33b679 359px,#33b679 364.5px,#2fb37b 368px,#2fb37b 370px)"></i>
<i class=b style="background:linear-gradient(#1e9b89 0,#1e9b89 1px,#1e9d88 3.5px,#1fa386 46.5px,#21a784 72.5px,#23a982 86.5px,#27ad80 115.5px,#2cb17d 141px,#33b679 163.5px,#3bba75 181.5px,#3dbb74 186.5px,#49c16d 204.5px,#55c666 215.5px,#5bc862 221.5px,#64cb5d 227px,#64cb5d 228px,#6bcd59 0,#6bcd59 231px,#72cf55 0,#72cf55 234px,#79d151 0,#79d151 237px,#83d34b 0,#83d34b 240px,#90d643 0,#90d643 243px,#9fd938 0,#9fd938 246px,#b7dd29 0,#b7dd29 249px,#d7e219 0,#d7e219 251px,#f6e61f 0,#f6e61f 252.5px,#f8e621 255.5px,#f8e621 257px,#e1e318 0,#e1e318 260px,#bfdf24 0,#bfdf24 263px,#a5da35 0,#a5da35 266px,#92d741 0,#92d741 269px,#86d449 0,#86d449 271px,#7cd24f 0,#7cd24f 274px,#72cf55 0,#72cf55 277px,#6bcd59 0,#6bcd59 280px,#64cb5d 0,#64cb5d 281.5px,#53c567 293px,#4dc26b 298.5px,#45bf6f 307.5px,#42be71 313px,#3ebc73 315.5px,#32b57a 344.5px,#2fb37b 361.5px,#2fb37b 364.5px,#2bb17d 368px,#2bb17d 370px)"></i>
<i class=a style="background:linear-gradient(#1fa286 0,#1fa286 1px,#20a585 3.5px,#21a685 43.5px,#23a883 75px,#24aa82 92.5px,#2ab07e 135.5px,#2fb37b 152.5px,#30b47a 158.5px,#32b57a 163.5px,#39b976 181.5px,#3bba75 186.5px,#47c06e 204.5px,#4bc26c 209.5px,#59c764 221.5px,#64cb5d 227px,#64cb5d 228px,#6bcd59 0,#6bcd59 231px,#72cf55 0,#72cf55 234px,#7cd24f 0,#7cd24f 237px,#86d449 0,#86d449 240px,#97d83e 0,#97d83e 243px,#afdc2e 0,#afdc2e 246px,#cfe11c 0,#cfe11c 249px,#f1e51c 0,#f1e51c 251px,#f8e621 0,#f8e621 254px,#e7e419 0,#e7e419 257px,#c5df21 0,#c5df21 260px,#a5da35 0,#a5da35 263px,#90d643 0,#90d643 266px,#81d34c 0,#81d34c 269px,#74d054 0,#74d054 271px,#6bcd59 0,#6bcd59 274px,#64cb5d 0,#64cb5d 275.5px,#5ec961 278.5px,#5ec961 280px,#57c665 0,#57c665 281.5px,#47c06e 293px,#40bd72 298.5px,#38b976 310.5px,#33b679 315.5px,#2ab07e 333.5px,#21a784 361.5px,#21a784 364.5px,#20a485 368px,#20a485 370px)"></i>
<i class=a style="background:linear-gradient(#1e9f88 0,#1e9f88 1px,#1fa286 3.5px,#20a485 52px,#22a784 89.5px,#24aa82 120.5px,#29af7f 152.5px,#2cb17d 169.5px,#2fb37b 178.5px,#30b47a 184px,#3dbb74 207px,#45bf6f 215.5px,#55c666 224.5px,#5bc862 227px,#5bc862 228px,#64cb5d 0,#64cb5d 231px,#70ce56 0,#70ce56 234px,#7ed24e 0,#7ed24e 237px,#90d643 0,#90d643 240px,#a7db33 0,#a7db33 243px,#cae01e 0,#cae01e 246px,#ece41a 0,#ece41a 249px,#f8e621 0,#f8e621 251px,#eee51b 0,#eee51b 254px,#cae01e 0,#cae01e 257px,#a7db33 0,#a7db33 260px,#90d643 0,#90d643 263px,#7cd24f 0,#7cd24f 266px,#70ce56 0,#70ce56 269px,#64cb5d 0,#64cb5d 271px,#5bc862 0,#5bc862 272.5px,#4fc369 278.5px,#45bf6f 284.5px,#39b976 298.5px,#32b57a 313px,#2eb27c 327.5px,#2bb17d 341.5px,#29af7f 364.5px,#27ad80 368px,#27ad80 370px)"></i>
<i class=b style="background:linear-gradient(#1e9e88 0,#1e9e88 1px,#1ea087 3.5px,#1e9f88 83.5px,#1e9b89 118px,#20a585 141px,#22a784 149.5px,#25ab81 158.5px,#2bb17d 172.5px,#30b47a 181.5px,#42be71 204.5px,#51c468 215.5px,#5bc862 221.5px,#5bc862 223px,#64cb5d 0,#64cb5d 226px,#6bcd59 0,#6bcd59 228px,#74d054 0,#74d054 231px,#81d34c 0,#81d34c 234px,#90d643 0,#90d643 237px,#a7db33 0,#a7db33 240px,#c5df21 0,#c5df21 243px,#e9e419 0,#e9e419 246px,#f8e621 0,#f8e621 249px,#f1e51c 0,#f1e51c 251px,#cfe11c 0,#cfe11c 254px,#afdc2e 0,#afdc2e 257px,#97d83e 0,#97d83e 260px,#86d449 0,#86d449 263px,#79d151 0,#79d151 266px,#70ce56 0,#70ce56 269px,#69cc5b 0,#69cc5b 271px,#62ca5f 0,#62ca5f 272.5px,#4dc26b 287.5px,#49c16d 293px,#45bf6f 295.5px,#33b679 327.5px,#32b57a 333.5px,#2eb27c 341.5px,#2ab07e 356.5px,#29af7f 364.5px,#26ac81 368px,#26ac81 370px)"></i>
<i class=a style="background:linear-gradient(#228b8d 0,#228b8d 1px,#208f8c 3.5px,#1e998a 29.5px,#1e9e88 54.5px,#20a585 89.5px,#25ab81 120.5px,#2ab07e 141px,#30b47a 161px,#3ebc73 186.5px,#44be70 192.5px,#45bf6f 195.5px,#51c468 207px,#5ec961 215.5px,#64cb5d 218.5px,#64cb5d 220px,#6bcd59 0,#6bcd59 223px,#72cf55 0,#72cf55 226px,#79d151 0,#79d151 228px,#86d449 0,#86d449 231px,#92d741 0,#92d741 234px,#a7db33 0,#a7db33 237px,#c2df22 0,#c2df22 240px,#e4e318 0,#e4e318 243px,#f8e621 0,#f8e621 244.5px,#f3e51e 247.5px,#f3e51e 249px,#d7e219 0,#d7e219 251px,#b7dd29 0,#b7dd29 254px,#9fd938 0,#9fd938 257px,#8dd644 0,#8dd644 260px,#81d34c 0,#81d34c 263px,#77d052 0,#77d052 266px,#70ce56 0,#70ce56 269px,#69cc5b 0,#69cc5b 270px,#5bc862 278.5px,#53c567 284.5px,#44be70 301.5px,#3ebc73 310.5px,#3bba75 318.5px,#35b778 336px,#32b57a 350.5px,#30b47a 361.5px,#2eb27c 368px,#2eb27c 370px)"></i>
<i class=a style="background:linear-gradient(#228b8d 0,#228b8d 1px,#1f948b 6.5px,#1e998a 14.5px,#1fa286 43.5px,#22a784 75px,#25ab81 100.5px,#2cb17d 132.5px,#30b47a 146.5px,#35b778 158.5px,#39b976 169.5px,#44be70 186.5px,#4bc26c 195.5px,#55c666 204.5px,#5bc862 209.5px,#5bc862 211px,#62ca5f 0,#62ca5f 212.5px,#6bcd59 218.5px,#6bcd59 220px,#72cf55 0,#72cf55 223px,#7cd24f 0,#7cd24f 226px,#86d449 0,#86d449 228px,#92d741 0,#92d741 231px,#a5da35 0,#a5da35 234px,#bdde26 0,#bdde26 237px,#dfe318 0,#dfe318 240px,#f6e61f 0,#f6e61f 246px,#dce218 0,#dce218 249px,#bdde26 0,#bdde26 251px,#a2da37 0,#a2da37 254px,#92d741 0,#92d741 257px,#86d449 0,#86d449 260px,#7cd24f 0,#7cd24f 263px,#72cf55 0,#72cf55 266px,#6bcd59 0,#6bcd59 267.5px,#62ca5f 272.5px,#62ca5f 274px,#5bc862 0,#5bc862 275.5px,#55c666 281.5px,#47c06e 295.5px,#38b976 321.5px,#35b778 333.5px,#33b679 338.5px,#30b47a 350.5px,#2fb37b 364.5px,#2cb17d 368px,#2cb17d 370px)"></i>
<i class=b style="background:linear-gradient(#1f928c 0,#1f928c 1px,#1f968b 3.5px,#1e9e88 20.5px,#21a784 57.5px,#23a883 72.5px,#2cb17d 126.5px,#2fb37b 135.5px,#30b47a 141px,#32b57a 143.5px,#36b877 158.5px,#3dbb74 169.5px,#40bd72 178.5px,#4bc26c 192.5px,#55c666 201.5px,#57c665 204.5px,#60c960 209.5px,#60c960 211px,#67cc5c 0,#67cc5c 212.5px,#6bcd59 215.5px,#6bcd59 217px,#72cf55 0,#72cf55 220px,#79d151 0,#79d151 223px,#83d34b 0,#83d34b 226px,#90d643 0,#90d643 228px,#a2da37 0,#a2da37 231px,#bade27 0,#bade27 234px,#dae218 0,#dae218 237px,#f6e61f 0,#f6e61f 238.5px,#f8e621 241.5px,#f8e621 243px,#e1e318 0,#e1e318 246px,#c2df22 0,#c2df22 249px,#a5da35 0,#a5da35 251px,#92d741 0,#92d741 254px,#86d449 0,#86d449 257px,#7cd24f 0,#7cd24f 260px,#72cf55 0,#72cf55 263px,#6bcd59 0,#6bcd59 266px,#64cb5d 0,#64cb5d 267.5px,#57c665 275.5px,#45bf6f 293px,#42be71 298.5px,#3ebc73 301.5px,#38b976 313px,#35b778 321.5px,#2fb37b 338.5px,#2eb27c 347.5px,#2cb17d 353.5px,#2bb17d 364.5px,#29af7f 368px,#29af7f 370px)"></i>
<i class=a style="background:linear-gradient(#1ea087 0,#1ea087 1px,#1fa386 3.5px,#20a485 26.5px,#22a784 54.5px,#24aa82 77.5px,#2cb17d 123.5px,#30b47a 141px,#33b679 146.5px,#36b877 155.5px,#40bd72 175.5px,#49c16d 189.5px,#59c764 204.5px,#62ca5f 209.5px,#62ca5f 211px,#69cc5b 0,#69cc5b 214px,#70ce56 0,#70ce56 217px,#77d052 0,#77d052 220px,#81d34c 0,#81d34c 223px,#8dd644 0,#8dd644 226px,#9dd93a 0,#9dd93a 228px,#b5dd2b 0,#b5dd2b 231px,#d4e11a 0,#d4e11a 234px,#f3e51e 0,#f3e51e 235.5px,#f8e621 238.5px,#f8e621 240px,#e4e318 0,#e4e318 243px,#c5df21 0,#c5df21 246px,#a7db33 0,#a7db33 249px,#92d741 0,#92d741 251px,#83d34b 0,#83d34b 254px,#79d151 0,#79d151 257px,#70ce56 0,#70ce56 260px,#69cc5b 0,#69cc5b 263px,#62ca5f 0,#62ca5f 264.5px,#5ec961 267.5px,#5ec961 269px,#57c665 0,#57c665 270px,#53c567 272.5px,#4dc26b 278.5px,#44be70 287.5px,#42be71 290.5px,#3ebc73 293px,#2fb37b 321.5px,#29af7f 338.5px,#26ac81 359px,#23a982 368px,#23a982 370px)"></i>
<i class=b style="background:linear-gradient(#20a585 0,#20a585 1px,#21a784 3.5px,#23a883 52px,#25ab81 80.5px,#2ab07e 115.5px,#2cb17d 126.5px,#2fb37b 135.5px,#30b47a 141px,#32b57a 143.5px,#36b877 158.5px,#39b976 163.5px,#3bba75 169.5px,#42be71 181.5px,#4bc26c 192.5px,#53c567 198.5px,#59c764 204.5px,#64cb5d 209.5px,#64cb5d 211px,#6bcd59 0,#6bcd59 214px,#72cf55 0,#72cf55 217px,#7cd24f 0,#7cd24f 220px,#88d547 0,#88d547 223px,#9ad83c 0,#9ad83c 226px,#b2dd2c 0,#b2dd2c 228px,#d2e11b 0,#d2e11b 231px,#f1e51c 0,#f1e51c 234px,#f8e621 0,#f8e621 237px,#e9e419 0,#e9e419 240px,#c7e01f 0,#c7e01f 243px,#a7db33 0,#a7db33 246px,#92d741 0,#92d741 249px,#83d34b 0,#83d34b 251px,#77d052 0,#77d052 254px,#6dce58 0,#6dce58 257px,#64cb5d 0,#64cb5d 258.5px,#5ec961 261.5px,#5ec961 263px,#57c665 0,#57c665 264.5px,#47c06e 275.5px,#3ebc73 284.5px,#3dbb74 287.5px,#39b976 290.5px,#30b47a 304.5px,#29af7f 318.5px,#21a784 344.5px,#1fa187 364.5px,#1e9e88 368px,#1e9e88 370px)"></i>
<i class=a style="background:linear-gradient(#1fa187 0,#1fa187 1px,#20a485 3.5px,#20a585 32px,#22a784 54.5px,#24aa82 80.5px,#2ab07e 120.5px,#2cb17d 132.5px,#30b47a 143.5px,#35b778 158.5px,#39b976 166.5px,#3bba75 172.5px,#3ebc73 178.5px,#44be70 184px,#47c06e 189.5px,#55c666 201.5px,#59c764 204.5px,#59c764 206px,#60c960 0,#60c960 208px,#67cc5c 0,#67cc5c 209.5px,#6dce58 212.5px,#6dce58 214px,#77d052 0,#77d052 217px,#86d449 0,#86d449 220px,#95d73f 0,#95d73f 223px,#afdc2e 0,#afdc2e 226px,#cfe11c 0,#cfe11c 228px,#f1e51c 0,#f1e51c 231px,#f8e621 0,#f8e621 234px,#e9e419 0,#e9e419 237px,#cae01e 0,#cae01e 240px,#aadb32 0,#aadb32 243px,#92d741 0,#92d741 246px,#81d34c 0,#81d34c 249px,#72cf55 0,#72cf55 251px,#69cc5b 0,#69cc5b 254px,#60c960 0,#60c960 257px,#59c764 0,#59c764 258.5px,#4dc26b 264.5px,#40bd72 272.5px,#32b57a 287.5px,#30b47a 290.5px,#29af7f 301.5px,#23a982 318.5px,#23a883 364.5px,#21a685 368px,#21a685 370px)"></i>
<i class=a style="background:linear-gradient(#1fa187 0,#1fa187 1px,#20a485 3.5px,#20a585 32px,#23a883 69.5px,#26ac81 100.5px,#29af7f 118px,#2cb17d 138.5px,#2fb37b 143.5px,#33b679 158.5px,#35b778 163.5px,#3ebc73 181.5px,#44be70 186.5px,#45bf6f 189.5px,#55c666 201.5px,#5bc862 204.5px,#5bc862 206px,#62ca5f 0,#62ca5f 208px,#6bcd59 0,#6bcd59 211px,#74d054 0,#74d054 214px,#83d34b 0,#83d34b 217px,#95d73f 0,#95d73f 220px,#addc30 0,#addc30 223px,#cfe11c 0,#cfe11c 226px,#eee51b 0,#eee51b 228px,#f8e621 0,#f8e621 231px,#ece41a 0,#ece41a 234px,#cae01e 0,#cae01e 237px,#aadb32 0,#aadb32 240px,#92d741 0,#92d741 243px,#81d34c 0,#81d34c 246px,#72cf55 0,#72cf55 249px,#67cc5c 0,#67cc5c 251px,#5ec961 0,#5ec961 254px,#57c665 0,#57c665 257px,#4fc369 0,#4fc369 258.5px,#40bd72 267.5px,#36b877 275.5px,#2cb17d 290.5px,#27ad80 307.5px,#24aa82 353.5px,#23a982 364.5px,#22a784 368px,#22a784 370px)"></i>
<i class=b style="background:linear-gradient(#20a485 0,#20a485 1px,#21a685 3.5px,#22a784 57.5px,#24aa82 86.5px,#27ad80 112.5px,#2cb17d 141px,#2eb27c 143.5px,#30b47a 155.5px,#3bba75 178.5px,#40bd72 184px,#44be70 186.5px,#45bf6f 189.5px,#4dc26b 195.5px,#59c764 201.5px,#59c764 203px,#60c960 0,#60c960 206px,#69cc5b 0,#69cc5b 208px,#74d054 0,#74d054 211px,#81d34c 0,#81d34c 214px,#92d741 0,#92d741 217px,#addc30 0,#addc30 220px,#cde01d 0,#cde01d 223px,#eee51b 0,#eee51b 226px,#f8e621 0,#f8e621 228px,#ece41a 0,#ece41a 231px,#cde01d 0,#cde01d 234px,#addc30 0,#addc30 237px,#92d741 0,#92d741 240px,#81d34c 0,#81d34c 243px,#72cf55 0,#72cf55 246px,#67cc5c 0,#67cc5c 249px,#5ec961 0,#5ec961 251px,#57c665 0,#57c665 252.5px,#45bf6f 261.5px,#3ebc73 267.5px,#3dbb74 270px,#39b976 272.5px,#32b57a 284.5px,#30b47a 290.5px,#2cb17d 298.5px,#2ab07e 310.5px,#24aa82 350.5px,#23a982 364.5px,#22a784 368px,#22a784 370px)"></i>
<i class=a style="background:linear-gradient(#1e9f88 0,#1e9f88 1px,#1fa286 3.5px,#1fa386 29.5px,#22a784 66.5px,#24aa82 95.5px,#2cb17d 143.5px,#30b47a 155.5px,#30b47a 158.5px,#3bba75 178.5px,#40bd72 184px,#47c06e 189.5px,#57c665 198.5px,#57c665 200px,#60c960 0,#60c960 203px,#69cc5b 0,#69cc5b 206px,#72cf55 0,#72cf55 208px,#81d34c 0,#81d34c 211px,#92d741 0,#92d741 214px,#addc30 0,#addc30 217px,#cde01d 0,#cde01d 220px,#eee51b 0,#eee51b 223px,#f8e621 0,#f8e621 226px,#eee51b 0,#eee51b 228px,#cde01d 0,#cde01d 231px,#addc30 0,#addc30 234px,#92d741 0,#92d741 237px,#81d34c 0,#81d34c 240px,#72cf55 0,#72cf55 243px,#69cc5b 0,#69cc5b 246px,#60c960 0,#60c960 249px,#57c665 0,#57c665 250px,#51c468 252.5px,#47c06e 258.5px,#39b976 272.5px,#30b47a 290.5px,#2eb27c 301.5px,#2bb17d 310.5px,#28ae7f 338.5px,#27ad80 364.5px,#24aa82 368px,#24aa82 370px)"></i>
<i class=b style="background:linear-gradient(#20a485 0,#20a485 1px,#21a685 3.5px,#22a784 54.5px,#24aa82 83.5px,#27ad80 112.5px,#2cb17d 141px,#2eb27c 143.5px,#30b47a 155.5px,#3bba75 175.5px,#40bd72 181.5px,#47c06e 186.5px,#57c665 195.5px,#57c665 197px,#60c960 0,#60c960 200px,#69cc5b 0,#69cc5b 203px,#74d054 0,#74d054 206px,#81d34c 0,#81d34c 208px,#95d73f 0,#95d73f 211px,#addc30 0,#addc30 214px,#cde01d 0,#cde01d 217px,#eee51b 0,#eee51b 220px,#f8e621 0,#f8e621 223px,#eee51b 0,#eee51b 226px,#cde01d 0,#cde01d 228px,#addc30 0,#addc30 231px,#95d73f 0,#95d73f 234px,#81d34c 0,#81d34c 237px,#74d054 0,#74d054 240px,#69cc5b 0,#69cc5b 243px,#60c960 0,#60c960 246px,#57c665 0,#57c665 247.5px,#4dc26b 252.5px,#44be70 258.5px,#3ebc73 264.5px,#3dbb74 267.5px,#39b976 270px,#30b47a 287.5px,#2eb27c 298.5px,#2ab07e 310.5px,#25ab81 338.5px,#23a982 364.5px,#21a784 368px,#21a784 370px)"></i>
<i class=a style="background:linear-gradient(#1e9f88 0,#1e9f88 1px,#1fa286 3.5px,#20a485 34.5px,#22a784 60.5px,#26ac81 100.5px,#2cb17d 132.5px,#2eb27c 138.5px,#35b778 158.5px,#3bba75 169.5px,#45bf6f 181.5px,#53c567 189.5px,#59c764 192.5px,#59c764 194px,#60c960 0,#60c960 197px,#69cc5b 0,#69cc5b 200px,#74d054 0,#74d054 203px,#83d34b 0,#83d34b 206px,#95d73f 0,#95d73f 208px,#afdc2e 0,#afdc2e 211px,#cfe11c 0,#cfe11c 214px,#eee51b 0,#eee51b 217px,#f8e621 0,#f8e621 220px,#ece41a 0,#ece41a 223px,#cde01d 0,#cde01d 226px,#addc30 0,#addc30 228px,#95d73f 0,#95d73f 231px,#81d34c 0,#81d34c 234px,#74d054 0,#74d054 237px,#69cc5b 0,#69cc5b 240px,#60c960 0,#60c960 243px,#57c665 0,#57c665 244.5px,#47c06e 252.5px,#3bba75 264.5px,#33b679 275.5px,#2cb17d 295.5px,#27ad80 338.5px,#26ac81 364.5px,#23a982 368px,#23a982 370px)"></i>
<i class=a style="background:linear-gradient(#21a685 0,#21a685 1px,#23a883 32px,#24aa82 66.5px,#2ab07e 112.5px,#2cb17d 123.5px,#30b47a 135.5px,#30b47a 138.5px,#35b778 146.5px,#39b976 158.5px,#3ebc73 166.5px,#44be70 172.5px,#45bf6f 175.5px,#55c666 186.5px,#5bc862 189.5px,#5bc862 191px,#62ca5f 0,#62ca5f 194px,#6bcd59 0,#6bcd59 197px,#77d052 0,#77d052 200px,#83d34b 0,#83d34b 203px,#97d83e 0,#97d83e 206px,#afdc2e 0,#afdc2e 208px,#cfe11c 0,#cfe11c 211px,#eee51b 0,#eee51b 214px,#f8e621 0,#f8e621 217px,#ece41a 0,#ece41a 220px,#cde01d 0,#cde01d 223px,#addc30 0,#addc30 226px,#95d73f 0,#95d73f 228px,#81d34c 0,#81d34c 231px,#74d054 0,#74d054 234px,#69cc5b 0,#69cc5b 237px,#60c960 0,#60c960 240px,#57c665 0,#57c665 241.5px,#42be71 252.5px,#33b679 267.5px,#2cb17d 278.5px,#25ab81 310.5px,#23a883 330.5px,#21a685 350.5px,#20a585 364.5px,#1fa386 368px,#1fa386 370px)"></i>
<i class=b style="background:linear-gradient(#218d8c 0,#218d8c 2px,#1f948b 0,#1f948b 3.5px,#1e998a 6.5px,#1fa286 23.5px,#21a784 46.5px,#23a982 60.5px,#27ad80 86.5px,#2cb17d 112.5px,#30b47a 123.5px,#35b778 138.5px,#38b976 143.5px,#3bba75 152.5px,#40bd72 161px,#44be70 163.5px,#47c06e 169.5px,#55c666 181.5px,#60c960 186.5px,#60c960 188px,#67cc5c 0,#67cc5c 191px,#70ce56 0,#70ce56 194px,#79d151 0,#79d151 197px,#86d449 0,#86d449 200px,#97d83e 0,#97d83e 203px,#b2dd2c 0,#b2dd2c 206px,#d2e11b 0,#d2e11b 208px,#f1e51c 0,#f1e51c 211px,#f8e621 0,#f8e621 214px,#ece41a 0,#ece41a 217px,#cde01d 0,#cde01d 220px,#addc30 0,#addc30 223px,#95d73f 0,#95d73f 226px,#83d34b 0,#83d34b 228px,#74d054 0,#74d054 231px,#6bcd59 0,#6bcd59 234px,#62ca5f 0,#62ca5f 237px,#59c764 0,#59c764 238.5px,#45bf6f 250px,#35b778 264.5px,#2bb17d 275.5px,#23a982 295.5px,#22a784 313px,#23a883 364.5px,#21a685 368px,#21a685 370px)"></i>
<i class=a style="background:linear-gradient(#21a784 0,#21a784 1px,#23a883 3.5px,#24aa82 43.5px,#2ab07e 89.5px,#2cb17d 100.5px,#2fb37b 109.5px,#30b47a 115.5px,#32b57a 120.5px,#39b976 138.5px,#42be71 155.5px,#59c764 178.5px,#59c764 180px,#60c960 0,#60c960 181.5px,#64cb5d 184px,#64cb5d 185px,#6bcd59 0,#6bcd59 188px,#74d054 0,#74d054 191px,#7ed24e 0,#7ed24e 194px,#8bd546 0,#8bd546 197px,#9dd93a 0,#9dd93a 200px,#b5dd2b 0,#b5dd2b 203px,#d4e11a 0,#d4e11a 206px,#f1e51c 0,#f1e51c 208px,#f8e621 0,#f8e621 211px,#e9e419 0,#e9e419 214px,#cae01e 0,#cae01e 217px,#addc30 0,#addc30 220px,#95d73f 0,#95d73f 223px,#86d449 0,#86d449 226px,#77d052 0,#77d052 228px,#6dce58 0,#6dce58 229.5px,#67cc5c 232.5px,#67cc5c 234px,#60c960 0,#60c960 237px,#59c764 0,#59c764 238.5px,#4fc369 244.5px,#44be70 252.5px,#3ebc73 258.5px,#3dbb74 261.5px,#39b976 264.5px,#38b976 267.5px,#33b679 272.5px,#2ab07e 290.5px,#21a784 318.5px,#1e9c89 344.5px,#1f948b 364.5px,#20918c 368px,#20918c 370px)"></i>
<i class=b style="background:linear-gradient(#22a784 0,#22a784 1px,#23a982 3.5px,#26ac81 52px,#2cb17d 89.5px,#30b47a 109.5px,#38b976 126.5px,#3bba75 135.5px,#49c16d 158.5px,#57c665 169.5px,#59c764 172.5px,#69cc5b 181.5px,#69cc5b 183px,#70ce56 0,#70ce56 185px,#77d052 0,#77d052 188px,#83d34b 0,#83d34b 191px,#90d643 0,#90d643 194px,#a2da37 0,#a2da37 197px,#bade27 0,#bade27 200px,#d7e219 0,#d7e219 203px,#f3e51e 0,#f3e51e 204.5px,#f8e621 207px,#f8e621 208px,#e7e419 0,#e7e419 211px,#c7e01f 0,#c7e01f 214px,#addc30 0,#addc30 217px,#95d73f 0,#95d73f 220px,#86d449 0,#86d449 223px,#7cd24f 0,#7cd24f 226px,#72cf55 0,#72cf55 228px,#69cc5b 0,#69cc5b 229.5px,#55c666 241.5px,#49c16d 250px,#44be70 255.5px,#3bba75 267.5px,#2bb17d 298.5px,#23a883 330.5px,#20a485 347.5px,#1e9d88 359px,#1e978a 364.5px,#1e978a 366px,#208f8c 0,#208f8c 370px)"></i>
<i class=a style="background:linear-gradient(#20a585 0,#20a585 1px,#21a784 3.5px,#23a883 29.5px,#25ab81 52px,#2cb17d 89.5px,#2eb27c 95.5px,#36b877 120.5px,#42be71 141px,#4bc26c 155.5px,#59c764 166.5px,#5bc862 169.5px,#5bc862 171px,#62ca5f 0,#62ca5f 172.5px,#6bcd59 178.5px,#6bcd59 180px,#72cf55 0,#72cf55 183px,#7cd24f 0,#7cd24f 185px,#86d449 0,#86d449 188px,#92d741 0,#92d741 191px,#a5da35 0,#a5da35 194px,#bfdf24 0,#bfdf24 197px,#dce218 0,#dce218 200px,#f6e61f 0,#f6e61f 206px,#e1e318 0,#e1e318 208px,#c5df21 0,#c5df21 211px,#aadb32 0,#aadb32 214px,#95d73f 0,#95d73f 217px,#88d547 0,#88d547 220px,#7cd24f 0,#7cd24f 223px,#74d054 0,#74d054 226px,#6dce58 0,#6dce58 227px,#67cc5c 229.5px,#67cc5c 231px,#60c960 0,#60c960 232.5px,#53c567 241.5px,#4bc26c 250px,#47c06e 252.5px,#3dbb74 267.5px,#38b976 275.5px,#35b778 284.5px,#30b47a 293px,#2cb17d 307.5px,#25ab81 336px,#21a685 368px,#21a685 370px)"></i>
<i class=a style="background:linear-gradient(#1fa286 0,#1fa286 1px,#20a585 3.5px,#21a685 23.5px,#24aa82 54.5px,#2ab07e 83.5px,#2cb17d 95.5px,#30b47a 103.5px,#33b679 112.5px,#40bd72 138.5px,#4bc26c 152.5px,#51c468 158.5px,#67cc5c 172.5px,#6dce58 175.5px,#6dce58 177px,#74d054 0,#74d054 180px,#7cd24f 0,#7cd24f 183px,#88d547 0,#88d547 185px,#95d73f 0,#95d73f 188px,#aadb32 0,#aadb32 191px,#c5df21 0,#c5df21 194px,#e1e318 0,#e1e318 197px,#f6e61f 0,#f6e61f 203px,#dfe318 0,#dfe318 206px,#bfdf24 0,#bfdf24 208px,#a7db33 0,#a7db33 211px,#95d73f 0,#95d73f 214px,#86d449 0,#86d449 217px,#7cd24f 0,#7cd24f 220px,#74d054 0,#74d054 223px,#6dce58 0,#6dce58 224.5px,#62ca5f 229.5px,#51c468 241.5px,#45bf6f 255.5px,#42be71 261.5px,#3ebc73 264.5px,#3dbb74 270px,#35b778 284.5px,#33b679 290.5px,#30b47a 295.5px,#2eb27c 307.5px,#2bb17d 315.5px,#28ae7f 333.5px,#25ab81 353.5px,#25ab81 364.5px,#23a883 368px,#23a883 370px)"></i>
<i class=b style="background:linear-gradient(#1e978a 0,#1e978a 1px,#1e998a 3.5px,#1e9d88 26.5px,#20a585 54.5px,#24aa82 77.5px,#2bb17d 103.5px,#3bba75 135.5px,#42be71 143.5px,#49c16d 152.5px,#5ec961 166.5px,#64cb5d 169.5px,#64cb5d 171px,#6bcd59 0,#6bcd59 174px,#72cf55 0,#72cf55 177px,#7cd24f 0,#7cd24f 180px,#88d547 0,#88d547 183px,#97d83e 0,#97d83e 185px,#addc30 0,#addc30 188px,#cae01e 0,#cae01e 191px,#e7e419 0,#e7e419 194px,#f8e621 0,#f8e621 195.5px,#f3e51e 198.5px,#f3e51e 200px,#dae218 0,#dae218 203px,#bade27 0,#bade27 206px,#a2da37 0,#a2da37 208px,#90d643 0,#90d643 211px,#83d34b 0,#83d34b 214px,#79d151 0,#79d151 217px,#70ce56 0,#70ce56 220px,#69cc5b 0,#69cc5b 221.5px,#64cb5d 224.5px,#59c764 229.5px,#47c06e 247.5px,#36b877 275.5px,#32b57a 290.5px,#2fb37b 295.5px,#2eb27c 304.5px,#29af7f 318.5px,#27ad80 330.5px,#23a883 356.5px,#22a784 364.5px,#20a585 368px,#20a585 370px)"></i>
<i class=a style="background:linear-gradient(#20a485 0,#20a485 1px,#21a685 3.5px,#22a784 80.5px,#24aa82 106.5px,#29af7f 123.5px,#30b47a 135.5px,#42be71 152.5px,#49c16d 158.5px,#5bc862 166.5px,#5bc862 168px,#62ca5f 0,#62ca5f 171px,#6bcd59 0,#6bcd59 174px,#77d052 0,#77d052 177px,#86d449 0,#86d449 180px,#97d83e 0,#97d83e 183px,#afdc2e 0,#afdc2e 185px,#cfe11c 0,#cfe11c 188px,#ece41a 0,#ece41a 191px,#f8e621 0,#f8e621 194px,#f1e51c 0,#f1e51c 197px,#d4e11a 0,#d4e11a 200px,#b5dd2b 0,#b5dd2b 203px,#9ad83c 0,#9ad83c 206px,#88d547 0,#88d547 208px,#79d151 0,#79d151 211px,#70ce56 0,#70ce56 214px,#67cc5c 0,#67cc5c 217px,#60c960 0,#60c960 220px,#59c764 0,#59c764 221.5px,#4dc26b 229.5px,#3ebc73 247.5px,#35b778 264.5px,#35b778 267.5px,#30b47a 275.5px,#2eb27c 287.5px,#2bb17d 295.5px,#24aa82 341.5px,#23a883 364.5px,#21a685 368px,#21a685 370px)"></i>
<i class=b style="background:linear-gradient(#20a585 0,#20a585 1px,#22a784 3.5px,#23a883 26.5px,#26ac81 54.5px,#29af7f 72.5px,#2cb17d 89.5px,#30b47a 100.5px,#35b778 115.5px,#38b976 120.5px,#3bba75 129.5px,#3ebc73 135.5px,#44be70 141px,#47c06e 146.5px,#5bc862 161px,#5bc862 162px,#62ca5f 0,#62ca5f 165px,#69cc5b 0,#69cc5b 168px,#70ce56 0,#70ce56 171px,#7cd24f 0,#7cd24f 174px,#88d547 0,#88d547 177px,#9dd93a 0,#9dd93a 180px,#b5dd2b 0,#b5dd2b 183px,#d4e11a 0,#d4e11a 185px,#f1e51c 0,#f1e51c 188px,#f8e621 0,#f8e621 191px,#ece41a 0,#ece41a 194px,#cfe11c 0,#cfe11c 197px,#afdc2e 0,#afdc2e 200px,#97d83e 0,#97d83e 203px,#86d449 0,#86d449 206px,#77d052 0,#77d052 208px,#6dce58 0,#6dce58 211px,#64cb5d 0,#64cb5d 214px,#5bc862 0,#5bc862 215.5px,#4fc369 221.5px,#3ebc73 232.5px,#33b679 244.5px,#32b57a 247.5px,#2bb17d 255.5px,#25ab81 270px,#23a883 284.5px,#21a784 341.5px,#21a784 364.5px,#20a485 368px,#20a485 370px)"></i>
<i class=a style="background:linear-gradient(#1e9e88 0,#1e9e88 1px,#1fa187 3.5px,#21a784 23.5px,#2bb17d 69.5px,#2cb17d 75px,#2eb27c 77.5px,#30b47a 89.5px,#35b778 98px,#39b976 109.5px,#40bd72 123.5px,#4dc26b 141px,#55c666 146.5px,#5bc862 152.5px,#64cb5d 158.5px,#64cb5d 160px,#6bcd59 0,#6bcd59 162px,#72cf55 0,#72cf55 165px,#7cd24f 0,#7cd24f 168px,#86d449 0,#86d449 171px,#92d741 0,#92d741 174px,#a5da35 0,#a5da35 177px,#bdde26 0,#bdde26 180px,#dce218 0,#dce218 183px,#f3e51e 0,#f3e51e 184px,#f8e621 186.5px,#f8e621 188px,#e4e318 0,#e4e318 191px,#c7e01f 0,#c7e01f 194px,#addc30 0,#addc30 197px,#97d83e 0,#97d83e 200px,#88d547 0,#88d547 203px,#7cd24f 0,#7cd24f 206px,#74d054 0,#74d054 208px,#6bcd59 0,#6bcd59 211px,#64cb5d 0,#64cb5d 212.5px,#4bc26c 229.5px,#3ebc73 247.5px,#39b976 252.5px,#33b679 264.5px,#32b57a 270px,#2cb17d 281.5px,#2ab07e 290.5px,#23a883 324.5px,#21a685 347.5px,#20a585 364.5px,#1fa286 368px,#1fa286 370px)"></i>
<i class=a style="background:linear-gradient(#1e998a 0,#1e998a 1px,#1e9c89 3.5px,#20a585 23.5px,#23a883 37.5px,#25ab81 52px,#2ab07e 72.5px,#32b57a 95.5px,#36b877 103.5px,#39b976 112.5px,#42be71 123.5px,#47c06e 132.5px,#4dc26b 138.5px,#55c666 143.5px,#5bc862 149.5px,#5bc862 151px,#62ca5f 0,#62ca5f 152.5px,#6dce58 158.5px,#6dce58 160px,#74d054 0,#74d054 162px,#7ed24e 0,#7ed24e 165px,#88d547 0,#88d547 168px,#97d83e 0,#97d83e 171px,#addc30 0,#addc30 174px,#c7e01f 0,#c7e01f 177px,#e4e318 0,#e4e318 180px,#f6e61f 0,#f6e61f 181.5px,#f3e51e 184px,#f3e51e 185px,#dce218 0,#dce218 188px,#bfdf24 0,#bfdf24 191px,#a7db33 0,#a7db33 194px,#95d73f 0,#95d73f 197px,#86d449 0,#86d449 200px,#7cd24f 0,#7cd24f 203px,#74d054 0,#74d054 206px,#6dce58 0,#6dce58 207px,#62ca5f 212.5px,#51c468 224.5px,#49c16d 232.5px,#36b877 264.5px,#35b778 270px,#32b57a 275.5px,#2fb37b 287.5px,#2eb27c 293px,#2cb17d 295.5px,#2ab07e 310.5px,#26ac81 344.5px,#25ab81 364.5px,#23a883 368px,#23a883 370px)"></i>
<i class=b style="background:linear-gradient(#1e9c89 0,#1e9c89 1px,#1e9f88 3.5px,#1ea087 49.5px,#20a485 77.5px,#23a982 95.5px,#2cb17d 112.5px,#38b976 126.5px,#39b976 129.5px,#47c06e 141px,#4dc26b 143.5px,#57c665 149.5px,#57c665 151px,#5ec961 0,#5ec961 152.5px,#64cb5d 155.5px,#64cb5d 157px,#6dce58 0,#6dce58 160px,#79d151 0,#79d151 162px,#88d547 0,#88d547 165px,#9ad83c 0,#9ad83c 168px,#b2dd2c 0,#b2dd2c 171px,#cfe11c 0,#cfe11c 174px,#ece41a 0,#ece41a 177px,#f8e621 0,#f8e621 180px,#f1e51c 0,#f1e51c 183px,#d4e11a 0,#d4e11a 185px,#b7dd29 0,#b7dd29 188px,#9dd93a 0,#9dd93a 191px,#8bd546 0,#8bd546 194px,#7cd24f 0,#7cd24f 197px,#72cf55 0,#72cf55 200px,#69cc5b 0,#69cc5b 203px,#62ca5f 0,#62ca5f 206px,#5bc862 0,#5bc862 207px,#4bc26c 218.5px,#45bf6f 224.5px,#35b778 252.5px,#30b47a 267.5px,#2eb27c 278.5px,#2bb17d 287.5px,#28ae7f 307.5px,#25ab81 341.5px,#24aa82 364.5px,#23a883 368px,#23a883 370px)"></i>
<i class=a style="background:linear-gradient(#23a982 0,#23a982 1px,#26ac81 3.5px,#28ae7f 37.5px,#2cb17d 66.5px,#30b47a 77.5px,#33b679 89.5px,#3bba75 106.5px,#3ebc73 115.5px,#49c16d 129.5px,#53c567 138.5px,#60c960 146.5px,#60c960 148px,#67cc5c 0,#67cc5c 149.5px,#6dce58 152.5px,#6dce58 154px,#74d054 0,#74d054 157px,#81d34c 0,#81d34c 160px,#8dd644 0,#8dd644 162px,#a2da37 0,#a2da37 165px,#bade27 0,#bade27 168px,#d7e219 0,#d7e219 171px,#f1e51c 0,#f1e51c 174px,#f8e621 0,#f8e621 177px,#e9e419 0,#e9e419 180px,#cde01d 0,#cde01d 183px,#b2dd2c 0,#b2dd2c 185px,#9ad83c 0,#9ad83c 188px,#88d547 0,#88d547 191px,#7cd24f 0,#7cd24f 194px,#70ce56 0,#70ce56 197px,#67cc5c 0,#67cc5c 200px,#60c960 0,#60c960 203px,#59c764 0,#59c764 204.5px,#4bc26c 212.5px,#42be71 221.5px,#3ebc73 224.5px,#3dbb74 227px,#39b976 229.5px,#2fb37b 247.5px,#2bb17d 252.5px,#23a982 272.5px,#20a485 290.5px,#1e9c89 304.5px,#1e978a 313px,#218d8c 318.5px,#218d8c 320px,#267f8e 0,#267f8e 323px,#218e8c 0,#218e8c 324.5px,#1f958b 330.5px,#1e998a 344.5px,#1e998a 370px)"></i>
<i class=b style="background:linear-gradient(#23a982 0,#23a982 1px,#25ab81 3.5px,#27ad80 32px,#2cb17d 60.5px,#2fb37b 69.5px,#30b47a 75px,#33b679 80.5px,#36b877 89.5px,#3bba75 100.5px,#45bf6f 115.5px,#4bc26c 123.5px,#59c764 135.5px,#6dce58 146.5px,#6dce58 148px,#74d054 0,#74d054 151px,#7ed24e 0,#7ed24e 154px,#88d547 0,#88d547 157px,#97d83e 0,#97d83e 160px,#addc30 0,#addc30 162px,#c5df21 0,#c5df21 165px,#e1e318 0,#e1e318 168px,#f6e61f 0,#f6e61f 174px,#e1e318 0,#e1e318 177px,#c5df21 0,#c5df21 180px,#aadb32 0,#aadb32 183px,#97d83e 0,#97d83e 185px,#88d547 0,#88d547 188px,#7ed24e 0,#7ed24e 191px,#74d054 0,#74d054 194px,#6dce58 0,#6dce58 195.5px,#55c666 209.5px,#4fc369 215.5px,#45bf6f 227px,#44be70 229.5px,#3ebc73 235.5px,#38b976 250px,#33b679 258.5px,#2fb37b 272.5px,#28ae7f 298.5px,#23a982 324.5px,#21a685 341.5px,#1e9e88 364.5px,#1e9c89 368px,#1e9c89 370px)"></i>
<i class=a style="background:linear-gradient(#1fa386 0,#1fa386 1px,#21a685 3.5px,#22a784 66.5px,#26ac81 83.5px,#2bb17d 98px,#2eb27c 100.5px,#38b976 115.5px,#4dc26b 132.5px,#57c665 138.5px,#57c665 140px,#5ec961 0,#5ec961 142px,#67cc5c 0,#67cc5c 145px,#70ce56 0,#70ce56 148px,#79d151 0,#79d151 151px,#88d547 0,#88d547 154px,#9ad83c 0,#9ad83c 157px,#b5dd2b 0,#b5dd2b 160px,#cfe11c 0,#cfe11c 162px,#ece41a 0,#ece41a 165px,#f8e621 0,#f8e621 168px,#f1e51c 0,#f1e51c 171px,#d7e219 0,#d7e219 174px,#bade27 0,#bade27 177px,#9fd938 0,#9fd938 180px,#8dd644 0,#8dd644 183px,#7ed24e 0,#7ed24e 185px,#72cf55 0,#72cf55 188px,#6bcd59 0,#6bcd59 191px,#62ca5f 0,#62ca5f 192.5px,#5ec961 195.5px,#5ec961 197px,#57c665 0,#57c665 198.5px,#49c16d 209.5px,#39b976 232.5px,#2fb37b 258.5px,#2eb27c 267.5px,#2cb17d 272.5px,#27ad80 301.5px,#23a982 338.5px,#22a784 364.5px,#21a685 368px,#21a685 370px)"></i>
<i class=a style="background:linear-gradient(#25ab81 0,#25ab81 1px,#28ae7f 3.5px,#29af7f 26.5px,#2cb17d 46.5px,#2cb17d 49.5px,#2eb27c 54.5px,#30b47a 66.5px,#36b877 80.5px,#39b976 89.5px,#49c16d 115.5px,#53c567 123.5px,#59c764 129.5px,#69cc5b 138.5px,#69cc5b 140px,#70ce56 0,#70ce56 142px,#79d151 0,#79d151 145px,#83d34b 0,#83d34b 148px,#92d741 0,#92d741 151px,#a5da35 0,#a5da35 154px,#bdde26 0,#bdde26 157px,#dae218 0,#dae218 160px,#f3e51e 0,#f3e51e 161px,#f8e621 163.5px,#f8e621 165px,#e7e419 0,#e7e419 168px,#cde01d 0,#cde01d 171px,#b2dd2c 0,#b2dd2c 174px,#9ad83c 0,#9ad83c 177px,#8bd546 0,#8bd546 180px,#7cd24f 0,#7cd24f 183px,#72cf55 0,#72cf55 185px,#6bcd59 0,#6bcd59 188px,#64cb5d 0,#64cb5d 189.5px,#53c567 198.5px,#4dc26b 204.5px,#45bf6f 209.5px,#44be70 212.5px,#3ebc73 218.5px,#3bba75 224.5px,#36b877 229.5px,#29af7f 258.5px,#27ad80 267.5px,#23a982 281.5px,#20a585 298.5px,#1e9c89 338.5px,#1e998a 364.5px,#1e978a 368px,#1e978a 370px)"></i>
<i class=b style="background:linear-gradient(#21a685 0,#21a685 1px,#23a883 3.5px,#24aa82 29.5px,#2ab07e 54.5px,#30b47a 72.5px,#32b57a 77.5px,#3bba75 95.5px,#42be71 103.5px,#4bc26c 115.5px,#60c960 129.5px,#60c960 131px,#67cc5c 0,#67cc5c 132.5px,#6dce58 135.5px,#6dce58 137px,#74d054 0,#74d054 140px,#7ed24e 0,#7ed24e 142px,#8bd546 0,#8bd546 145px,#9ad83c 0,#9ad83c 148px,#afdc2e 0,#afdc2e 151px,#cde01d 0,#cde01d 154px,#e7e419 0,#e7e419 157px,#f6e61f 0,#f6e61f 158.5px,#f3e51e 161px,#f3e51e 162px,#dce218 0,#dce218 165px,#c2df22 0,#c2df22 168px,#a7db33 0,#a7db33 171px,#95d73f 0,#95d73f 174px,#86d449 0,#86d449 177px,#7cd24f 0,#7cd24f 180px,#72cf55 0,#72cf55 183px,#6bcd59 0,#6bcd59 184px,#67cc5c 186.5px,#67cc5c 188px,#60c960 0,#60c960 189.5px,#57c665 195.5px,#51c468 201.5px,#4bc26c 207px,#44be70 215.5px,#3bba75 229.5px,#38b976 238.5px,#32b57a 252.5px,#2eb27c 270px,#2bb17d 275.5px,#24aa82 321.5px,#22a784 341.5px,#21a685 364.5px,#1fa386 368px,#1fa386 370px)"></i>
<i class=a style="background:linear-gradient(#25ab81 0,#25ab81 1px,#28ae7f 3.5px,#2ab07e 37.5px,#2cb17d 52px,#2eb27c 54.5px,#30b47a 69.5px,#39b976 89.5px,#3bba75 95.5px,#3ebc73 100.5px,#44be70 106.5px,#45bf6f 109.5px,#4bc26c 115.5px,#5bc862 126.5px,#5bc862 128px,#62ca5f 0,#62ca5f 131px,#6bcd59 0,#6bcd59 134px,#72cf55 0,#72cf55 137px,#7ed24e 0,#7ed24e 140px,#8dd644 0,#8dd644 142px,#a2da37 0,#a2da37 145px,#bade27 0,#bade27 148px,#d7e219 0,#d7e219 151px,#f1e51c 0,#f1e51c 154px,#f8e621 0,#f8e621 157px,#ece41a 0,#ece41a 160px,#d2e11b 0,#d2e11b 162px,#b5dd2b 0,#b5dd2b 165px,#9dd93a 0,#9dd93a 168px,#8bd546 0,#8bd546 171px,#7cd24f 0,#7cd24f 174px,#70ce56 0,#70ce56 177px,#67cc5c 0,#67cc5c 180px,#5ec961 0,#5ec961 183px,#57c665 0,#57c665 184px,#51c468 186.5px,#47c06e 192.5px,#39b976 204.5px,#35b778 209.5px,#2cb17d 221.5px,#2bb17d 224.5px,#28ae7f 229.5px,#23a883 247.5px,#21a685 267.5px,#1fa187 333.5px,#1ea087 364.5px,#1e9e88 368px,#1e9e88 370px)"></i>
<i class=a style="background:linear-gradient(#25ab81 0,#25ab81 1px,#28ae7f 3.5px,#29af7f 26.5px,#2cb17d 40.5px,#30b47a 57.5px,#35b778 66.5px,#36b877 72.5px,#45bf6f 98px,#49c16d 100.5px,#55c666 112.5px,#67cc5c 123.5px,#6dce58 126.5px,#6dce58 128px,#77d052 0,#77d052 131px,#7ed24e 0,#7ed24e 134px,#8bd546 0,#8bd546 137px,#9ad83c 0,#9ad83c 140px,#afdc2e 0,#afdc2e 142px,#cae01e 0,#cae01e 145px,#e4e318 0,#e4e318 148px,#f6e61f 0,#f6e61f 154px,#dfe318 0,#dfe318 157px,#c5df21 0,#c5df21 160px,#addc30 0,#addc30 162px,#97d83e 0,#97d83e 165px,#88d547 0,#88d547 168px,#7ed24e 0,#7ed24e 171px,#74d054 0,#74d054 174px,#6dce58 0,#6dce58 175.5px,#59c764 186.5px,#47c06e 204.5px,#35b778 235.5px,#32b57a 247.5px,#2fb37b 252.5px,#2ab07e 272.5px,#23a883 313px,#20a585 333.5px,#1e9d88 359px,#1e988a 368px,#1e988a 370px)"></i>
<i class=b style="background:linear-gradient(#23a883 0,#23a883 1px,#24aa82 3.5px,#27ad80 29.5px,#2cb17d 52px,#33b679 75px,#40bd72 98px,#44be70 100.5px,#45bf6f 103.5px,#55c666 115.5px,#5bc862 118px,#5bc862 119px,#62ca5f 0,#62ca5f 122px,#69cc5b 0,#69cc5b 125px,#72cf55 0,#72cf55 128px,#7ed24e 0,#7ed24e 131px,#8dd644 0,#8dd644 134px,#a2da37 0,#a2da37 137px,#bade27 0,#bade27 140px,#d7e219 0,#d7e219 142px,#eee51b 0,#eee51b 145px,#f8e621 0,#f8e621 148px,#ece41a 0,#ece41a 151px,#d4e11a 0,#d4e11a 154px,#b7dd29 0,#b7dd29 157px,#9fd938 0,#9fd938 160px,#8bd546 0,#8bd546 162px,#7cd24f 0,#7cd24f 165px,#70ce56 0,#70ce56 168px,#67cc5c 0,#67cc5c 171px,#5ec961 0,#5ec961 174px,#57c665 0,#57c665 175.5px,#47c06e 184px,#36b877 198.5px,#32b57a 204.5px,#2ab07e 221.5px,#25ab81 244.5px,#23a883 278.5px,#21a784 310.5px,#20a585 364.5px,#1fa386 368px,#1fa386 370px)"></i>
<i class=a style="background:linear-gradient(#24aa82 0,#24aa82 1px,#27ad80 3.5px,#2ab07e 29.5px,#30b47a 49.5px,#32b57a 54.5px,#3bba75 72.5px,#45bf6f 89.5px,#4bc26c 95.5px,#51c468 100.5px,#62ca5f 112.5px,#62ca5f 114px,#69cc5b 0,#69cc5b 115.5px,#6dce58 118px,#6dce58 119px,#77d052 0,#77d052 122px,#81d34c 0,#81d34c 125px,#8bd546 0,#8bd546 128px,#9dd93a 0,#9dd93a 131px,#b2dd2c 0,#b2dd2c 134px,#cae01e 0,#cae01e 137px,#e4e318 0,#e4e318 140px,#f6e61f 0,#f6e61f 141px,#f3e51e 143.5px,#f3e51e 145px,#dfe318 0,#dfe318 148px,#c5df21 0,#c5df21 151px,#addc30 0,#addc30 154px,#97d83e 0,#97d83e 157px,#88d547 0,#88d547 160px,#7ed24e 0,#7ed24e 162px,#74d054 0,#74d054 165px,#6dce58 0,#6dce58 166.5px,#59c764 178.5px,#51c468 184px,#4dc26b 189.5px,#47c06e 195.5px,#36b877 224.5px,#32b57a 238.5px,#2cb17d 252.5px,#2ab07e 267.5px,#23a883 310.5px,#20a485 347.5px,#1fa386 364.5px,#1ea087 368px,#1ea087 370px)"></i>
<i class=b style="background:linear-gradient(#1ea087 0,#1ea087 1px,#20a485 3.5px,#21a784 9px,#23a883 11.5px,#29af7f 29.5px,#30b47a 52px,#35b778 60.5px,#39b976 72.5px,#47c06e 92.5px,#4dc26b 98px,#59c764 106.5px,#59c764 108px,#60c960 0,#60c960 109.5px,#64cb5d 112.5px,#64cb5d 114px,#6dce58 0,#6dce58 117px,#77d052 0,#77d052 119px,#81d34c 0,#81d34c 122px,#90d643 0,#90d643 125px,#a5da35 0,#a5da35 128px,#bdde26 0,#bdde26 131px,#dae218 0,#dae218 134px,#f1e51c 0,#f1e51c 137px,#f8e621 0,#f8e621 140px,#ece41a 0,#ece41a 142px,#d2e11b 0,#d2e11b 145px,#b7dd29 0,#b7dd29 148px,#9fd938 0,#9fd938 151px,#8bd546 0,#8bd546 154px,#7ed24e 0,#7ed24e 157px,#72cf55 0,#72cf55 160px,#69cc5b 0,#69cc5b 162px,#60c960 0,#60c960 165px,#59c764 0,#59c764 166.5px,#47c06e 178.5px,#39b976 189.5px,#33b679 198.5px,#2cb17d 207px,#24aa82 227px,#21a685 241.5px,#20a485 261.5px,#1fa386 364.5px,#1fa187 368px,#1fa187 370px)"></i>
<i class=a style="background:linear-gradient(#1ea087 0,#1ea087 1px,#20a585 6.5px,#2cb17d 43.5px,#3bba75 72.5px,#47c06e 86.5px,#51c468 95.5px,#59c764 100.5px,#59c764 102px,#60c960 0,#60c960 105px,#67cc5c 0,#67cc5c 106.5px,#6dce58 109.5px,#6dce58 111px,#74d054 0,#74d054 114px,#81d34c 0,#81d34c 117px,#8dd644 0,#8dd644 119px,#9fd938 0,#9fd938 122px,#b5dd2b 0,#b5dd2b 125px,#cfe11c 0,#cfe11c 128px,#e7e419 0,#e7e419 131px,#f8e621 0,#f8e621 132.5px,#f3e51e 135.5px,#f3e51e 137px,#dce218 0,#dce218 140px,#c2df22 0,#c2df22 142px,#aadb32 0,#aadb32 145px,#95d73f 0,#95d73f 148px,#86d449 0,#86d449 151px,#7cd24f 0,#7cd24f 154px,#72cf55 0,#72cf55 157px,#6bcd59 0,#6bcd59 160px,#64cb5d 0,#64cb5d 161px,#53c567 172.5px,#4dc26b 178.5px,#4bc26c 181.5px,#45bf6f 186.5px,#38b976 209.5px,#35b778 218.5px,#30b47a 229.5px,#2eb27c 241.5px,#2bb17d 250px,#25ab81 290.5px,#23a883 324.5px,#21a784 364.5px,#20a585 368px,#20a585 370px)"></i>
<i class=a style="background:linear-gradient(#2cb17d 0,#2cb17d 1px,#2fb37b 3.5px,#30b47a 17.5px,#32b57a 23.5px,#33b679 32px,#35b778 34.5px,#36b877 43.5px,#3bba75 54.5px,#49c16d 77.5px,#57c665 92.5px,#5bc862 95.5px,#5bc862 97px,#62ca5f 0,#62ca5f 98px,#6dce58 103.5px,#6dce58 105px,#74d054 0,#74d054 108px,#7cd24f 0,#7cd24f 111px,#88d547 0,#88d547 114px,#97d83e 0,#97d83e 117px,#aadb32 0,#aadb32 119px,#c5df21 0,#c5df21 122px,#dfe318 0,#dfe318 125px,#f3e51e 0,#f3e51e 126.5px,#f6e61f 129.5px,#f6e61f 131px,#e7e419 0,#e7e419 134px,#cfe11c 0,#cfe11c 137px,#b5dd2b 0,#b5dd2b 140px,#9dd93a 0,#9dd93a 142px,#8dd644 0,#8dd644 145px,#81d34c 0,#81d34c 148px,#77d052 0,#77d052 151px,#6dce58 0,#6dce58 152.5px,#67cc5c 155.5px,#67cc5c 157px,#60c960 0,#60c960 158.5px,#53c567 166.5px,#44be70 181.5px,#39b976 195.5px,#30b47a 212.5px,#2cb17d 224.5px,#29af7f 235.5px,#23a883 264.5px,#20a485 290.5px,#1e9d88 321.5px,#1f968b 356.5px,#1f958b 364.5px,#1f928c 368px,#1f928c 370px)"></i>
<i class=b style="background:linear-gradient(#26ac81 0,#26ac81 1px,#29af7f 3.5px,#2bb17d 34.5px,#2cb17d 43.5px,#36b877 66.5px,#39b976 72.5px,#3dbb74 75px,#3ebc73 77.5px,#4dc26b 89.5px,#59c764 95.5px,#59c764 97px,#60c960 0,#60c960 99px,#69cc5b 0,#69cc5b 102px,#72cf55 0,#72cf55 105px,#7ed24e 0,#7ed24e 108px,#8dd644 0,#8dd644 111px,#a2da37 0,#a2da37 114px,#bade27 0,#bade27 117px,#d7e219 0,#d7e219 119px,#eee51b 0,#eee51b 122px,#f8e621 0,#f8e621 125px,#eee51b 0,#eee51b 128px,#d7e219 0,#d7e219 131px,#bdde26 0,#bdde26 134px,#a2da37 0,#a2da37 137px,#90d643 0,#90d643 140px,#7ed24e 0,#7ed24e 142px,#72cf55 0,#72cf55 145px,#69cc5b 0,#69cc5b 148px,#62ca5f 0,#62ca5f 151px,#59c764 0,#59c764 152.5px,#47c06e 163.5px,#3ebc73 172.5px,#30b47a 198.5px,#2eb27c 209.5px,#2ab07e 221.5px,#23a883 275.5px,#20a585 315.5px,#1fa187 361.5px,#1fa187 364.5px,#1e9e88 368px,#1e9e88 370px)"></i>
<i class=a style="background:linear-gradient(#29af7f 0,#29af7f 1px,#2cb17d 3.5px,#2cb17d 9px,#2eb27c 11.5px,#30b47a 29.5px,#33b679 34.5px,#36b877 43.5px,#42be71 63.5px,#49c16d 72.5px,#51c468 77.5px,#57c665 83.5px,#5bc862 86.5px,#5bc862 88px,#62ca5f 0,#62ca5f 89.5px,#6dce58 95.5px,#6dce58 97px,#77d052 0,#77d052 99px,#81d34c 0,#81d34c 102px,#8dd644 0,#8dd644 105px,#9fd938 0,#9fd938 108px,#b5dd2b 0,#b5dd2b 111px,#cfe11c 0,#cfe11c 114px,#e7e419 0,#e7e419 117px,#f6e61f 0,#f6e61f 118px,#f3e51e 120.5px,#f3e51e 122px,#dfe318 0,#dfe318 125px,#c5df21 0,#c5df21 128px,#addc30 0,#addc30 131px,#97d83e 0,#97d83e 134px,#88d547 0,#88d547 137px,#7ed24e 0,#7ed24e 140px,#74d054 0,#74d054 142px,#6dce58 0,#6dce58 143.5px,#59c764 155.5px,#51c468 161px,#49c16d 169.5px,#3dbb74 186.5px,#3bba75 192.5px,#36b877 201.5px,#35b778 207px,#32b57a 212.5px,#2eb27c 229.5px,#2ab07e 241.5px,#23a883 290.5px,#20a485 321.5px,#1e9c89 350.5px,#1f968b 361.5px,#218e8c 368px,#218e8c 370px)"></i>
<i class=b style="background:linear-gradient(#1e9f88 0,#1e9f88 2px,#21a784 0,#21a784 3.5px,#2bb17d 14.5px,#33b679 29.5px,#42be71 54.5px,#4bc26c 66.5px,#51c468 72.5px,#67cc5c 86.5px,#6dce58 89.5px,#6dce58 91px,#74d054 0,#74d054 94px,#7ed24e 0,#7ed24e 97px,#8bd546 0,#8bd546 99px,#9ad83c 0,#9ad83c 102px,#addc30 0,#addc30 105px,#c7e01f 0,#c7e01f 108px,#dfe318 0,#dfe318 111px,#f3e51e 0,#f3e51e 112.5px,#f6e61f 115.5px,#f6e61f 117px,#e7e419 0,#e7e419 119px,#cfe11c 0,#cfe11c 122px,#b5dd2b 0,#b5dd2b 125px,#9fd938 0,#9fd938 128px,#8dd644 0,#8dd644 131px,#81d34c 0,#81d34c 134px,#77d052 0,#77d052 137px,#6dce58 0,#6dce58 138.5px,#62ca5f 143.5px,#5ec961 146.5px,#5ec961 148px,#57c665 0,#57c665 149.5px,#4bc26c 161px,#47c06e 163.5px,#39b976 184px,#30b47a 201.5px,#2eb27c 209.5px,#29af7f 224.5px,#23a982 252.5px,#21a784 264.5px,#1e9d88 307.5px,#1f968b 336px,#218e8c 361.5px,#218e8c 364.5px,#228b8d 368px,#228b8d 370px)"></i>
<i class=a style="background:linear-gradient(#29af7f 0,#29af7f 1px,#2cb17d 3.5px,#2cb17d 9px,#2eb27c 11.5px,#30b47a 26.5px,#35b778 34.5px,#39b976 46.5px,#3ebc73 54.5px,#44be70 60.5px,#45bf6f 63.5px,#4fc369 72.5px,#64cb5d 83.5px,#64cb5d 85px,#6dce58 0,#6dce58 88px,#77d052 0,#77d052 91px,#83d34b 0,#83d34b 94px,#92d741 0,#92d741 97px,#a7db33 0,#a7db33 99px,#bfdf24 0,#bfdf24 102px,#dae218 0,#dae218 105px,#f1e51c 0,#f1e51c 108px,#f8e621 0,#f8e621 111px,#ece41a 0,#ece41a 114px,#d7e219 0,#d7e219 117px,#bdde26 0,#bdde26 119px,#a2da37 0,#a2da37 122px,#90d643 0,#90d643 125px,#81d34c 0,#81d34c 128px,#74d054 0,#74d054 131px,#69cc5b 0,#69cc5b 134px,#62ca5f 0,#62ca5f 137px,#5bc862 0,#5bc862 138.5px,#4fc369 143.5px,#45bf6f 149.5px,#33b679 166.5px,#28ae7f 186.5px,#23a982 204.5px,#22a784 224.5px,#20a485 278.5px,#1fa187 341.5px,#1ea087 364.5px,#1e9e88 368px,#1e9e88 370px)"></i>
<i class=a style="background:linear-gradient(#20a585 0,#20a585 1px,#22a784 3.5px,#27ad80 23.5px,#2cb17d 34.5px,#38b976 49.5px,#4bc26c 66.5px,#55c666 72.5px,#5bc862 75px,#5bc862 76px,#62ca5f 0,#62ca5f 79px,#6bcd59 0,#6bcd59 82px,#74d054 0,#74d054 85px,#81d34c 0,#81d34c 88px,#90d643 0,#90d643 91px,#a5da35 0,#a5da35 94px,#bdde26 0,#bdde26 97px,#d4e11a 0,#d4e11a 99px,#ece41a 0,#ece41a 102px,#f8e621 0,#f8e621 105px,#f1e51c 0,#f1e51c 108px,#dce218 0,#dce218 111px,#c2df22 0,#c2df22 114px,#a7db33 0,#a7db33 117px,#95d73f 0,#95d73f 119px,#83d34b 0,#83d34b 122px,#77d052 0,#77d052 125px,#6dce58 0,#6dce58 126.5px,#67cc5c 129.5px,#67cc5c 131px,#60c960 0,#60c960 134px,#59c764 0,#59c764 135.5px,#4dc26b 143.5px,#45bf6f 152.5px,#44be70 155.5px,#3ebc73 161px,#36b877 175.5px,#35b778 181.5px,#32b57a 186.5px,#2eb27c 204.5px,#2cb17d 209.5px,#25ab81 250px,#21a784 290.5px,#1fa286 361.5px,#1fa286 364.5px,#1e9f88 368px,#1e9f88 370px)"></i>
<i class=b style="background:linear-gradient(#25ab81 0,#25ab81 1px,#28ae7f 3.5px,#29af7f 6.5px,#2cb17d 11.5px,#36b877 29.5px,#3dbb74 37.5px,#3ebc73 40.5px,#44be70 46.5px,#45bf6f 49.5px,#4dc26b 54.5px,#53c567 60.5px,#5bc862 66.5px,#5bc862 68px,#62ca5f 0,#62ca5f 69.5px,#67cc5c 72.5px,#67cc5c 74px,#70ce56 0,#70ce56 76px,#77d052 0,#77d052 79px,#83d34b 0,#83d34b 82px,#90d643 0,#90d643 85px,#a2da37 0,#a2da37 88px,#b7dd29 0,#b7dd29 91px,#d2e11b 0,#d2e11b 94px,#e7e419 0,#e7e419 97px,#f6e61f 0,#f6e61f 98px,#f3e51e 100.5px,#f3e51e 102px,#dfe318 0,#dfe318 105px,#c7e01f 0,#c7e01f 108px,#afdc2e 0,#afdc2e 111px,#9ad83c 0,#9ad83c 114px,#8bd546 0,#8bd546 117px,#7ed24e 0,#7ed24e 119px,#74d054 0,#74d054 122px,#6dce58 0,#6dce58 123.5px,#62ca5f 129.5px,#62ca5f 131px,#5bc862 0,#5bc862 132.5px,#55c666 138.5px,#4bc26c 146.5px,#3ebc73 163.5px,#32b57a 192.5px,#2eb27c 209.5px,#2ab07e 221.5px,#23a982 267.5px,#20a585 307.5px,#1fa286 364.5px,#1ea087 368px,#1ea087 370px)"></i>
<i class=a style="background:linear-gradient(#33b679 0,#33b679 1px,#38b976 3.5px,#39b976 14.5px,#40bd72 29.5px,#49c16d 43.5px,#4fc369 49.5px,#57c665 54.5px,#59c764 57.5px,#69cc5b 66.5px,#69cc5b 68px,#70ce56 0,#70ce56 71px,#79d151 0,#79d151 74px,#83d34b 0,#83d34b 76px,#90d643 0,#90d643 79px,#9fd938 0,#9fd938 82px,#b5dd2b 0,#b5dd2b 85px,#cde01d 0,#cde01d 88px,#e4e318 0,#e4e318 91px,#f6e61f 0,#f6e61f 97px,#e4e318 0,#e4e318 99px,#cde01d 0,#cde01d 102px,#b2dd2c 0,#b2dd2c 105px,#9fd938 0,#9fd938 108px,#8dd644 0,#8dd644 111px,#81d34c 0,#81d34c 114px,#77d052 0,#77d052 117px,#70ce56 0,#70ce56 119px,#69cc5b 0,#69cc5b 120.5px,#55c666 132.5px,#4dc26b 141px,#49c16d 143.5px,#36b877 175.5px,#35b778 181.5px,#30b47a 189.5px,#2eb27c 201.5px,#2ab07e 212.5px,#23a883 258.5px,#20a585 287.5px,#1e9c89 341.5px,#1e988a 368px,#1e988a 370px)"></i>
<i class=b style="background:linear-gradient(#2eb27c 0,#2eb27c 1px,#32b57a 3.5px,#32b57a 6.5px,#36b877 11.5px,#42be71 29.5px,#4bc26c 40.5px,#53c567 46.5px,#55c666 49.5px,#62ca5f 57.5px,#62ca5f 59px,#69cc5b 0,#69cc5b 62px,#70ce56 0,#70ce56 65px,#77d052 0,#77d052 68px,#81d34c 0,#81d34c 71px,#8dd644 0,#8dd644 74px,#9dd93a 0,#9dd93a 76px,#b2dd2c 0,#b2dd2c 79px,#cae01e 0,#cae01e 82px,#e1e318 0,#e1e318 85px,#f3e51e 0,#f3e51e 86.5px,#f6e61f 89.5px,#f6e61f 91px,#e7e419 0,#e7e419 94px,#cfe11c 0,#cfe11c 97px,#b7dd29 0,#b7dd29 99px,#a2da37 0,#a2da37 102px,#90d643 0,#90d643 105px,#83d34b 0,#83d34b 108px,#79d151 0,#79d151 111px,#70ce56 0,#70ce56 114px,#69cc5b 0,#69cc5b 117px,#62ca5f 0,#62ca5f 118px,#51c468 129.5px,#49c16d 138.5px,#45bf6f 141px,#32b57a 175.5px,#30b47a 181.5px,#2bb17d 195.5px,#23a982 232.5px,#22a784 244.5px,#1fa386 270px,#1e998a 318.5px,#1f968b 333.5px,#20908c 353.5px,#218c8d 364.5px,#22898d 368px,#22898d 370px)"></i>
<i class=a style="background:linear-gradient(#3bba75 0,#3bba75 1px,#3ebc73 3.5px,#3ebc73 6.5px,#42be71 14.5px,#47c06e 29.5px,#4dc26b 34.5px,#51c468 40.5px,#62ca5f 52px,#6dce58 57.5px,#6dce58 59px,#74d054 0,#74d054 62px,#7ed24e 0,#7ed24e 65px,#8bd546 0,#8bd546 68px,#9dd93a 0,#9dd93a 71px,#afdc2e 0,#afdc2e 74px,#c7e01f 0,#c7e01f 76px,#e1e318 0,#e1e318 79px,#f3e51e 0,#f3e51e 80.5px,#f6e61f 83.5px,#f6e61f 85px,#e9e419 0,#e9e419 88px,#d2e11b 0,#d2e11b 91px,#bade27 0,#bade27 94px,#a2da37 0,#a2da37 97px,#90d643 0,#90d643 99px,#83d34b 0,#83d34b 102px,#79d151 0,#79d151 105px,#70ce56 0,#70ce56 108px,#69cc5b 0,#69cc5b 111px,#62ca5f 0,#62ca5f 114px,#5bc862 0,#5bc862 115.5px,#4fc369 123.5px,#3bba75 146.5px,#2bb17d 178.5px,#23a883 212.5px,#21a685 227px,#1e9e88 261.5px,#1e998a 287.5px,#1f938b 333.5px,#1f928c 364.5px,#208f8c 368px,#208f8c 370px)"></i>
<i class=a style="background:linear-gradient(#38b976 0,#38b976 1px,#3dbb74 3.5px,#3ebc73 11.5px,#47c06e 26.5px,#4dc26b 32px,#51c468 34.5px,#57c665 40.5px,#60c960 46.5px,#60c960 48px,#67cc5c 0,#67cc5c 49.5px,#6dce58 52px,#6dce58 53px,#74d054 0,#74d054 56px,#7ed24e 0,#7ed24e 59px,#8bd546 0,#8bd546 62px,#9ad83c 0,#9ad83c 65px,#afdc2e 0,#afdc2e 68px,#c7e01f 0,#c7e01f 71px,#dfe318 0,#dfe318 74px,#f3e51e 0,#f3e51e 75px,#f6e61f 77.5px,#f6e61f 79px,#e9e419 0,#e9e419 82px,#d4e11a 0,#d4e11a 85px,#bade27 0,#bade27 88px,#a5da35 0,#a5da35 91px,#92d741 0,#92d741 94px,#83d34b 0,#83d34b 97px,#79d151 0,#79d151 99px,#70ce56 0,#70ce56 102px,#67cc5c 0,#67cc5c 103.5px,#62ca5f 106.5px,#62ca5f 108px,#5bc862 0,#5bc862 109.5px,#47c06e 123.5px,#3dbb74 138.5px,#39b976 141px,#2cb17d 166.5px,#29af7f 178.5px,#23a883 204.5px,#20a485 227px,#1e9d88 255.5px,#1e998a 270px,#1f948b 298.5px,#1e978a 344.5px,#1e988a 364.5px,#1f958b 368px,#1f958b 370px)"></i>
<i class=b style="background:linear-gradient(#27ad80 0,#27ad80 2px,#2eb27c 0,#2eb27c 3.5px,#38b976 9px,#49c16d 23.5px,#4fc369 29.5px,#60c960 40.5px,#60c960 42px,#67cc5c 0,#67cc5c 43.5px,#6dce58 46.5px,#6dce58 48px,#74d054 0,#74d054 51px,#7ed24e 0,#7ed24e 53px,#8bd546 0,#8bd546 56px,#9ad83c 0,#9ad83c 59px,#afdc2e 0,#afdc2e 62px,#c7e01f 0,#c7e01f 65px,#dfe318 0,#dfe318 68px,#f3e51e 0,#f3e51e 69.5px,#f6e61f 72.5px,#f6e61f 74px,#e9e419 0,#e9e419 76px,#d4e11a 0,#d4e11a 79px,#bdde26 0,#bdde26 82px,#a5da35 0,#a5da35 85px,#92d741 0,#92d741 88px,#83d34b 0,#83d34b 91px,#79d151 0,#79d151 94px,#70ce56 0,#70ce56 97px,#67cc5c 0,#67cc5c 98px,#62ca5f 100.5px,#62ca5f 102px,#5bc862 0,#5bc862 103.5px,#47c06e 118px,#39b976 135.5px,#2bb17d 163.5px,#23a982 195.5px,#21a685 212.5px,#1e9e88 238.5px,#1f968b 264.5px,#1f928c 275.5px,#1e998a 310.5px,#1e998a 370px)"></i>
<i class=a style="background:linear-gradient(#40bd72 0,#40bd72 1px,#45bf6f 3.5px,#45bf6f 6.5px,#51c468 23.5px,#59c764 29.5px,#6dce58 40.5px,#6dce58 42px,#77d052 0,#77d052 45px,#81d34c 0,#81d34c 48px,#8dd644 0,#8dd644 51px,#9dd93a 0,#9dd93a 53px,#b2dd2c 0,#b2dd2c 56px,#cae01e 0,#cae01e 59px,#e1e318 0,#e1e318 62px,#f3e51e 0,#f3e51e 63.5px,#f6e61f 66.5px,#f6e61f 68px,#e9e419 0,#e9e419 71px,#d4e11a 0,#d4e11a 74px,#bdde26 0,#bdde26 76px,#a5da35 0,#a5da35 79px,#92d741 0,#92d741 82px,#83d34b 0,#83d34b 85px,#79d151 0,#79d151 88px,#70ce56 0,#70ce56 91px,#69cc5b 0,#69cc5b 94px,#62ca5f 0,#62ca5f 97px,#5bc862 0,#5bc862 98px,#4bc26c 109.5px,#45bf6f 115.5px,#44be70 118px,#40bd72 120.5px,#3dbb74 126.5px,#39b976 129.5px,#29af7f 163.5px,#23a982 186.5px,#20a585 204.5px,#1e9a89 238.5px,#1f938b 255.5px,#20908c 264.5px,#1f958b 301.5px,#1e978a 364.5px,#1f948b 368px,#1f948b 370px)"></i>
<i class=b style="background:linear-gradient(#45bf6f 0,#45bf6f 1px,#4bc26c 3.5px,#4bc26c 6.5px,#53c567 17.5px,#59c764 23.5px,#69cc5b 32px,#69cc5b 33px,#70ce56 0,#70ce56 36px,#77d052 0,#77d052 39px,#81d34c 0,#81d34c 42px,#8dd644 0,#8dd644 45px,#9fd938 0,#9fd938 48px,#b5dd2b 0,#b5dd2b 51px,#cde01d 0,#cde01d 53px,#e1e318 0,#e1e318 56px,#f3e51e 0,#f3e51e 57.5px,#f6e61f 60.5px,#f6e61f 62px,#e9e419 0,#e9e419 65px,#d2e11b 0,#d2e11b 68px,#bade27 0,#bade27 71px,#a5da35 0,#a5da35 74px,#92d741 0,#92d741 76px,#86d449 0,#86d449 79px,#79d151 0,#79d151 82px,#70ce56 0,#70ce56 85px,#69cc5b 0,#69cc5b 86.5px,#51c468 100.5px,#47c06e 109.5px,#44be70 115.5px,#3ebc73 120.5px,#30b47a 146.5px,#2cb17d 158.5px,#26ac81 184px,#23a982 198.5px,#20a585 221.5px,#1e9b89 272.5px,#1f968b 298.5px,#208f8c 321.5px,#23888d 338.5px,#26818e 347.5px,#29798e 353.5px,#29798e 355px,#2c718e 0,#2c718e 356.5px,#2a778e 359px,#287a8e 361.5px,#287a8e 370px)"></i>
<i class=a style="background:linear-gradient(#40bd72 0,#40bd72 1px,#51c468 11.5px,#5ec961 20.5px,#69cc5b 26.5px,#69cc5b 28px,#72cf55 0,#72cf55 31px,#79d151 0,#79d151 33px,#83d34b 0,#83d34b 36px,#92d741 0,#92d741 39px,#a2da37 0,#a2da37 42px,#b7dd29 0,#b7dd29 45px,#cfe11c 0,#cfe11c 48px,#e4e318 0,#e4e318 51px,#f3e51e 0,#f3e51e 52px,#f6e61f 54.5px,#f6e61f 56px,#e7e419 0,#e7e419 59px,#d2e11b 0,#d2e11b 62px,#bade27 0,#bade27 65px,#a5da35 0,#a5da35 68px,#92d741 0,#92d741 71px,#86d449 0,#86d449 74px,#79d151 0,#79d151 76px,#72cf55 0,#72cf55 79px,#6bcd59 0,#6bcd59 82px,#64cb5d 0,#64cb5d 83.5px,#4fc369 98px,#4bc26c 103.5px,#45bf6f 109.5px,#35b778 138.5px,#32b57a 146.5px,#2eb27c 158.5px,#2ab07e 172.5px,#23a883 215.5px,#20a485 247.5px,#1e9d88 284.5px,#1e998a 310.5px,#208f8c 350.5px,#218c8d 364.5px,#22898d 368px,#22898d 370px)"></i>
<i class=a style="background:linear-gradient(#4dc26b 0,#4dc26b 1px,#51c468 3.5px,#53c567 6.5px,#64cb5d 17.5px,#64cb5d 19px,#6bcd59 0,#6bcd59 22px,#72cf55 0,#72cf55 25px,#7cd24f 0,#7cd24f 28px,#86d449 0,#86d449 31px,#95d73f 0,#95d73f 33px,#a5da35 0,#a5da35 36px,#bdde26 0,#bdde26 39px,#d2e11b 0,#d2e11b 42px,#e9e419 0,#e9e419 45px,#f6e61f 0,#f6e61f 46.5px,#f3e51e 49.5px,#f3e51e 51px,#e4e318 0,#e4e318 53px,#cde01d 0,#cde01d 56px,#b5dd2b 0,#b5dd2b 59px,#9fd938 0,#9fd938 62px,#90d643 0,#90d643 65px,#83d34b 0,#83d34b 68px,#79d151 0,#79d151 71px,#70ce56 0,#70ce56 74px,#69cc5b 0,#69cc5b 75px,#59c764 83.5px,#4dc26b 95.5px,#47c06e 100.5px,#36b877 129.5px,#33b679 138.5px,#2eb27c 155.5px,#2eb27c 158.5px,#2bb17d 163.5px,#25ab81 201.5px,#23a883 221.5px,#20a485 261.5px,#1e9d88 310.5px,#1e978a 364.5px,#1f948b 368px,#1f948b 370px)"></i>
<i class=b style="background:linear-gradient(#51c468 0,#51c468 1px,#57c665 3.5px,#5bc862 9px,#5bc862 10px,#62ca5f 0,#62ca5f 13px,#69cc5b 0,#69cc5b 16px,#70ce56 0,#70ce56 19px,#79d151 0,#79d151 22px,#86d449 0,#86d449 25px,#97d83e 0,#97d83e 28px,#aadb32 0,#aadb32 31px,#c2df22 0,#c2df22 33px,#d7e219 0,#d7e219 36px,#ece41a 0,#ece41a 39px,#f6e61f 0,#f6e61f 40.5px,#f1e51c 43.5px,#f1e51c 45px,#e1e318 0,#e1e318 48px,#cae01e 0,#cae01e 51px,#b2dd2c 0,#b2dd2c 53px,#9dd93a 0,#9dd93a 56px,#8bd546 0,#8bd546 59px,#7ed24e 0,#7ed24e 62px,#74d054 0,#74d054 65px,#6bcd59 0,#6bcd59 68px,#64cb5d 0,#64cb5d 69.5px,#60c960 72.5px,#60c960 74px,#59c764 0,#59c764 75px,#51c468 80.5px,#45bf6f 92.5px,#36b877 118px,#32b57a 132.5px,#2fb37b 141px,#2bb17d 155.5px,#28ae7f 175.5px,#25ab81 195.5px,#23a883 227px,#21a685 250px,#1fa286 290.5px,#1e9b89 333.5px,#1f958b 356.5px,#20908c 368px,#20908c 370px)"></i>
<i class=a style="background:linear-gradient(#27ad80 0,#27ad80 2px,#4dc26b 0,#4dc26b 5px,#59c764 0,#59c764 8px,#64cb5d 0,#64cb5d 10px,#6dce58 0,#6dce58 13px,#79d151 0,#79d151 16px,#88d547 0,#88d547 19px,#97d83e 0,#97d83e 22px,#addc30 0,#addc30 25px,#c5df21 0,#c5df21 28px,#dce218 0,#dce218 31px,#eee51b 0,#eee51b 33px,#f6e61f 0,#f6e61f 36px,#eee51b 0,#eee51b 39px,#dce218 0,#dce218 42px,#c5df21 0,#c5df21 45px,#addc30 0,#addc30 48px,#97d83e 0,#97d83e 51px,#88d547 0,#88d547 53px,#7cd24f 0,#7cd24f 56px,#70ce56 0,#70ce56 59px,#67cc5c 0,#67cc5c 62px,#60c960 0,#60c960 65px,#59c764 0,#59c764 66.5px,#49c16d 75px,#3ebc73 83.5px,#3dbb74 86.5px,#36b877 92.5px,#32b57a 100.5px,#2eb27c 106.5px,#2bb17d 115.5px,#28ae7f 129.5px,#25ab81 152.5px,#21a784 201.5px,#1fa286 267.5px,#1e9d88 313px,#1e998a 344.5px,#1e978a 364.5px,#1f948b 368px,#1f948b 370px)"></i>
<i class=b style="background:linear-gradient(#69cc5b 0,#69cc5b 2px,#70ce56 0,#70ce56 3.5px,#74d054 6.5px,#74d054 8px,#7cd24f 0,#7cd24f 10px,#88d547 0,#88d547 13px,#9ad83c 0,#9ad83c 16px,#afdc2e 0,#afdc2e 19px,#c7e01f 0,#c7e01f 22px,#dfe318 0,#dfe318 25px,#f1e51c 0,#f1e51c 26.5px,#f3e51e 29.5px,#f3e51e 31px,#e9e419 0,#e9e419 33px,#d4e11a 0,#d4e11a 36px,#bfdf24 0,#bfdf24 39px,#a7db33 0,#a7db33 42px,#95d73f 0,#95d73f 45px,#86d449 0,#86d449 48px,#7cd24f 0,#7cd24f 51px,#72cf55 0,#72cf55 53px,#69cc5b 0,#69cc5b 56px,#62ca5f 0,#62ca5f 57.5px,#5ec961 60.5px,#5ec961 62px,#57c665 0,#57c665 63.5px,#47c06e 75px,#39b976 92.5px,#36b877 98px,#33b679 100.5px,#2ab07e 120.5px,#23a982 149.5px,#21a784 161px,#1fa187 201.5px,#1e998a 295.5px,#1f928c 361.5px,#1f928c 364.5px,#208f8c 368px,#208f8c 370px)"></i>
<i class=a style="background:linear-gradient(#53c567 0,#53c567 2px,#6bcd59 0,#6bcd59 5px,#7ed24e 0,#7ed24e 8px,#92d741 0,#92d741 10px,#aadb32 0,#aadb32 13px,#c5df21 0,#c5df21 16px,#dce218 0,#dce218 19px,#ece41a 0,#ece41a 25px,#dfe318 0,#dfe318 28px,#cde01d 0,#cde01d 31px,#b5dd2b 0,#b5dd2b 33px,#9fd938 0,#9fd938 36px,#90d643 0,#90d643 39px,#81d34c 0,#81d34c 42px,#77d052 0,#77d052 45px,#6dce58 0,#6dce58 46.5px,#67cc5c 49.5px,#67cc5c 51px,#60c960 0,#60c960 52px,#57c665 57.5px,#4bc26c 66.5px,#45bf6f 72.5px,#32b57a 106.5px,#2eb27c 120.5px,#2ab07e 132.5px,#23a883 178.5px,#20a585 209.5px,#1e9c89 278.5px,#1f958b 333.5px,#208f8c 364.5px,#218d8c 368px,#218d8c 370px)"></i>
<i class=a style="background:linear-gradient(#55c666 0,#55c666 2px,#74d054 0,#74d054 5px,#95d73f 0,#95d73f 8px,#b5dd2b 0,#b5dd2b 10px,#cde01d 0,#cde01d 13px,#dce218 0,#dce218 14.5px,#dae218 17.5px,#dae218 19px,#cde01d 0,#cde01d 22px,#bade27 0,#bade27 25px,#a5da35 0,#a5da35 28px,#92d741 0,#92d741 31px,#83d34b 0,#83d34b 33px,#77d052 0,#77d052 36px,#6bcd59 0,#6bcd59 39px,#64cb5d 0,#64cb5d 40.5px,#5ec961 43.5px,#5ec961 45px,#57c665 0,#57c665 46.5px,#49c16d 54.5px,#3dbb74 66.5px,#33b679 80.5px,#2bb17d 98px,#24aa82 129.5px,#22a784 143.5px,#20a485 169.5px,#1e9d88 218.5px,#1e998a 267.5px,#20918c 336px,#218e8c 364.5px,#228b8d 368px,#228b8d 370px)"></i>
<i class=b style="background:linear-gradient(#74d054 0,#74d054 2px,#92d741 0,#92d741 5px,#afdc2e 0,#afdc2e 8px,#bdde26 0,#bdde26 9px,#bade27 11.5px,#bade27 13px,#addc30 0,#addc30 16px,#9dd93a 0,#9dd93a 19px,#8bd546 0,#8bd546 22px,#79d151 0,#79d151 25px,#6dce58 0,#6dce58 28px,#62ca5f 0,#62ca5f 31px,#59c764 0,#59c764 32px,#4dc26b 37.5px,#40bd72 46.5px,#36b877 57.5px,#2fb37b 69.5px,#28ae7f 86.5px,#23a982 109.5px,#21a784 120.5px,#1e9e88 178.5px,#1e998a 227px,#208f8c 313px,#23878d 350.5px,#25828e 359px,#25828e 361.5px,#277d8e 364.5px,#287b8e 368px,#287b8e 370px)"></i>
<i class=a style="background:linear-gradient(#86d449 0,#86d449 1px,#8bd546 3.5px,#88d547 6.5px,#88d547 8px,#7ed24e 0,#7ed24e 10px,#70ce56 0,#70ce56 13px,#62ca5f 0,#62ca5f 16px,#55c666 0,#55c666 19px,#4bc26c 0,#4bc26c 22px,#44be70 0,#44be70 23.5px,#38b976 29.5px,#30b47a 34.5px,#24aa82 52px,#20a585 66.5px,#1e9c89 100.5px,#1f938b 152.5px,#22898d 235.5px,#24848d 290.5px,#277c8e 336px,#29788e 353.5px,#2a768e 359px,#2a768e 363px,#2d6f8e 0,#2d6f8e 366px,#29798e 0,#29798e 370px)"></i>
<i class=b style="background:linear-gradient(#40bd72 0,#40bd72 5px,#30b47a 0,#30b47a 8px,#25ab81 0,#25ab81 9px,#23a883 14.5px,#1fa286 20.5px,#1f968b 37.5px,#208f8c 52px,#23888d 75px,#277c8e 129.5px,#2c708e 229.5px,#31668d 315.5px,#32628d 336px,#345e8d 344.5px,#345e8d 346px,#31668d 0,#31668d 349px,#2d6e8e 0,#2d6e8e 352px,#2a758e 0,#2a758e 353.5px,#29798e 356.5px,#2a768e 359px,#2a768e 361.5px,#287a8e 364.5px,#29788e 368px,#29788e 370px)"></i>
<i class=a style="background:linear-gradient(#1f928c 0,#1f928c 2px,#1e9c89 0,#1e9c89 3.5px,#1ea087 6.5px,#1e9e88 9px,#1e9e88 10px,#1f968b 0,#1f968b 11.5px,#228b8d 17.5px,#208f8c 20.5px,#208f8c 22px,#24868d 0,#24868d 23.5px,#25838d 26.5px,#25838d 29.5px,#287a8e 40.5px,#2a778e 49.5px,#2d6f8e 69.5px,#31648d 112.5px,#365a8c 178.5px,#3b508a 267.5px,#3c4e8a 272.5px,#3e4888 321.5px,#3d4c89 327.5px,#39558b 333.5px,#39558b 335px,#355c8c 0,#355c8c 337px,#32638d 0,#32638d 340px,#2e6b8e 0,#2e6b8e 343px,#2c728e 0,#2c728e 344.5px,#287a8e 350.5px,#2a768e 356.5px,#29788e 359px,#2b738e 361.5px,#2b738e 363px,#2e6c8e 0,#2e6c8e 366px,#31658d 0,#31658d 370px)"></i>
<i class=a style="background:linear-gradient(#2a778e 0,#2a778e 1px,#287a8e 3.5px,#228a8d 11.5px,#218d8c 14.5px,#218c8d 17.5px,#23878d 20.5px,#228a8d 26.5px,#22898d 29.5px,#24848d 32px,#24848d 33px,#277c8e 0,#277c8e 36px,#2b748e 0,#2b748e 39px,#2e6b8e 0,#2e6b8e 42px,#32638d 0,#32638d 45px,#355c8c 0,#355c8c 48px,#39548b 0,#39548b 51px,#3d4c89 0,#3d4c89 52px,#3e4989 54.5px,#3d4b89 57.5px,#3e4989 75px,#3f4788 77.5px,#404387 89.5px,#404487 92.5px,#414186 98px,#414286 100.5px,#424085 106.5px,#414186 109.5px,#423d84 115.5px,#433c84 118px,#423e85 120.5px,#433b83 129.5px,#443982 141px,#433a83 143.5px,#453681 146.5px,#433a83 149.5px,#433a83 151px,#46307d 0,#46307d 154px,#443982 0,#443982 155.5px,#45347f 158.5px,#453681 161px,#453681 168px,#472777 0,#472777 171px,#443781 0,#443781 174px,#462d7c 0,#462d7c 177px,#453681 0,#453681 180px,#472c7b 0,#472c7b 183px,#45347f 0,#45347f 184px,#46317e 186.5px,#45327f 189.5px,#462d7c 195.5px,#46307d 198.5px,#462f7c 204.5px,#472c7b 207px,#472c7b 208px,#453580 0,#453580 211px,#472777 0,#472777 212.5px,#472a79 215.5px,#46307d 218.5px,#472a79 224.5px,#46307d 227px,#46307d 228px,#482071 0,#482071 231px,#45327f 0,#45327f 234px,#472b7a 0,#472b7a 240px,#45347f 0,#45347f 241.5px,#472c7b 252.5px,#472c7b 254px,#482172 0,#482172 255.5px,#482374 258.5px,#482374 260px,#472b7a 0,#472b7a 261.5px,#472777 267.5px,#472c7b 270px,#462f7c 272.5px,#462f7c 274px,#472575 0,#472575 275.5px,#472b7a 278.5px,#472777 284.5px,#472878 287.5px,#472676 290.5px,#472676 292px,#462f7c 0,#462f7c 294px,#472575 0,#472575 295.5px,#482374 298.5px,#482374 300px,#472a79 0,#472a79 303px,#482172 0,#482172 306px,#462d7c 0,#462d7c 309px,#45347f 0,#45347f 310.5px,#443781 313px,#3e4989 321.5px,#3e4989 323px,#3b518a 0,#3b518a 326px,#37588c 0,#37588c 329px,#33608d 0,#33608d 332px,#30688d 0,#30688d 335px,#2c718e 0,#2c718e 336px,#2a778e 338.5px,#29798e 341.5px,#2a778e 344.5px,#287a8e 347.5px,#29798e 350.5px,#2d6f8e 356.5px,#2d6f8e 358px,#30678d 0,#30678d 360px,#345f8d 0,#345f8d 363px,#38578c 0,#38578c 366px,#3c4d8a 0,#3c4d8a 370px)"></i>
<i class=b style="background:linear-gradient(#33608d 0,#33608d 1px,#2e6d8e 9px,#2e6d8e 10px,#2b748e 0,#2b748e 11.5px,#287a8e 14.5px,#287a8e 16px,#26818e 0,#26818e 19px,#23888d 0,#23888d 20.5px,#228b8d 23.5px,#228b8d 28px,#277d8e 0,#277d8e 31px,#228a8d 0,#228a8d 34.5px,#23878d 37.5px,#23878d 39px,#26808e 0,#26808e 42px,#29798e 0,#29798e 45px,#2c718e 0,#2c718e 48px,#2f6a8d 0,#2f6a8d 49.5px,#345f8d 54.5px,#3c4d8a 72.5px,#404387 92.5px,#414286 95.5px,#423e85 98px,#424085 100.5px,#433a83 106.5px,#423e85 109.5px,#443982 112.5px,#443982 118px,#453681 120.5px,#433b83 123.5px,#433b83 125px,#45327f 0,#45327f 126.5px,#453681 132.5px,#46307d 138.5px,#45347f 141px,#46307d 143.5px,#45327f 149.5px,#45327f 151px,#472878 0,#472878 154px,#462f7c 0,#462f7c 155.5px,#472c7b 158.5px,#46307d 161px,#462d7c 163.5px,#462d7c 166.5px,#45327f 169.5px,#45327f 171px,#482071 0,#482071 174px,#472878 0,#472878 175.5px,#472c7b 178.5px,#472676 181.5px,#472676 183px,#462f7c 0,#462f7c 184px,#472c7b 186.5px,#462d7c 189.5px,#472b7a 192.5px,#462f7c 198.5px,#462f7c 200px,#472878 0,#472878 203px,#46307d 0,#46307d 206px,#481d6f 0,#481d6f 208px,#472676 0,#472676 211px,#462d7c 0,#462d7c 212.5px,#462f7c 215.5px,#462f7c 217px,#472878 0,#472878 224.5px,#472676 227px,#472676 228px,#481a6c 0,#481a6c 231px,#472777 0,#472777 234px,#460c5f 0,#460c5f 237px,#472c7b 0,#472c7b 238.5px,#472878 241.5px,#472a79 247.5px,#472a79 249px,#482374 0,#482374 250px,#472b7a 255.5px,#472b7a 257px,#482273 0,#482273 260px,#462d7c 0,#462d7c 263px,#472676 0,#472676 264.5px,#462d7c 270px,#462d7c 271px,#482374 0,#482374 274px,#472a79 0,#472a79 275.5px,#462f7c 278.5px,#46317e 281.5px,#472c7b 284.5px,#472c7b 286px,#453681 0,#453681 287.5px,#45327f 290.5px,#45327f 292px,#443982 0,#443982 293px,#443781 295.5px,#433c84 298.5px,#404487 307.5px,#37588c 318.5px,#37588c 320px,#345f8d 0,#345f8d 323px,#31668d 0,#31668d 326px,#2d6e8e 0,#2d6e8e 329px,#2a758e 0,#2a758e 330.5px,#287a8e 333.5px,#287a8e 337px,#2e6b8e 0,#2e6b8e 340px,#287a8e 0,#287a8e 341.5px,#29788e 344.5px,#2c728e 347.5px,#2c728e 349px,#2f6a8d 0,#2f6a8d 352px,#32628d 0,#32628d 355px,#365a8c 0,#365a8c 356.5px,#3c4e8a 361.5px,#3f4788 368px,#3f4788 370px)"></i>
<i class=a style="background:linear-gradient(#3b518a 0,#3b518a 1px,#39558b 3.5px,#38578c 6.5px,#31658d 14.5px,#31658d 16px,#2e6c8e 0,#2e6c8e 19px,#2b738e 0,#2b738e 22px,#287a8e 0,#287a8e 25px,#25828e 0,#25828e 26.5px,#23888d 29.5px,#228a8d 34.5px,#23888d 37.5px,#22898d 43.5px,#24848d 46.5px,#24848d 48px,#277d8e 0,#277d8e 51px,#2a758e 0,#2a758e 53px,#2d6e8e 0,#2d6e8e 56px,#30678d 0,#30678d 57.5px,#355d8c 63.5px,#3b518a 75px,#3c4d8a 77.5px,#404487 92.5px,#414186 100.5px,#423e85 103.5px,#423e85 106.5px,#433b83 109.5px,#433c84 112.5px,#433a83 118px,#453580 123.5px,#433b83 126.5px,#453580 129.5px,#453681 135.5px,#453681 137px,#462f7c 0,#462f7c 140px,#453681 0,#453681 142px,#472575 0,#472575 145px,#453681 0,#453681 146.5px,#46307d 149.5px,#462d7c 152.5px,#462f7c 155.5px,#45347f 158.5px,#46307d 161px,#46307d 162px,#482172 0,#482172 165px,#46317e 0,#46317e 166.5px,#45347f 169.5px,#472c7b 175.5px,#472c7b 177px,#472575 0,#472575 180px,#462d7c 0,#462d7c 181.5px,#46307d 184px,#472a79 186.5px,#472a79 188px,#45327f 0,#45327f 191px,#472a79 0,#472a79 192.5px,#46317e 198.5px,#462f7c 201.5px,#462f7c 203px,#472878 0,#472878 206px,#46307d 0,#46307d 207px,#472c7b 209.5px,#472c7b 214px,#482071 0,#482071 217px,#472777 0,#472777 218.5px,#472676 221.5px,#472a79 224.5px,#482172 229.5px,#482374 232.5px,#482374 234px,#472b7a 0,#472b7a 235.5px,#472575 238.5px,#472a79 241.5px,#472878 244.5px,#472c7b 247.5px,#472878 250px,#472a79 252.5px,#472777 255.5px,#472a79 258.5px,#472878 261.5px,#472a79 267.5px,#472c7b 270px,#472c7b 271px,#472575 0,#472575 277px,#472c7b 0,#472c7b 278.5px,#46317e 284.5px,#462f7c 287.5px,#462f7c 289px,#453681 0,#453681 290.5px,#443781 293px,#433c84 295.5px,#423e85 298.5px,#3c4e8a 307.5px,#3c4e8a 309px,#39558b 0,#39558b 312px,#355d8c 0,#355d8c 314px,#31658d 0,#31658d 317px,#2e6d8e 0,#2e6d8e 320px,#2b748e 0,#2b748e 321.5px,#29788e 324.5px,#287a8e 330.5px,#29788e 333.5px,#29798e 336px,#2a758e 338.5px,#2a758e 340px,#2d6e8e 0,#2d6e8e 343px,#31658d 0,#31658d 346px,#355d8c 0,#355d8c 349px,#39558b 0,#39558b 352px,#3c4e8a 0,#3c4e8a 353.5px,#404487 359px,#423d84 364.5px,#433b83 368px,#433b83 370px)"></i>
<i class=a style="background:linear-gradient(#3d4a89 0,#3d4a89 1px,#37588c 14.5px,#33608d 20.5px,#2e6c8e 26.5px,#2e6c8e 28px,#2b738e 0,#2b738e 31px,#287a8e 0,#287a8e 33px,#25828e 0,#25828e 34.5px,#23888d 37.5px,#22898d 40.5px,#24858d 43.5px,#23898d 46.5px,#23898d 49.5px,#23878d 52px,#25828e 54.5px,#25828e 56px,#287b8e 0,#287b8e 59px,#2b738e 0,#2b738e 62px,#2e6b8e 0,#2e6b8e 65px,#31648d 0,#31648d 66.5px,#39558b 75px,#3d4b89 83.5px,#404387 95.5px,#423e85 103.5px,#433a83 112.5px,#433b83 115.5px,#443781 120.5px,#443781 123.5px,#433a83 126.5px,#433a83 128px,#462f7c 0,#462f7c 131px,#443982 0,#443982 134px,#45327f 0,#45327f 135.5px,#453580 138.5px,#45347f 141px,#462f7c 143.5px,#462f7c 146.5px,#45347f 149.5px,#46307d 152.5px,#462f7c 155.5px,#462f7c 157px,#481e70 0,#481e70 160px,#453580 0,#453580 162px,#481c6e 0,#481c6e 165px,#462f7c 0,#462f7c 166.5px,#472c7b 169.5px,#462f7c 172.5px,#462f7c 174px,#472777 0,#472777 175.5px,#472c7b 181.5px,#472878 184px,#472777 186.5px,#462d7c 189.5px,#472777 192.5px,#472575 195.5px,#472575 197px,#45327f 0,#45327f 198.5px,#472a79 204.5px,#472a79 206px,#482273 0,#482273 208px,#462d7c 0,#462d7c 209.5px,#472777 212.5px,#472676 215.5px,#472c7b 218.5px,#472777 221.5px,#472777 223px,#482071 0,#482071 226px,#472878 0,#472878 227px,#472777 232.5px,#472777 234px,#462f7c 0,#462f7c 237px,#482273 0,#482273 238.5px,#472777 241.5px,#472777 244.5px,#482273 247.5px,#472878 250px,#472878 251px,#46317e 0,#46317e 254px,#472878 0,#472878 257px,#462f7c 0,#462f7c 258.5px,#472c7b 261.5px,#45347f 267.5px,#45327f 272.5px,#443781 275.5px,#443781 278.5px,#404387 290.5px,#39558b 301.5px,#39558b 303px,#355c8c 0,#355c8c 306px,#32638d 0,#32638d 309px,#2e6b8e 0,#2e6b8e 312px,#2b738e 0,#2b738e 313px,#29788e 315.5px,#287a8e 318.5px,#287a8e 320px,#2c728e 0,#2c728e 323px,#29798e 0,#29798e 324.5px,#287a8e 327.5px,#2c708e 333.5px,#2c708e 335px,#30688d 0,#30688d 337px,#33608d 0,#33608d 340px,#37598c 0,#37598c 341.5px,#3c4d8a 347.5px,#424085 356.5px,#433b83 361.5px,#433b83 364.5px,#453681 368px,#453681 370px)"></i>
<i class=b style="background:linear-gradient(#404487 0,#404487 1px,#3e4888 3.5px,#3c4e8a 14.5px,#355c8c 26.5px,#31668d 32px,#31668d 33px,#2e6d8e 0,#2e6d8e 36px,#2a758e 0,#2a758e 37.5px,#287b8e 40.5px,#287b8e 42px,#25828e 0,#25828e 43.5px,#23878d 46.5px,#22898d 49.5px,#25838d 54.5px,#23898d 57.5px,#24868d 60.5px,#26808e 63.5px,#26808e 65px,#29798e 0,#29798e 68px,#2c718e 0,#2c718e 71px,#2f6a8d 0,#2f6a8d 74px,#32638d 0,#32638d 75px,#39558b 83.5px,#3e4888 95.5px,#433c84 112.5px,#433c84 115.5px,#443982 118px,#433a83 120.5px,#443781 123.5px,#46317e 126.5px,#453681 129.5px,#453580 135.5px,#46317e 138.5px,#45347f 141px,#45347f 142px,#462d7c 0,#462d7c 145px,#45347f 0,#45347f 148px,#462d7c 0,#462d7c 149.5px,#462f7c 155.5px,#462f7c 157px,#472676 0,#472676 160px,#45327f 0,#45327f 162px,#481e70 0,#481e70 165px,#462d7c 0,#462d7c 166.5px,#472b7a 172.5px,#472b7a 178.5px,#472878 181.5px,#472b7a 184px,#472777 186.5px,#462d7c 189.5px,#472a79 192.5px,#462d7c 198.5px,#462d7c 200px,#472676 0,#472676 203px,#462d7c 0,#462d7c 204.5px,#472c7b 207px,#482374 212.5px,#482374 214px,#472b7a 0,#472b7a 217px,#482273 0,#482273 218.5px,#472878 221.5px,#472878 223px,#48196b 0,#48196b 226px,#462f7c 0,#462f7c 228px,#472575 0,#472575 229.5px,#472878 238.5px,#472b7a 241.5px,#472b7a 243px,#482172 0,#482172 246px,#472c7b 0,#472c7b 247.5px,#472777 250px,#472878 252.5px,#472878 254px,#482172 0,#482172 257px,#462d7c 0,#462d7c 260px,#472676 0,#472676 263px,#46307d 0,#46307d 264.5px,#462f7c 270px,#45347f 272.5px,#423d84 281.5px,#3c4d8a 290.5px,#3c4d8a 292px,#39548b 0,#39548b 294px,#365b8c 0,#365b8c 297px,#32638d 0,#32638d 300px,#2e6b8e 0,#2e6b8e 303px,#2b738e 0,#2b738e 304.5px,#29788e 307.5px,#287a8e 313px,#29788e 321.5px,#2c728e 324.5px,#2c728e 326px,#2f6a8d 0,#2f6a8d 329px,#32628d 0,#32628d 332px,#365a8c 0,#365a8c 335px,#3a528b 0,#3a528b 337px,#3d4b89 0,#3d4b89 338.5px,#453681 350.5px,#46317e 353.5px,#45327f 356.5px,#45327f 358px,#472b7a 0,#472b7a 359px,#462f7c 361.5px,#462f7c 363px,#482172 0,#482172 366px,#472a79 0,#472a79 370px)"></i>
<i class=a style="background:linear-gradient(#453580 0,#453580 1px,#433c84 6.5px,#3d4a89 20.5px,#3a538b 29.5px,#345f8d 37.5px,#31658d 40.5px,#31658d 42px,#2e6c8e 0,#2e6c8e 45px,#2b748e 0,#2b748e 48px,#277c8e 0,#277c8e 51px,#25838d 0,#25838d 52px,#23878d 54.5px,#23878d 66.5px,#24858d 69.5px,#267f8e 72.5px,#267f8e 74px,#29788e 0,#29788e 76px,#2d6f8e 0,#2d6f8e 79px,#30678d 0,#30678d 82px,#33608d 0,#33608d 83.5px,#3d4b89 95.5px,#404487 100.5px,#414186 106.5px,#433b83 112.5px,#443982 120.5px,#453681 123.5px,#45347f 129.5px,#46317e 132.5px,#453681 135.5px,#453681 137px,#462f7c 0,#462f7c 138.5px,#453580 141px,#453580 142px,#472777 0,#472777 145px,#46317e 0,#46317e 146.5px,#462d7c 149.5px,#472b7a 155.5px,#462f7c 158.5px,#472b7a 161px,#472b7a 163.5px,#472575 166.5px,#462f7c 172.5px,#462d7c 175.5px,#472777 178.5px,#462d7c 181.5px,#472c7b 186.5px,#472c7b 188px,#482273 0,#482273 189.5px,#472575 192.5px,#482071 195.5px,#482071 197px,#462d7c 0,#462d7c 198.5px,#472b7a 201.5px,#472c7b 204.5px,#472777 207px,#472777 212.5px,#482273 215.5px,#482071 218.5px,#482071 220px,#472777 0,#472777 221.5px,#472878 224.5px,#472575 227px,#472777 229.5px,#472575 235.5px,#472b7a 238.5px,#472b7a 240px,#482172 0,#482172 241.5px,#482374 244.5px,#482374 246px,#46317e 0,#46317e 247.5px,#462f7c 250px,#46317e 252.5px,#46307d 255.5px,#453681 258.5px,#453681 261.5px,#433c84 267.5px,#3b508a 281.5px,#355c8c 287.5px,#355c8c 289px,#32638d 0,#32638d 292px,#2e6b8e 0,#2e6b8e 294px,#2c728e 0,#2c728e 295.5px,#29788e 298.5px,#287a8e 301.5px,#2a768e 307.5px,#287a8e 310.5px,#29798e 313px,#2b738e 315.5px,#2b738e 317px,#2e6c8e 0,#2e6c8e 320px,#31648d 0,#31648d 323px,#355d8c 0,#355d8c 326px,#38568b 0,#38568b 327.5px,#3f4788 336px,#423d84 344.5px,#453580 356.5px,#453681 359px,#46317e 364.5px,#46307d 368px,#46307d 370px)"></i>
<i class=b style="background:linear-gradient(#453681 0,#453681 1px,#433b83 3.5px,#423e85 9px,#3f4587 17.5px,#3c4d8a 29.5px,#3a538b 34.5px,#33618d 46.5px,#2e6d8e 52px,#2e6d8e 53px,#2a758e 0,#2a758e 54.5px,#287b8e 57.5px,#287b8e 59px,#25828e 0,#25828e 60.5px,#23878d 63.5px,#23888d 66.5px,#23888d 68px,#287b8e 0,#287b8e 71px,#24868d 0,#24868d 72.5px,#23878d 75px,#2a778e 83.5px,#2a778e 85px,#2d6f8e 0,#2d6f8e 88px,#30688d 0,#30688d 91px,#33618d 0,#33618d 92.5px,#3a538b 100.5px,#404387 115.5px,#404387 118px,#424085 120.5px,#433a83 129.5px,#443982 135.5px,#453580 138.5px,#453580 143.5px,#46307d 146.5px,#46317e 149.5px,#453580 152.5px,#453580 154px,#472777 0,#472777 157px,#46307d 0,#46307d 158.5px,#472c7b 161px,#472c7b 163.5px,#462f7c 166.5px,#472b7a 172.5px,#472b7a 174px,#481a6c 0,#481a6c 177px,#472b7a 0,#472b7a 178.5px,#472777 181.5px,#472878 184px,#462d7c 186.5px,#472c7b 189.5px,#462f7c 192.5px,#462f7c 194px,#472777 0,#472777 195.5px,#472b7a 198.5px,#472676 201.5px,#472b7a 204.5px,#462d7c 207px,#472c7b 209.5px,#472878 212.5px,#472878 214px,#482172 0,#482172 215.5px,#472676 218.5px,#472878 221.5px,#472777 224.5px,#482273 227px,#472878 229.5px,#462d7c 235.5px,#472777 241.5px,#472777 243px,#462f7c 0,#462f7c 246px,#472878 0,#472878 247.5px,#472a79 250px,#472a79 251px,#453580 0,#453580 252.5px,#46317e 255.5px,#433b83 261.5px,#404387 267.5px,#3c4d8a 272.5px,#3c4d8a 274px,#39548b 0,#39548b 277px,#365b8c 0,#365b8c 280px,#32638d 0,#32638d 283px,#2e6b8e 0,#2e6b8e 286px,#2c728e 0,#2c728e 287.5px,#29788e 290.5px,#287a8e 295.5px,#29798e 304.5px,#2a758e 307.5px,#2a758e 309px,#2d6e8e 0,#2d6e8e 312px,#31658d 0,#31658d 314px,#355d8c 0,#355d8c 317px,#38568b 0,#38568b 318.5px,#404487 327.5px,#414186 330.5px,#433b83 333.5px,#433a83 336px,#453681 338.5px,#45347f 341.5px,#45347f 343px,#472c7b 0,#472c7b 344.5px,#45327f 347.5px,#462d7c 350.5px,#462d7c 356.5px,#472777 361.5px,#472777 363px,#482071 0,#482071 366px,#472878 0,#472878 370px)"></i>
<i class=a style="background:linear-gradient(#472b7a 0,#472b7a 1px,#462f7c 3.5px,#443982 14.5px,#414186 26.5px,#414186 29.5px,#3f4788 34.5px,#38568b 49.5px,#31668d 57.5px,#31668d 59px,#2e6d8e 0,#2e6d8e 62px,#2a758e 0,#2a758e 63.5px,#287b8e 66.5px,#287b8e 68px,#25828e 0,#25828e 69.5px,#24868d 75px,#24858d 77.5px,#26818e 80.5px,#24868d 83.5px,#25838d 86.5px,#277d8e 89.5px,#277d8e 91px,#2a768e 0,#2a768e 94px,#2d6e8e 0,#2d6e8e 97px,#30678d 0,#30678d 98px,#365b8c 103.5px,#3d4c89 115.5px,#404487 123.5px,#404487 126.5px,#433c84 138.5px,#433c84 141px,#443781 146.5px,#443781 155.5px,#46317e 158.5px,#46317e 161px,#45347f 163.5px,#45327f 166.5px,#462d7c 169.5px,#462d7c 172.5px,#45327f 175.5px,#45327f 177px,#472676 0,#472676 180px,#462f7c 0,#462f7c 181.5px,#472c7b 184px,#46307d 186.5px,#46307d 188px,#482071 0,#482071 191px,#472c7b 0,#472c7b 192.5px,#462d7c 195.5px,#472a79 198.5px,#472c7b 201.5px,#472c7b 203px,#481d6f 0,#481d6f 206px,#462f7c 0,#462f7c 207px,#472b7a 209.5px,#462d7c 215.5px,#462d7c 217px,#482273 0,#482273 220px,#45347f 0,#45347f 223px,#472c7b 0,#472c7b 224.5px,#462d7c 227px,#46317e 229.5px,#46317e 235.5px,#443982 241.5px,#453681 244.5px,#433c84 247.5px,#3e4888 258.5px,#38578c 267.5px,#355d8c 270px,#355d8c 271px,#31648d 0,#31648d 274px,#2e6c8e 0,#2e6c8e 277px,#2b738e 0,#2b738e 278.5px,#29788e 281.5px,#287a8e 287.5px,#287a8e 289px,#2d6e8e 0,#2d6e8e 292px,#287a8e 0,#287a8e 295.5px,#2a758e 298.5px,#2a758e 300px,#2d6e8e 0,#2d6e8e 303px,#30678d 0,#30678d 306px,#345f8d 0,#345f8d 307.5px,#3c4e8a 315.5px,#404387 324.5px,#433b83 333.5px,#433b83 336px,#453681 338.5px,#443781 341.5px,#46317e 344.5px,#46317e 350.5px,#46307d 353.5px,#46307d 355px,#472777 0,#472777 356.5px,#472c7b 359px,#472c7b 364.5px,#462f7c 368px,#462f7c 370px)"></i>
<i class=a style="background:linear-gradient(#453580 0,#453580 1px,#443982 3.5px,#433a83 14.5px,#433b83 20.5px,#423e85 23.5px,#423e85 29.5px,#414286 34.5px,#3f4587 40.5px,#3e4989 43.5px,#3c4d8a 49.5px,#365a8c 60.5px,#31658d 66.5px,#31658d 68px,#2e6c8e 0,#2e6c8e 71px,#2b748e 0,#2b748e 72.5px,#287a8e 75px,#287a8e 76px,#26818e 0,#26818e 77.5px,#24858d 80.5px,#25838d 86.5px,#24858d 89.5px,#25828e 95.5px,#277d8e 98px,#277d8e 99px,#2a768e 0,#2a768e 102px,#2d6e8e 0,#2d6e8e 105px,#31668d 0,#31668d 108px,#345f8d 0,#345f8d 111px,#37588c 0,#37588c 112.5px,#3a538b 115.5px,#3a538b 117px,#3d4c89 0,#3d4c89 118px,#423e85 126.5px,#433c84 129.5px,#453681 132.5px,#443781 135.5px,#45347f 138.5px,#45347f 146.5px,#46317e 149.5px,#45327f 152.5px,#462f7c 155.5px,#46317e 161px,#472c7b 163.5px,#45327f 166.5px,#45327f 168px,#472a79 0,#472a79 169.5px,#46307d 175.5px,#46307d 177px,#471669 0,#471669 180px,#45347f 0,#45347f 183px,#472c7b 0,#472c7b 185px,#45347f 0,#45347f 188px,#472a79 0,#472a79 191px,#46317e 0,#46317e 194px,#472a79 0,#472a79 201.5px,#46307d 204.5px,#46307d 206px,#471265 0,#471265 208px,#46307d 0,#46307d 211px,#472777 0,#472777 214px,#45347f 0,#45347f 217px,#472575 0,#472575 220px,#46307d 0,#46307d 221.5px,#453580 227px,#45347f 229.5px,#433a83 235.5px,#424085 244.5px,#3b518a 255.5px,#355d8c 261.5px,#355d8c 263px,#31658d 0,#31658d 266px,#2e6c8e 0,#2e6c8e 269px,#2b748e 0,#2b748e 270px,#29798e 272.5px,#287b8e 275.5px,#2a778e 278.5px,#287a8e 281.5px,#287a8e 287.5px,#2a768e 290.5px,#2a768e 292px,#2d6f8e 0,#2d6f8e 294px,#30678d 0,#30678d 297px,#345f8d 0,#345f8d 300px,#37588c 0,#37588c 301.5px,#3f4788 310.5px,#433c84 318.5px,#433b83 321.5px,#453681 324.5px,#453681 327.5px,#46307d 333.5px,#46307d 338.5px,#472777 344.5px,#472c7b 347.5px,#472c7b 350.5px,#472676 353.5px,#472676 355px,#462d7c 0,#462d7c 356.5px,#472777 359px,#472c7b 361.5px,#472a79 364.5px,#472a79 370px)"></i>
<i class=b style="background:linear-gradient(#45347f 0,#45347f 1px,#453681 3.5px,#443781 11.5px,#443982 14.5px,#443781 17.5px,#433a83 20.5px,#443982 23.5px,#414286 40.5px,#3f4587 49.5px,#3e4989 52px,#3c4d8a 57.5px,#365a8c 69.5px,#31658d 75px,#31658d 76px,#2e6c8e 0,#2e6c8e 79px,#2b738e 0,#2b738e 82px,#287a8e 0,#287a8e 83.5px,#24848d 89.5px,#24858d 92.5px,#24858d 94px,#277d8e 0,#277d8e 95.5px,#25838d 98px,#24848d 100.5px,#277d8e 106.5px,#2a778e 109.5px,#2a778e 111px,#2d6f8e 0,#2d6f8e 114px,#30688d 0,#30688d 117px,#33618d 0,#33618d 118px,#38568b 123.5px,#3d4c89 129.5px,#414286 138.5px,#433c84 143.5px,#453681 152.5px,#45327f 155.5px,#45327f 158.5px,#472c7b 163.5px,#462d7c 172.5px,#472a79 175.5px,#472b7a 181.5px,#46307d 186.5px,#472b7a 189.5px,#472c7b 192.5px,#472c7b 194px,#471163 0,#471163 197px,#482071 0,#482071 198.5px,#481e70 201.5px,#481e70 203px,#472676 0,#472676 204.5px,#482172 207px,#472575 209.5px,#482071 212.5px,#482071 214px,#472b7a 0,#472b7a 215.5px,#462f7c 218.5px,#462f7c 220px,#472777 0,#472777 223px,#46317e 0,#46317e 227px,#443781 232.5px,#423d84 235.5px,#424085 238.5px,#38578c 250px,#38578c 251px,#345f8d 0,#345f8d 254px,#30678d 0,#30678d 257px,#2d6e8e 0,#2d6e8e 260px,#2a758e 0,#2a758e 261.5px,#287a8e 264.5px,#287b8e 270px,#29788e 272.5px,#287a8e 278.5px,#2a768e 281.5px,#2a768e 283px,#2d6f8e 0,#2d6f8e 286px,#30678d 0,#30678d 289px,#345f8d 0,#345f8d 290.5px,#3c4d8a 298.5px,#414286 307.5px,#433b83 315.5px,#453681 318.5px,#443982 321.5px,#443982 323px,#46317e 0,#46317e 324.5px,#453580 327.5px,#462d7c 333.5px,#45327f 336px,#45327f 337px,#472777 0,#472777 338.5px,#462d7c 341.5px,#472777 350.5px,#472b7a 353.5px,#472a79 356.5px,#472a79 358px,#481d6f 0,#481d6f 360px,#472575 0,#472575 361.5px,#472878 364.5px,#472878 366px,#481e70 0,#481e70 370px)"></i>
<i class=a style="background:linear-gradient(#472878 0,#472878 1px,#472b7a 3.5px,#472b7a 14.5px,#462f7c 17.5px,#462d7c 20.5px,#472a79 23.5px,#472a79 25px,#453681 0,#453681 26.5px,#45347f 29.5px,#462f7c 32px,#462f7c 33px,#443781 0,#443781 36px,#46307d 0,#46307d 37.5px,#443781 43.5px,#453681 46.5px,#433c84 52px,#433a83 54.5px,#424085 57.5px,#3f4587 66.5px,#3c4d8a 72.5px,#32628d 83.5px,#32628d 85px,#2f6a8d 0,#2f6a8d 88px,#2c718e 0,#2c718e 91px,#29798e 0,#29798e 92.5px,#25838d 98px,#24848d 103.5px,#24848d 105px,#277d8e 0,#277d8e 106.5px,#25838d 109.5px,#25828e 112.5px,#2a778e 118px,#2a778e 119px,#2c708e 0,#2c708e 122px,#2f698d 0,#2f698d 125px,#32628d 0,#32628d 126.5px,#37588c 132.5px,#3d4a89 143.5px,#424085 155.5px,#414186 158.5px,#433c84 161px,#423d84 163.5px,#443982 169.5px,#433a83 172.5px,#453681 175.5px,#453681 181.5px,#45347f 184px,#453681 189.5px,#46317e 192.5px,#453681 195.5px,#46307d 198.5px,#453580 201.5px,#443781 212.5px,#423d84 221.5px,#404387 227px,#3e4888 229.5px,#3b508a 235.5px,#33618d 244.5px,#33618d 246px,#2f698d 0,#2f698d 249px,#2c708e 0,#2c708e 250px,#2a768e 252.5px,#277c8e 258.5px,#29788e 261.5px,#277c8e 267.5px,#287a8e 270px,#2d6f8e 275.5px,#2d6f8e 277px,#30678d 0,#30678d 280px,#33608d 0,#33608d 283px,#37598c 0,#37598c 284.5px,#404487 295.5px,#433b83 304.5px,#443781 310.5px,#45327f 313px,#46307d 315.5px,#453580 318.5px,#453580 320px,#472b7a 0,#472b7a 321.5px,#462f7c 324.5px,#472c7b 327.5px,#462d7c 330.5px,#472a79 333.5px,#472878 338.5px,#482374 341.5px,#482374 343px,#472a79 0,#472a79 346px,#482071 0,#482071 349px,#472878 0,#472878 350.5px,#472676 353.5px,#472777 356.5px,#462d7c 359px,#462d7c 360px,#482273 0,#482273 361.5px,#481d6f 364.5px,#481d6f 366px,#472b7a 0,#472b7a 370px)"></i>
<i class=b style="background:linear-gradient(#481d6f 0,#481d6f 1px,#482172 3.5px,#482172 6.5px,#472575 9px,#472676 11.5px,#482273 14.5px,#482273 16px,#472a79 0,#472a79 22px,#45347f 0,#45347f 23.5px,#462f7c 26.5px,#45347f 29.5px,#45347f 31px,#462d7c 0,#462d7c 32px,#453580 37.5px,#46317e 40.5px,#453681 43.5px,#453580 46.5px,#433a83 52px,#443982 54.5px,#423d84 57.5px,#423d84 60.5px,#424085 63.5px,#424085 66.5px,#404487 69.5px,#3f4587 72.5px,#38568b 86.5px,#33618d 92.5px,#33618d 94px,#30688d 0,#30688d 97px,#2d6f8e 0,#2d6f8e 99px,#2a778e 0,#2a778e 100.5px,#25828e 106.5px,#25838d 109.5px,#26808e 112.5px,#25828e 115.5px,#25828e 120.5px,#29798e 126.5px,#29798e 128px,#2c718e 0,#2c718e 131px,#2f6a8d 0,#2f6a8d 134px,#32638d 0,#32638d 137px,#355c8c 0,#355c8c 138.5px,#3a538b 143.5px,#3d4b89 149.5px,#404487 158.5px,#424085 163.5px,#433a83 175.5px,#443982 181.5px,#443781 184px,#443982 186.5px,#453580 189.5px,#443982 192.5px,#443781 198.5px,#433b83 201.5px,#433b83 204.5px,#423e85 209.5px,#414286 212.5px,#404387 215.5px,#3c4d8a 224.5px,#355d8c 232.5px,#355d8c 234px,#31648d 0,#31648d 237px,#2e6b8e 0,#2e6b8e 240px,#2c728e 0,#2c728e 241.5px,#29788e 244.5px,#287b8e 247.5px,#29798e 252.5px,#287b8e 255.5px,#287a8e 261.5px,#2a758e 264.5px,#2a758e 266px,#2d6e8e 0,#2d6e8e 269px,#31668d 0,#31668d 271px,#345e8d 0,#345e8d 274px,#38578c 0,#38578c 277px,#3b508a 0,#3b508a 280px,#3e4989 0,#3e4989 281.5px,#443982 290.5px,#462f7c 295.5px,#46317e 298.5px,#46317e 300px,#472575 0,#472575 301.5px,#482273 304.5px,#482273 306px,#472c7b 0,#472c7b 307.5px,#472878 310.5px,#472a79 313px,#472a79 314px,#482172 0,#482172 315.5px,#481e70 318.5px,#481e70 320px,#462f7c 0,#462f7c 323px,#482172 0,#482172 326px,#472b7a 0,#472b7a 329px,#481c6e 0,#481c6e 330.5px,#482172 333.5px,#482172 335px,#472878 0,#472878 336px,#472575 344.5px,#481c6e 350.5px,#481c6e 352px,#472575 0,#472575 356.5px,#482172 359px,#472676 361.5px,#472676 363px,#481e70 0,#481e70 366px,#472676 0,#472676 370px)"></i>
<i class=a style="background:linear-gradient(#482071 0,#482071 1px,#482374 3.5px,#482374 6.5px,#472575 11.5px,#472a79 17.5px,#472a79 19px,#482071 0,#482071 22px,#48196b 0,#48196b 25px,#453580 0,#453580 28px,#472c7b 0,#472c7b 29.5px,#46317e 32px,#462d7c 34.5px,#462f7c 37.5px,#45347f 40.5px,#453681 46.5px,#453580 52px,#443982 57.5px,#433b83 63.5px,#423e85 66.5px,#423d84 69.5px,#414186 72.5px,#3d4c89 86.5px,#38568b 95.5px,#31668d 103.5px,#31668d 105px,#2e6d8e 0,#2e6d8e 108px,#2a758e 0,#2a758e 109.5px,#26808e 115.5px,#25838d 118px,#26808e 120.5px,#267f8e 123.5px,#25828e 126.5px,#267f8e 132.5px,#2b748e 138.5px,#2b748e 140px,#2e6c8e 0,#2e6c8e 142px,#31648d 0,#31648d 145px,#355d8c 0,#355d8c 146.5px,#3d4c89 155.5px,#423d84 166.5px,#45347f 175.5px,#45347f 184px,#462d7c 189.5px,#462d7c 191px,#443982 0,#443982 192.5px,#45347f 195.5px,#443982 198.5px,#433a83 201.5px,#3c4d8a 215.5px,#345f8d 224.5px,#345f8d 226px,#31668d 0,#31668d 228px,#2d6e8e 0,#2d6e8e 231px,#2a758e 0,#2a758e 232.5px,#287a8e 235.5px,#287b8e 244.5px,#29798e 247.5px,#277c8e 250px,#287a8e 252.5px,#2b748e 255.5px,#2b748e 257px,#2e6d8e 0,#2e6d8e 260px,#31658d 0,#31658d 263px,#345e8d 0,#345e8d 266px,#38578c 0,#38578c 267.5px,#3d4c89 272.5px,#423e85 284.5px,#453580 295.5px,#46307d 298.5px,#45327f 301.5px,#46307d 304.5px,#46307d 306px,#472676 0,#472676 309px,#462d7c 0,#462d7c 310.5px,#472878 315.5px,#472777 318.5px,#472b7a 321.5px,#472b7a 323px,#481d6f 0,#481d6f 326px,#472878 0,#472878 327.5px,#482374 330.5px,#482374 332px,#471466 0,#471466 335px,#472a79 0,#472a79 336px,#462d7c 338.5px,#462d7c 340px,#482273 0,#482273 343px,#47186a 0,#47186a 346px,#482273 0,#482273 347.5px,#472676 353.5px,#472a79 356.5px,#482273 364.5px,#481c6e 368px,#481c6e 370px)"></i>
<i class=a style="background:linear-gradient(#482374 0,#482374 1px,#472777 3.5px,#472676 9px,#472878 11.5px,#472777 14.5px,#462d7c 17.5px,#472c7b 20.5px,#45327f 23.5px,#45327f 25px,#481d6f 0,#481d6f 28px,#46317e 0,#46317e 29.5px,#472c7b 32px,#46317e 34.5px,#46317e 36px,#472777 0,#472777 39px,#46317e 0,#46317e 42px,#472a79 0,#472a79 45px,#453580 0,#453580 48px,#472878 0,#472878 51px,#453580 0,#453580 53px,#472c7b 0,#472c7b 56px,#45347f 0,#45347f 57.5px,#45327f 60.5px,#443982 69.5px,#443781 72.5px,#433c84 75px,#423d84 80.5px,#414186 83.5px,#404387 89.5px,#3d4c89 98px,#37588c 106.5px,#31648d 112.5px,#31648d 114px,#2e6b8e 0,#2e6b8e 117px,#2c728e 0,#2c728e 119px,#29798e 0,#29798e 120.5px,#26818e 126.5px,#25828e 129.5px,#25828e 131px,#287b8e 0,#287b8e 132.5px,#26808e 135.5px,#25828e 138.5px,#2a768e 146.5px,#2a768e 148px,#2d6f8e 0,#2d6f8e 151px,#30678d 0,#30678d 154px,#33608d 0,#33608d 155.5px,#3c4e8a 163.5px,#423e85 175.5px,#443781 184px,#443982 186.5px,#453681 189.5px,#404487 201.5px,#3c4e8a 207px,#3c4e8a 208px,#39558b 0,#39558b 209.5px,#365b8c 212.5px,#365b8c 214px,#32638d 0,#32638d 217px,#2f6a8d 0,#2f6a8d 220px,#2c728e 0,#2c728e 221.5px,#29788e 224.5px,#277c8e 229.5px,#277c8e 234px,#2b748e 0,#2b748e 237px,#277c8e 0,#277c8e 238.5px,#29788e 244.5px,#2c728e 247.5px,#2c728e 249px,#2e6b8e 0,#2e6b8e 251px,#31648d 0,#31648d 254px,#355d8c 0,#355d8c 255.5px,#3c4d8a 264.5px,#404387 272.5px,#443982 284.5px,#443982 287.5px,#45347f 293px,#45347f 295.5px,#46317e 298.5px,#462f7c 304.5px,#472c7b 310.5px,#46317e 313px,#46317e 314px,#471669 0,#471669 317px,#462d7c 0,#462d7c 318.5px,#472878 321.5px,#472878 324.5px,#462d7c 327.5px,#472a79 330.5px,#46307d 333.5px,#46307d 335px,#482071 0,#482071 337px,#462d7c 0,#462d7c 338.5px,#472a79 341.5px,#472a79 343px,#482172 0,#482172 346px,#472a79 0,#472a79 349px,#482374 0,#482374 350.5px,#472575 353.5px,#472a79 356.5px,#472a79 358px,#470f62 0,#470f62 360px,#472a79 0,#472a79 363px,#481a6c 0,#481a6c 364.5px,#481c6e 368px,#481c6e 370px)"></i>
<i class=b style="background:linear-gradient(#471567 0,#471567 1px,#47186a 3.5px,#471669 9px,#471669 10px,#482273 0,#482273 11.5px,#482172 17.5px,#482172 19px,#472a79 0,#472a79 20.5px,#472c7b 23.5px,#472878 29.5px,#472878 31px,#46307d 0,#46307d 32px,#462f7c 34.5px,#45327f 37.5px,#45347f 40.5px,#46317e 43.5px,#46317e 48px,#482273 0,#482273 49.5px,#472676 52px,#472676 56px,#46317e 0,#46317e 57.5px,#472c7b 60.5px,#472a79 63.5px,#472a79 65px,#47186a 0,#47186a 68px,#472c7b 0,#472c7b 69.5px,#462d7c 72.5px,#472878 75px,#462d7c 77.5px,#472878 80.5px,#472878 82px,#46307d 0,#46307d 85px,#472878 0,#472878 88px,#462f7c 0,#462f7c 89.5px,#453580 92.5px,#453681 95.5px,#3c4e8a 112.5px,#33608d 120.5px,#33608d 122px,#30678d 0,#30678d 125px,#2d6f8e 0,#2d6f8e 128px,#2a768e 0,#2a768e 129.5px,#277c8e 132.5px,#26818e 138.5px,#26818e 142px,#29788e 0,#29788e 145px,#26808e 0,#26808e 149.5px,#29788e 155.5px,#29788e 157px,#2c718e 0,#2c718e 160px,#2f6a8d 0,#2f6a8d 162px,#32638d 0,#32638d 163.5px,#3c4e8a 175.5px,#3f4788 181.5px,#414186 184px,#423e85 186.5px,#39548b 198.5px,#33608d 204.5px,#33608d 206px,#30678d 0,#30678d 208px,#2d6e8e 0,#2d6e8e 211px,#2a758e 0,#2a758e 212.5px,#287a8e 215.5px,#277d8e 221.5px,#277d8e 223px,#2a768e 0,#2a768e 224.5px,#287b8e 227px,#277d8e 229.5px,#2a778e 235.5px,#2c718e 238.5px,#2c718e 240px,#2f698d 0,#2f698d 243px,#32628d 0,#32628d 246px,#365b8c 0,#365b8c 247.5px,#39558b 250px,#39558b 251px,#3c4e8a 0,#3c4e8a 252.5px,#423d84 264.5px,#433b83 267.5px,#443781 270px,#443781 272.5px,#462d7c 278.5px,#46317e 281.5px,#472c7b 284.5px,#472a79 290.5px,#472c7b 293px,#472c7b 294px,#481d6f 0,#481d6f 297px,#472a79 0,#472a79 298.5px,#472676 301.5px,#472878 304.5px,#472878 306px,#482172 0,#482172 309px,#472b7a 0,#472b7a 312px,#482374 0,#482374 313px,#472878 315.5px,#481c6e 321.5px,#481c6e 323px,#472b7a 0,#472b7a 326px,#481d6f 0,#481d6f 327.5px,#481c6e 330.5px,#481c6e 332px,#472777 0,#472777 336px,#482374 338.5px,#482172 344.5px,#482172 346px,#472b7a 0,#472b7a 347.5px,#472a79 350.5px,#472a79 352px,#481c6e 0,#481c6e 353.5px,#481a6c 356.5px,#481a6c 358px,#482172 0,#482172 359px,#472575 361.5px,#482374 364.5px,#482374 366px,#440154 0,#440154 370px)"></i>
<i class=a style="background:linear-gradient(#471466 0,#471466 1px,#47186a 3.5px,#47186a 9px,#481e70 11.5px,#481e70 16px,#472575 0,#472575 23.5px,#482071 26.5px,#482374 29.5px,#482374 33px,#472b7a 0,#472b7a 36px,#453580 0,#453580 37.5px,#45327f 40.5px,#45327f 42px,#472575 0,#472575 45px,#462d7c 0,#462d7c 48px,#472676 0,#472676 51px,#46317e 0,#46317e 52px,#46307d 54.5px,#472c7b 57.5px,#462f7c 60.5px,#462f7c 62px,#472878 0,#472878 63.5px,#472c7b 69.5px,#472878 72.5px,#472878 74px,#462f7c 0,#462f7c 75px,#472c7b 77.5px,#46307d 80.5px,#46317e 86.5px,#443781 92.5px,#453580 95.5px,#433a83 98px,#433c84 100.5px,#433c84 103.5px,#414286 109.5px,#3e4888 115.5px,#3a538b 123.5px,#355d8c 129.5px,#355d8c 131px,#31648d 0,#31648d 134px,#2e6b8e 0,#2e6b8e 137px,#2b738e 0,#2b738e 140px,#287a8e 0,#287a8e 141px,#277e8e 143.5px,#26808e 146.5px,#267f8e 152.5px,#287b8e 155.5px,#26808e 158.5px,#287a8e 163.5px,#2b748e 166.5px,#2b748e 168px,#2e6d8e 0,#2e6d8e 171px,#31668d 0,#31668d 172.5px,#39558b 181.5px,#3a528b 184px,#3a538b 186.5px,#345e8d 192.5px,#345e8d 194px,#31658d 0,#31658d 197px,#2e6c8e 0,#2e6c8e 198.5px,#277c8e 207px,#277e8e 209.5px,#287a8e 212.5px,#287a8e 215.5px,#277d8e 218.5px,#287a8e 224.5px,#2a758e 227px,#2a758e 228px,#2d6e8e 0,#2d6e8e 231px,#30678d 0,#30678d 234px,#345f8d 0,#345f8d 235.5px,#3c4d8a 244.5px,#414186 252.5px,#443982 261.5px,#443982 266px,#46317e 0,#46317e 267.5px,#443781 270px,#45327f 272.5px,#45327f 274px,#472676 0,#472676 277px,#45347f 0,#45347f 280px,#472a79 0,#472a79 281.5px,#462f7c 284.5px,#462d7c 287.5px,#462d7c 289px,#481d6f 0,#481d6f 292px,#472c7b 0,#472c7b 293px,#472777 295.5px,#472b7a 298.5px,#472b7a 300px,#482374 0,#482374 303px,#472b7a 0,#472b7a 307.5px,#46307d 310.5px,#46307d 312px,#472878 0,#472878 314px,#481e70 0,#481e70 317px,#472676 0,#472676 318.5px,#472b7a 321.5px,#472b7a 323px,#481a6c 0,#481a6c 326px,#472878 0,#472878 327.5px,#472777 330.5px,#472777 332px,#462f7c 0,#462f7c 335px,#472878 0,#472878 336px,#482273 338.5px,#482273 340px,#472c7b 0,#472c7b 343px,#472575 0,#472575 346px,#481d6f 0,#481d6f 349px,#472a79 0,#472a79 352px,#48196b 0,#48196b 355px,#472777 0,#472777 356.5px,#482374 359px,#482374 361.5px,#472777 364.5px,#472777 366px,#460b5e 0,#460b5e 370px)"></i>
<i class=b style="background:linear-gradient(#481e70 0,#481e70 1px,#482273 3.5px,#482374 9px,#482071 14.5px,#482071 16px,#472a79 0,#472a79 19px,#482374 0,#482374 22px,#472b7a 0,#472b7a 23.5px,#472777 29.5px,#462d7c 32px,#472b7a 37.5px,#472b7a 43.5px,#462f7c 46.5px,#462d7c 49.5px,#46307d 52px,#472b7a 57.5px,#472b7a 59px,#482273 0,#482273 60.5px,#472777 63.5px,#472777 65px,#46317e 0,#46317e 68px,#472a79 0,#472a79 69.5px,#462f7c 72.5px,#472c7b 75px,#45347f 80.5px,#45347f 82px,#472878 0,#472878 85px,#443781 0,#443781 86.5px,#45327f 89.5px,#443781 95.5px,#443982 98px,#443781 100.5px,#433b83 103.5px,#423e85 112.5px,#404487 120.5px,#3b518a 132.5px,#365a8c 138.5px,#33608d 141px,#33608d 142px,#30678d 0,#30678d 145px,#2d6e8e 0,#2d6e8e 148px,#2a768e 0,#2a768e 149.5px,#267f8e 155.5px,#277d8e 166.5px,#267f8e 169.5px,#29788e 175.5px,#29788e 177px,#2c718e 0,#2c718e 180px,#2f698d 0,#2f698d 183px,#365a8c 0,#365a8c 185px,#30688d 0,#30688d 188px,#2c708e 0,#2c708e 191px,#2a778e 0,#2a778e 192.5px,#277e8e 198.5px,#287a8e 204.5px,#277d8e 207px,#277c8e 212.5px,#29798e 215.5px,#29798e 217px,#2c728e 0,#2c728e 220px,#2e6b8e 0,#2e6b8e 223px,#32638d 0,#32638d 226px,#355c8c 0,#355c8c 227px,#3d4b89 235.5px,#404387 241.5px,#423d84 247.5px,#433a83 252.5px,#453681 255.5px,#443982 258.5px,#46317e 264.5px,#453580 267.5px,#45347f 270px,#46307d 272.5px,#46307d 283px,#472777 0,#472777 286px,#46307d 0,#46307d 287.5px,#462d7c 290.5px,#462d7c 292px,#472575 0,#472575 293px,#472777 295.5px,#472777 297px,#46317e 0,#46317e 300px,#472575 0,#472575 301.5px,#472a79 304.5px,#472a79 306px,#482374 0,#482374 309px,#462d7c 0,#462d7c 312px,#482374 0,#482374 314px,#481a6c 0,#481a6c 317px,#462d7c 0,#462d7c 320px,#482071 0,#482071 321.5px,#472676 327.5px,#472676 332px,#481d6f 0,#481d6f 335px,#462d7c 0,#462d7c 337px,#472676 0,#472676 338.5px,#482374 341.5px,#482374 343px,#471669 0,#471669 346px,#472878 0,#472878 347.5px,#472575 353.5px,#472575 355px,#481e70 0,#481e70 358px,#472777 0,#472777 360px,#481e70 0,#481e70 361.5px,#481d6f 364.5px,#481d6f 366px,#472878 0,#472878 370px)"></i>
<i class=a style="background:linear-gradient(#38b976 0,#38b976 1px,#3dbb74 3.5px,#3ebc73 6.5px,#45bf6f 11.5px,#49c16d 20.5px,#47c06e 26.5px,#42be71 32px,#39b976 37.5px,#30b47a 43.5px,#28ae7f 54.5px,#23a883 72.5px,#20a485 92.5px,#1e9e88 132.5px,#1e998a 169.5px,#208f8c 287.5px,#228b8d 338.5px,#228a8d 364.5px,#23888d 368px,#23888d 370px)"></i></div>
<div id="cb"></div>
<b style="left:169px;top:59px;width:1px;height:368px;background:rgba(176,176,176,.67)"></b>
<b style="left:168px;top:59px;width:1px;height:368px;background:rgba(176,176,176,.033)"></b>
<b style="left:170px;top:59px;width:1px;height:368px;background:rgba(176,176,176,.033)"></b>
<b style="left:205px;top:59px;width:1px;height:368px;background:rgba(176,176,176,.67)"></b>
<b style="left:204px;top:59px;width:1px;height:368px;background:rgba(176,176,176,.033)"></b>
<b style="left:206px;top:59px;width:1px;height:368px;background:rgba(176,176,176,.033)"></b>
<b style="left:233px;top:59px;width:1px;height:368px;background:rgba(176,176,176,.67)"></b>
<b style="left:232px;top:59px;width:1px;height:368px;background:rgba(176,176,176,.033)"></b>
<b style="left:234px;top:59px;width:1px;height:368px;background:rgba(176,176,176,.033)"></b>
<b style="left:255px;top:59px;width:1px;height:368px;background:rgba(176,176,176,.67)"></b>
<b style="left:254px;top:59px;width:1px;height:368px;background:rgba(176,176,176,.033)"></b>
<b style="left:256px;top:59px;width:1px;height:368px;background:rgba(176,176,176,.033)"></b>
<b style="left:275px;top:59px;width:1px;height:368px;background:rgba(176,176,176,.67)"></b>
<b style="left:274px;top:59px;width:1px;height:368px;background:rgba(176,176,176,.033)"></b>
<b style="left:276px;top:59px;width:1px;height:368px;background:rgba(176,176,176,.033)"></b>
<b style="left:291px;top:59px;width:1px;height:368px;background:rgba(176,176,176,.67)"></b>
<b style="left:290px;top:59px;width:1px;height:368px;background:rgba(176,176,176,.033)"></b>
<b style="left:292px;top:59px;width:1px;height:368px;background:rgba(176,176,176,.033)"></b>
<b style="left:306px;top:59px;width:1px;height:368px;background:rgba(176,176,176,.67)"></b>
<b style="left:305px;top:59px;width:1px;height:368px;background:rgba(176,176,176,.033)"></b>
<b style="left:307px;top:59px;width:1px;height:368px;background:rgba(176,176,176,.033)"></b>
<b style="left:319px;top:59px;width:1px;height:368px;background:rgba(176,176,176,.67)"></b>
<b style="left:318px;top:59px;width:1px;height:368px;background:rgba(176,176,176,.033)"></b>
<b style="left:320px;top:59px;width:1px;height:368px;background:rgba(176,176,176,.033)"></b>
<b style="left:331px;top:59px;width:1px;height:368px;background:rgba(176,176,176,.67)"></b>
<b style="left:330px;top:59px;width:1px;height:368px;background:rgba(176,176,176,.033)"></b>
<b style="left:332px;top:59px;width:1px;height:368px;background:rgba(176,176,176,.033)"></b>
<b style="left:342px;top:59px;width:1px;height:368px;background:rgba(176,176,176,.67)"></b>
<b style="left:341px;top:59px;width:1px;height:368px;background:rgba(176,176,176,.033)"></b>
<b style="left:343px;top:59px;width:1px;height:368px;background:rgba(176,176,176,.033)"></b>
<b style="left:417px;top:59px;width:1px;height:368px;background:rgba(176,176,176,.67)"></b>
<b style="left:416px;top:59px;width:1px;height:368px;background:rgba(176,176,176,.033)"></b>
<b style="left:418px;top:59px;width:1px;height:368px;background:rgba(176,176,176,.033)"></b>
<b style="left:464px;top:59px;width:1px;height:368px;background:rgba(176,176,176,.67)"></b>
<b style="left:463px;top:59px;width:1px;height:368px;background:rgba(176,176,176,.033)"></b>
<b style="left:465px;top:59px;width:1px;height:368px;background:rgba(176,176,176,.033)"></b>
<b style="left:498px;top:59px;width:1px;height:368px;background:rgba(176,176,176,.67)"></b>
<b style="left:497px;top:59px;width:1px;height:368px;background:rgba(176,176,176,.033)"></b>
<b style="left:499px;top:59px;width:1px;height:368px;background:rgba(176,176,176,.033)"></b>
<b style="left:525px;top:59px;width:1px;height:368px;background:rgba(176,176,176,.67)"></b>
<b style="left:524px;top:59px;width:1px;height:368px;background:rgba(176,176,176,.033)"></b>
<b style="left:526px;top:59px;width:1px;height:368px;background:rgba(176,176,176,.033)"></b>
<b style="left:547px;top:59px;width:1px;height:368px;background:rgba(176,176,176,.67)"></b>
<b style="left:546px;top:59px;width:1px;height:368px;background:rgba(176,176,176,.033)"></b>
<b style="left:548px;top:59px;width:1px;height:368px;background:rgba(176,176,176,.033)"></b>
<b style="left:565px;top:59px;width:1px;height:368px;background:rgba(176,176,176,.67)"></b>
<b style="left:564px;top:59px;width:1px;height:368px;background:rgba(176,176,176,.033)"></b>
<b style="left:566px;top:59px;width:1px;height:368px;background:rgba(176,176,176,.033)"></b>
<b style="left:581px;top:59px;width:1px;height:368px;background:rgba(176,176,176,.67)"></b>
<b style="left:580px;top:59px;width:1px;height:368px;background:rgba(176,176,176,.033)"></b>
<b style="left:582px;top:59px;width:1px;height:368px;background:rgba(176,176,176,.033)"></b>
<b style="left:596px;top:59px;width:1px;height:368px;background:rgba(176,176,176,.67)"></b>
<b style="left:595px;top:59px;width:1px;height:368px;background:rgba(176,176,176,.033)"></b>
<b style="left:597px;top:59px;width:1px;height:368px;background:rgba(176,176,176,.033)"></b>
<b style="left:609px;top:59px;width:1px;height:368px;background:rgba(176,176,176,.67)"></b>
<b style="left:608px;top:59px;width:1px;height:368px;background:rgba(176,176,176,.033)"></b>
<b style="left:610px;top:59px;width:1px;height:368px;background:rgba(176,176,176,.033)"></b>
<b style="left:666px;top:59px;width:1px;height:368px;background:rgba(176,176,176,.67)"></b>
<b style="left:665px;top:59px;width:1px;height:368px;background:rgba(176,176,176,.033)"></b>
<b style="left:667px;top:59px;width:1px;height:368px;background:rgba(176,176,176,.033)"></b>
<b style="left:694px;top:59px;width:1px;height:368px;background:rgba(176,176,176,.67)"></b>
<b style="left:693px;top:59px;width:1px;height:368px;background:rgba(176,176,176,.033)"></b>
<b style="left:695px;top:59px;width:1px;height:368px;background:rgba(176,176,176,.033)"></b>
<b style="left:121px;top:196px;width:594px;height:1px;background:rgba(176,176,176,.67)"></b>
<b style="left:121px;top:195px;width:594px;height:1px;background:rgba(176,176,176,.033)"></b>
<b style="left:121px;top:197px;width:594px;height:1px;background:rgba(176,176,176,.033)"></b>
<b style="left:121px;top:312px;width:594px;height:1px;background:rgba(176,176,176,.67)"></b>
<b style="left:121px;top:311px;width:594px;height:1px;background:rgba(176,176,176,.033)"></b>
<b style="left:121px;top:313px;width:594px;height:1px;background:rgba(176,176,176,.033)"></b>
<b style="left:121px;top:404px;width:594px;height:1px;background:rgba(176,176,176,.67)"></b>
<b style="left:121px;top:403px;width:594px;height:1px;background:rgba(176,176,176,.033)"></b>
<b style="left:121px;top:405px;width:594px;height:1px;background:rgba(176,176,176,.033)"></b>
<b style="left:121px;top:59px;width:594px;height:1px;background:rgba(176,176,176,.033)"></b>
<b style="left:120px;top:58px;width:596px;height:1px;background:#000"></b>
<b style="left:120px;top:427px;width:596px;height:1px;background:#000"></b>
<b style="left:120px;top:59px;width:1px;height:368px;background:#000"></b>
<b style="left:715px;top:59px;width:1px;height:368px;background:#000"></b>
<b style="left:120px;top:57px;width:596px;height:1px;background:rgba(0,0,0,.055)"></b>
<b style="left:120px;top:428px;width:596px;height:1px;background:rgba(0,0,0,.055)"></b>
<b style="left:119px;top:58px;width:1px;height:370px;background:rgba(0,0,0,.055)"></b>
<b style="left:716px;top:58px;width:1px;height:370px;background:rgba(0,0,0,.055)"></b>
<b style="left:121px;top:59px;width:594px;height:1px;background:rgba(0,0,0,.055)"></b>
<b style="left:121px;top:426px;width:594px;height:1px;background:rgba(0,0,0,.055)"></b>
<b style="left:121px;top:60px;width:1px;height:366px;background:rgba(0,0,0,.055)"></b>
<b style="left:714px;top:60px;width:1px;height:366px;background:rgba(0,0,0,.055)"></b>
<b style="left:752px;top:58px;width:20px;height:1px;background:#000"></b>
<b style="left:752px;top:427px;width:20px;height:1px;background:#000"></b>
<b style="left:752px;top:59px;width:1px;height:368px;background:#000"></b>
<b style="left:771px;top:59px;width:1px;height:368px;background:#000"></b>
<b style="left:752px;top:58px;width:1px;height:1px;background:rgba(255,255,255,.094)"></b>
<b style="left:771px;top:58px;width:1px;height:1px;background:rgba(255,255,255,.094)"></b>
<b style="left:752px;top:427px;width:1px;height:1px;background:rgba(255,255,255,.094)"></b>
<b style="left:771px;top:427px;width:1px;height:1px;background:rgba(255,255,255,.094)"></b>
<b style="left:753px;top:57px;width:18px;height:1px;background:rgba(0,0,0,.055)"></b>
<b style="left:753px;top:428px;width:18px;height:1px;background:rgba(0,0,0,.055)"></b>
<b style="left:751px;top:59px;width:1px;height:368px;background:rgba(0,0,0,.055)"></b>
<b style="left:772px;top:59px;width:1px;height:368px;background:rgba(0,0,0,.055)"></b>
<b style="left:752px;top:57px;width:1px;height:1px;background:rgba(0,0,0,.028)"></b>
<b style="left:771px;top:57px;width:1px;height:1px;background:rgba(0,0,0,.028)"></b>
<b style="left:752px;top:428px;width:1px;height:1px;background:rgba(0,0,0,.028)"></b>
<b style="left:771px;top:428px;width:1px;height:1px;background:rgba(0,0,0,.028)"></b>
<b style="left:751px;top:58px;width:1px;height:1px;background:rgba(0,0,0,.028)"></b>
<b style="left:751px;top:427px;width:1px;height:1px;background:rgba(0,0,0,.028)"></b>
<b style="left:772px;top:58px;width:1px;height:1px;background:rgba(0,0,0,.028)"></b>
<b style="left:772px;top:427px;width:1px;height:1px;background:rgba(0,0,0,.028)"></b>
<b style="left:753px;top:59px;width:18px;height:1px;background:rgba(0,0,0,.055)"></b>
<b style="left:753px;top:426px;width:18px;height:1px;background:rgba(0,0,0,.055)"></b>
<b style="left:753px;top:60px;width:1px;height:366px;background:rgba(0,0,0,.055)"></b>
<b style="left:770px;top:60px;width:1px;height:366px;background:rgba(0,0,0,.055)"></b>
<b style="left:169px;top:428px;width:1px;height:4px;background:#000"></b>
<b style="left:169px;top:432px;width:1px;height:1px;background:rgba(0,0,0,.5)"></b>
<b style="left:168px;top:428px;width:1px;height:4px;background:rgba(0,0,0,.055)"></b>
<b style="left:170px;top:428px;width:1px;height:4px;background:rgba(0,0,0,.055)"></b>
<b style="left:168px;top:432px;width:1px;height:1px;background:rgba(0,0,0,.028)"></b>
<b style="left:170px;top:432px;width:1px;height:1px;background:rgba(0,0,0,.028)"></b>
<b style="left:205px;top:428px;width:1px;height:4px;background:#000"></b>
<b style="left:205px;top:432px;width:1px;height:1px;background:rgba(0,0,0,.5)"></b>
<b style="left:204px;top:428px;width:1px;height:4px;background:rgba(0,0,0,.055)"></b>
<b style="left:206px;top:428px;width:1px;height:4px;background:rgba(0,0,0,.055)"></b>
<b style="left:204px;top:432px;width:1px;height:1px;background:rgba(0,0,0,.028)"></b>
<b style="left:206px;top:432px;width:1px;height:1px;background:rgba(0,0,0,.028)"></b>
<b style="left:233px;top:428px;width:1px;height:4px;background:#000"></b>
<b style="left:233px;top:432px;width:1px;height:1px;background:rgba(0,0,0,.5)"></b>
<b style="left:232px;top:428px;width:1px;height:4px;background:rgba(0,0,0,.055)"></b>
<b style="left:234px;top:428px;width:1px;height:4px;background:rgba(0,0,0,.055)"></b>
<b style="left:232px;top:432px;width:1px;height:1px;background:rgba(0,0,0,.028)"></b>
<b style="left:234px;top:432px;width:1px;height:1px;background:rgba(0,0,0,.028)"></b>
<b style="left:255px;top:428px;width:1px;height:4px;background:#000"></b>
<b style="left:255px;top:432px;width:1px;height:1px;background:rgba(0,0,0,.5)"></b>
<b style="left:254px;top:428px;width:1px;height:4px;background:rgba(0,0,0,.055)"></b>
<b style="left:256px;top:428px;width:1px;height:4px;background:rgba(0,0,0,.055)"></b>
<b style="left:254px;top:432px;width:1px;height:1px;background:rgba(0,0,0,.028)"></b>
<b style="left:256px;top:432px;width:1px;height:1px;background:rgba(0,0,0,.028)"></b>
<b style="left:275px;top:428px;width:1px;height:4px;background:#000"></b>
<b style="left:275px;top:432px;width:1px;height:1px;background:rgba(0,0,0,.5)"></b>
<b style="left:274px;top:428px;width:1px;height:4px;background:rgba(0,0,0,.055)"></b>
<b style="left:276px;top:428px;width:1px;height:4px;background:rgba(0,0,0,.055)"></b>
<b style="left:274px;top:432px;width:1px;height:1px;background:rgba(0,0,0,.028)"></b>
<b style="left:276px;top:432px;width:1px;height:1px;background:rgba(0,0,0,.028)"></b>
<b style="left:291px;top:428px;width:1px;height:4px;background:#000"></b>
<b style="left:291px;top:432px;width:1px;height:1px;background:rgba(0,0,0,.5)"></b>
<b style="left:290px;top:428px;width:1px;height:4px;background:rgba(0,0,0,.055)"></b>
<b style="left:292px;top:428px;width:1px;height:4px;background:rgba(0,0,0,.055)"></b>
<b style="left:290px;top:432px;width:1px;height:1px;background:rgba(0,0,0,.028)"></b>
<b style="left:292px;top:432px;width:1px;height:1px;background:rgba(0,0,0,.028)"></b>
<b style="left:306px;top:428px;width:1px;height:4px;background:#000"></b>
<b style="left:306px;top:432px;width:1px;height:1px;background:rgba(0,0,0,.5)"></b>
<b style="left:305px;top:428px;width:1px;height:4px;background:rgba(0,0,0,.055)"></b>
<b style="left:307px;top:428px;width:1px;height:4px;background:rgba(0,0,0,.055)"></b>
<b style="left:305px;top:432px;width:1px;height:1px;background:rgba(0,0,0,.028)"></b>
<b style="left:307px;top:432px;width:1px;height:1px;background:rgba(0,0,0,.028)"></b>
<b style="left:319px;top:428px;width:1px;height:4px;background:#000"></b>
<b style="left:319px;top:432px;width:1px;height:1px;background:rgba(0,0,0,.5)"></b>
<b style="left:318px;top:428px;width:1px;height:4px;background:rgba(0,0,0,.055)"></b>
<b style="left:320px;top:428px;width:1px;height:4px;background:rgba(0,0,0,.055)"></b>
<b style="left:318px;top:432px;width:1px;height:1px;background:rgba(0,0,0,.028)"></b>
<b style="left:320px;top:432px;width:1px;height:1px;background:rgba(0,0,0,.028)"></b>
<b style="left:331px;top:428px;width:1px;height:4px;background:#000"></b>
<b style="left:331px;top:432px;width:1px;height:1px;background:rgba(0,0,0,.5)"></b>
<b style="left:330px;top:428px;width:1px;height:4px;background:rgba(0,0,0,.055)"></b>
<b style="left:332px;top:428px;width:1px;height:4px;background:rgba(0,0,0,.055)"></b>
<b style="left:330px;top:432px;width:1px;height:1px;background:rgba(0,0,0,.028)"></b>
<b style="left:332px;top:432px;width:1px;height:1px;background:rgba(0,0,0,.028)"></b>
<b style="left:342px;top:428px;width:1px;height:4px;background:#000"></b>
<b style="left:342px;top:432px;width:1px;height:1px;background:rgba(0,0,0,.5)"></b>
<b style="left:341px;top:428px;width:1px;height:4px;background:rgba(0,0,0,.055)"></b>
<b style="left:343px;top:428px;width:1px;height:4px;background:rgba(0,0,0,.055)"></b>
<b style="left:341px;top:432px;width:1px;height:1px;background:rgba(0,0,0,.028)"></b>
<b style="left:343px;top:432px;width:1px;height:1px;background:rgba(0,0,0,.028)"></b>
<b style="left:417px;top:428px;width:1px;height:4px;background:#000"></b>
<b style="left:417px;top:432px;width:1px;height:1px;background:rgba(0,0,0,.5)"></b>
<b style="left:416px;top:428px;width:1px;height:4px;background:rgba(0,0,0,.055)"></b>
<b style="left:418px;top:428px;width:1px;height:4px;background:rgba(0,0,0,.055)"></b>
<b style="left:416px;top:432px;width:1px;height:1px;background:rgba(0,0,0,.028)"></b>
<b style="left:418px;top:432px;width:1px;height:1px;background:rgba(0,0,0,.028)"></b>
<b style="left:464px;top:428px;width:1px;height:4px;background:#000"></b>
<b style="left:464px;top:432px;width:1px;height:1px;background:rgba(0,0,0,.5)"></b>
<b style="left:463px;top:428px;width:1px;height:4px;background:rgba(0,0,0,.055)"></b>
<b style="left:465px;top:428px;width:1px;height:4px;background:rgba(0,0,0,.055)"></b>
<b style="left:463px;top:432px;width:1px;height:1px;background:rgba(0,0,0,.028)"></b>
<b style="left:465px;top:432px;width:1px;height:1px;background:rgba(0,0,0,.028)"></b>
<b style="left:498px;top:428px;width:1px;height:4px;background:#000"></b>
<b style="left:498px;top:432px;width:1px;height:1px;background:rgba(0,0,0,.5)"></b>
<b style="left:497px;top:428px;width:1px;height:4px;background:rgba(0,0,0,.055)"></b>
<b style="left:499px;top:428px;width:1px;height:4px;background:rgba(0,0,0,.055)"></b>
<b style="left:497px;top:432px;width:1px;height:1px;background:rgba(0,0,0,.028)"></b>
<b style="left:499px;top:432px;width:1px;height:1px;background:rgba(0,0,0,.028)"></b>
<b style="left:525px;top:428px;width:1px;height:4px;background:#000"></b>
<b style="left:525px;top:432px;width:1px;height:1px;background:rgba(0,0,0,.5)"></b>
<b style="left:524px;top:428px;width:1px;height:4px;background:rgba(0,0,0,.055)"></b>
<b style="left:526px;top:428px;width:1px;height:4px;background:rgba(0,0,0,.055)"></b>
<b style="left:524px;top:432px;width:1px;height:1px;background:rgba(0,0,0,.028)"></b>
<b style="left:526px;top:432px;width:1px;height:1px;background:rgba(0,0,0,.028)"></b>
<b style="left:547px;top:428px;width:1px;height:4px;background:#000"></b>
<b style="left:547px;top:432px;width:1px;height:1px;background:rgba(0,0,0,.5)"></b>
<b style="left:546px;top:428px;width:1px;height:4px;background:rgba(0,0,0,.055)"></b>
<b style="left:548px;top:428px;width:1px;height:4px;background:rgba(0,0,0,.055)"></b>
<b style="left:546px;top:432px;width:1px;height:1px;background:rgba(0,0,0,.028)"></b>
<b style="left:548px;top:432px;width:1px;height:1px;background:rgba(0,0,0,.028)"></b>
<b style="left:565px;top:428px;width:1px;height:4px;background:#000"></b>
<b style="left:565px;top:432px;width:1px;height:1px;background:rgba(0,0,0,.5)"></b>
<b style="left:564px;top:428px;width:1px;height:4px;background:rgba(0,0,0,.055)"></b>
<b style="left:566px;top:428px;width:1px;height:4px;background:rgba(0,0,0,.055)"></b>
<b style="left:564px;top:432px;width:1px;height:1px;background:rgba(0,0,0,.028)"></b>
<b style="left:566px;top:432px;width:1px;height:1px;background:rgba(0,0,0,.028)"></b>
<b style="left:581px;top:428px;width:1px;height:4px;background:#000"></b>
<b style="left:581px;top:432px;width:1px;height:1px;background:rgba(0,0,0,.5)"></b>
<b style="left:580px;top:428px;width:1px;height:4px;background:rgba(0,0,0,.055)"></b>
<b style="left:582px;top:428px;width:1px;height:4px;background:rgba(0,0,0,.055)"></b>
<b style="left:580px;top:432px;width:1px;height:1px;background:rgba(0,0,0,.028)"></b>
<b style="left:582px;top:432px;width:1px;height:1px;background:rgba(0,0,0,.028)"></b>
<b style="left:596px;top:428px;width:1px;height:4px;background:#000"></b>
<b style="left:596px;top:432px;width:1px;height:1px;background:rgba(0,0,0,.5)"></b>
<b style="left:595px;top:428px;width:1px;height:4px;background:rgba(0,0,0,.055)"></b>
<b style="left:597px;top:428px;width:1px;height:4px;background:rgba(0,0,0,.055)"></b>
<b style="left:595px;top:432px;width:1px;height:1px;background:rgba(0,0,0,.028)"></b>
<b style="left:597px;top:432px;width:1px;height:1px;background:rgba(0,0,0,.028)"></b>
<b style="left:609px;top:428px;width:1px;height:4px;background:#000"></b>
<b style="left:609px;top:432px;width:1px;height:1px;background:rgba(0,0,0,.5)"></b>
<b style="left:608px;top:428px;width:1px;height:4px;background:rgba(0,0,0,.055)"></b>
<b style="left:610px;top:428px;width:1px;height:4px;background:rgba(0,0,0,.055)"></b>
<b style="left:608px;top:432px;width:1px;height:1px;background:rgba(0,0,0,.028)"></b>
<b style="left:610px;top:432px;width:1px;height:1px;background:rgba(0,0,0,.028)"></b>
<b style="left:666px;top:428px;width:1px;height:4px;background:#000"></b>
<b style="left:666px;top:432px;width:1px;height:1px;background:rgba(0,0,0,.5)"></b>
<b style="left:665px;top:428px;width:1px;height:4px;background:rgba(0,0,0,.055)"></b>
<b style="left:667px;top:428px;width:1px;height:4px;background:rgba(0,0,0,.055)"></b>
<b style="left:665px;top:432px;width:1px;height:1px;background:rgba(0,0,0,.028)"></b>
<b style="left:667px;top:432px;width:1px;height:1px;background:rgba(0,0,0,.028)"></b>
<b style="left:694px;top:428px;width:1px;height:4px;background:#000"></b>
<b style="left:694px;top:432px;width:1px;height:1px;background:rgba(0,0,0,.5)"></b>
<b style="left:693px;top:428px;width:1px;height:4px;background:rgba(0,0,0,.055)"></b>
<b style="left:695px;top:428px;width:1px;height:4px;background:rgba(0,0,0,.055)"></b>
<b style="left:693px;top:432px;width:1px;height:1px;background:rgba(0,0,0,.028)"></b>
<b style="left:695px;top:432px;width:1px;height:1px;background:rgba(0,0,0,.028)"></b>
<b style="left:116px;top:58px;width:4px;height:1px;background:#000"></b>
<b style="left:115px;top:58px;width:1px;height:1px;background:rgba(0,0,0,.5)"></b>
<b style="left:116px;top:57px;width:4px;height:1px;background:rgba(0,0,0,.055)"></b>
<b style="left:116px;top:59px;width:4px;height:1px;background:rgba(0,0,0,.055)"></b>
<b style="left:115px;top:57px;width:1px;height:1px;background:rgba(0,0,0,.028)"></b>
<b style="left:115px;top:59px;width:1px;height:1px;background:rgba(0,0,0,.028)"></b>
<b style="left:116px;top:196px;width:4px;height:1px;background:#000"></b>
<b style="left:115px;top:196px;width:1px;height:1px;background:rgba(0,0,0,.5)"></b>
<b style="left:116px;top:195px;width:4px;height:1px;background:rgba(0,0,0,.055)"></b>
<b style="left:116px;top:197px;width:4px;height:1px;background:rgba(0,0,0,.055)"></b>
<b style="left:115px;top:195px;width:1px;height:1px;background:rgba(0,0,0,.028)"></b>
<b style="left:115px;top:197px;width:1px;height:1px;background:rgba(0,0,0,.028)"></b>
<b style="left:116px;top:312px;width:4px;height:1px;background:#000"></b>
<b style="left:115px;top:312px;width:1px;height:1px;background:rgba(0,0,0,.5)"></b>
<b style="left:116px;top:311px;width:4px;height:1px;background:rgba(0,0,0,.055)"></b>
<b style="left:116px;top:313px;width:4px;height:1px;background:rgba(0,0,0,.055)"></b>
<b style="left:115px;top:311px;width:1px;height:1px;background:rgba(0,0,0,.028)"></b>
<b style="left:115px;top:313px;width:1px;height:1px;background:rgba(0,0,0,.028)"></b>
<b style="left:116px;top:404px;width:4px;height:1px;background:#000"></b>
<b style="left:115px;top:404px;width:1px;height:1px;background:rgba(0,0,0,.5)"></b>
<b style="left:116px;top:403px;width:4px;height:1px;background:rgba(0,0,0,.055)"></b>
<b style="left:116px;top:405px;width:4px;height:1px;background:rgba(0,0,0,.055)"></b>
<b style="left:115px;top:403px;width:1px;height:1px;background:rgba(0,0,0,.028)"></b>
<b style="left:115px;top:405px;width:1px;height:1px;background:rgba(0,0,0,.028)"></b>
<b style="left:772px;top:90px;width:4px;height:1px;background:#000"></b>
<b style="left:776px;top:90px;width:1px;height:1px;background:rgba(0,0,0,.5)"></b>
<b style="left:772px;top:89px;width:4px;height:1px;background:rgba(0,0,0,.055)"></b>
<b style="left:772px;top:91px;width:4px;height:1px;background:rgba(0,0,0,.055)"></b>
<b style="left:776px;top:89px;width:1px;height:1px;background:rgba(0,0,0,.028)"></b>
<b style="left:776px;top:91px;width:1px;height:1px;background:rgba(0,0,0,.028)"></b>
<b style="left:772px;top:151px;width:4px;height:1px;background:#000"></b>
<b style="left:776px;top:151px;width:1px;height:1px;background:rgba(0,0,0,.5)"></b>
<b style="left:772px;top:150px;width:4px;height:1px;background:rgba(0,0,0,.055)"></b>
<b style="left:772px;top:152px;width:4px;height:1px;background:rgba(0,0,0,.055)"></b>
<b style="left:776px;top:150px;width:1px;height:1px;background:rgba(0,0,0,.028)"></b>
<b style="left:776px;top:152px;width:1px;height:1px;background:rgba(0,0,0,.028)"></b>
<b style="left:772px;top:212px;width:4px;height:1px;background:#000"></b>
<b style="left:776px;top:212px;width:1px;height:1px;background:rgba(0,0,0,.5)"></b>
<b style="left:772px;top:211px;width:4px;height:1px;background:rgba(0,0,0,.055)"></b>
<b style="left:772px;top:213px;width:4px;height:1px;background:rgba(0,0,0,.055)"></b>
<b style="left:776px;top:211px;width:1px;height:1px;background:rgba(0,0,0,.028)"></b>
<b style="left:776px;top:213px;width:1px;height:1px;background:rgba(0,0,0,.028)"></b>
<b style="left:772px;top:273px;width:4px;height:1px;background:#000"></b>
<b style="left:776px;top:273px;width:1px;height:1px;background:rgba(0,0,0,.5)"></b>
<b style="left:772px;top:272px;width:4px;height:1px;background:rgba(0,0,0,.055)"></b>
<b style="left:772px;top:274px;width:4px;height:1px;background:rgba(0,0,0,.055)"></b>
<b style="left:776px;top:272px;width:1px;height:1px;background:rgba(0,0,0,.028)"></b>
<b style="left:776px;top:274px;width:1px;height:1px;background:rgba(0,0,0,.028)"></b>
<b style="left:772px;top:334px;width:4px;height:1px;background:#000"></b>
<b style="left:776px;top:334px;width:1px;height:1px;background:rgba(0,0,0,.5)"></b>
<b style="left:772px;top:333px;width:4px;height:1px;background:rgba(0,0,0,.055)"></b>
<b style="left:772px;top:335px;width:4px;height:1px;background:rgba(0,0,0,.055)"></b>
<b style="left:776px;top:333px;width:1px;height:1px;background:rgba(0,0,0,.028)"></b>
<b style="left:776px;top:335px;width:1px;height:1px;background:rgba(0,0,0,.028)"></b>
<b style="left:772px;top:395px;width:4px;height:1px;background:#000"></b>
<b style="left:776px;top:395px;width:1px;height:1px;background:rgba(0,0,0,.5)"></b>
<b style="left:772px;top:394px;width:4px;height:1px;background:rgba(0,0,0,.055)"></b>
<b style="left:772px;top:396px;width:4px;height:1px;background:rgba(0,0,0,.055)"></b>
<b style="left:776px;top:394px;width:1px;height:1px;background:rgba(0,0,0,.028)"></b>
<b style="left:776px;top:396px;width:1px;height:1px;background:rgba(0,0,0,.028)"></b>
<b style="left:782px;top:90px;width:1px;height:1px;background:rgba(0,0,0,.78)"></b>
<b style="left:783px;top:90px;width:6px;height:1px;background:rgba(0,0,0,.925)"></b>
<b style="left:789px;top:90px;width:1px;height:1px;background:rgba(0,0,0,.114)"></b>
<b style="left:782px;top:151px;width:1px;height:1px;background:rgba(0,0,0,.78)"></b>
<b style="left:783px;top:151px;width:6px;height:1px;background:rgba(0,0,0,.925)"></b>
<b style="left:789px;top:151px;width:1px;height:1px;background:rgba(0,0,0,.114)"></b>
<b style="left:782px;top:212px;width:1px;height:1px;background:rgba(0,0,0,.78)"></b>
<b style="left:783px;top:212px;width:6px;height:1px;background:rgba(0,0,0,.925)"></b>
<b style="left:789px;top:212px;width:1px;height:1px;background:rgba(0,0,0,.114)"></b>
<b style="left:782px;top:273px;width:1px;height:1px;background:rgba(0,0,0,.78)"></b>
<b style="left:783px;top:273px;width:6px;height:1px;background:rgba(0,0,0,.925)"></b>
<b style="left:789px;top:273px;width:1px;height:1px;background:rgba(0,0,0,.114)"></b>
<b style="left:782px;top:334px;width:1px;height:1px;background:rgba(0,0,0,.78)"></b>
<b style="left:783px;top:334px;width:6px;height:1px;background:rgba(0,0,0,.925)"></b>
<b style="left:789px;top:334px;width:1px;height:1px;background:rgba(0,0,0,.114)"></b>
<b style="left:782px;top:395px;width:1px;height:1px;background:rgba(0,0,0,.78)"></b>
<b style="left:783px;top:395px;width:6px;height:1px;background:rgba(0,0,0,.925)"></b>
<b style="left:789px;top:395px;width:1px;height:1px;background:rgba(0,0,0,.114)"></b>
<b style="left:120px;top:57px;width:1px;height:1px;background:rgba(0,0,0,.055)"></b>
<b style="left:715px;top:57px;width:1px;height:1px;background:rgba(0,0,0,.055)"></b>
<b style="left:120px;top:428px;width:1px;height:1px;background:rgba(0,0,0,.055)"></b>
<b style="left:715px;top:428px;width:1px;height:1px;background:rgba(0,0,0,.055)"></b>
<b style="left:119px;top:58px;width:1px;height:1px;background:rgba(0,0,0,.055)"></b>
<b style="left:119px;top:427px;width:1px;height:1px;background:rgba(0,0,0,.055)"></b>
<b style="left:716px;top:58px;width:1px;height:1px;background:rgba(0,0,0,.055)"></b>
<b style="left:716px;top:427px;width:1px;height:1px;background:rgba(0,0,0,.055)"></b>
<b style="left:120px;top:57px;width:1px;height:1px;background:rgba(0,0,0,.028)"></b>
<b style="left:121px;top:59px;width:1px;height:1px;background:rgba(0,0,0,.055)"></b>
<b style="left:714px;top:59px;width:1px;height:1px;background:rgba(0,0,0,.055)"></b>
<b style="left:121px;top:426px;width:1px;height:1px;background:rgba(0,0,0,.055)"></b>
<b style="left:714px;top:426px;width:1px;height:1px;background:rgba(0,0,0,.055)"></b>
<b style="left:753px;top:59px;width:1px;height:1px;background:rgba(0,0,0,.055)"></b>
<b style="left:770px;top:59px;width:1px;height:1px;background:rgba(0,0,0,.055)"></b>
<b style="left:753px;top:426px;width:1px;height:1px;background:rgba(0,0,0,.055)"></b>
<b style="left:770px;top:426px;width:1px;height:1px;background:rgba(0,0,0,.055)"></b>
<div id="tx">
<span class="t h" id="ti0" style="font-size:13.997px;transform:translate(287.02px,8.25px) rotate(.05deg) scaleX(0.9969)">Kaiser</span>
<span class="t h" id="ti1" style="font-size:13.997px;transform:translate(332.38px,8.25px) rotate(.05deg) scaleX(1.0550)">Window</span>
<span class="t h" id="ti2" style="font-size:13.997px;transform:translate(389.81px,8.25px) rotate(.05deg) scaleX(1.0000)">Best</span>
<span class="t h" id="ti3" style="font-size:13.997px;transform:translate(424.07px,8.25px) rotate(.05deg) scaleX(1.1008)">(torchaudio)</span>
<span class="t h" id="ti4" style="font-size:13.997px;transform:translate(509.96px,8.25px) rotate(.05deg) scaleX(1.0874)">(sample</span>
<span class="t h" id="ti5" style="font-size:13.997px;transform:translate(568.68px,8.25px) rotate(.05deg) scaleX(1.1329)">rate:</span>
<span class="t h" id="ti6" style="font-size:13.997px;transform:translate(605.10px,8.25px) rotate(.05deg) scaleX(1.0787)">32000</span>
<span class="t h" id="ti7" style="font-size:13.997px;transform:translate(651.80px,8.25px) rotate(.05deg) scaleX(0.9875)">Hz)</span>
<span class="t" id="xl0" style="top:450px;font-size:11.665px;transform:translateX(304.75px) scaleX(1.0850)">Original</span>
<span class="t" id="xl1" style="top:450px;font-size:11.665px;transform:translateX(351.84px) scaleX(1.0641)">Signal</span>
<span class="t" id="xl2" style="top:450px;font-size:11.665px;transform:translateX(390.00px) scaleX(1.0438)">Frequency</span>
<span class="t" id="xl3" style="top:450px;font-size:11.665px;transform:translateX(452.05px) scaleX(1.0037)">(Hz,</span>
<span class="t" id="xl4" style="top:450px;font-size:11.665px;transform:translateX(477.43px) scaleX(1.0737)">log</span>
<span class="t" id="xl5" style="top:450px;font-size:11.665px;transform:translateX(497.75px) scaleX(1.0613)">scale)</span>
<span class="t" id="yl0" style="left:57px;font-size:11.665px;transform:translateY(316.12px) rotate(-90deg) scaleX(1.0591)">Waveform</span>
<span class="t" id="yl1" style="left:57px;font-size:11.665px;transform:translateY(257.00px) rotate(-90deg) scaleX(1.0638)">Frequency</span>
<span class="t" id="yl2" style="left:57px;font-size:11.665px;transform:translateY(194.25px) rotate(-90deg) scaleX(1.0144)">(Hz)</span>
<span class="t" id="yt160000" style="top:52px;font-size:11.777px;transform:translateX(73.91px) scaleX(1.0800)">16000</span>
<span class="t" id="yt100000" style="top:190px;font-size:11.777px;transform:translateX(73.91px) scaleX(1.0800)">10000</span>
<span class="t" id="yt50000" style="top:306px;font-size:11.777px;transform:translateX(82.16px) scaleX(1.0800)">5000</span>
<span class="t" id="yt10000" style="top:398px;font-size:11.777px;transform:translateX(81.16px) scaleX(1.0800)">1000</span>
<span class="t" id="xt1000" style="top:435px;font-size:11.777px;transform:translateX(158.18px) scaleX(1.0800)">100</span>
<span class="t" id="xt5000" style="top:435px;font-size:11.777px;transform:translateX(264.18px) scaleX(1.0800)">500</span>
<span class="t" id="xt10000" style="top:435px;font-size:11.777px;transform:translateX(327.16px) scaleX(1.0800)">1000</span>
<span class="t" id="xt50000" style="top:435px;font-size:11.777px;transform:translateX(510.16px) scaleX(1.0800)">5000</span>
<span class="t" id="xt100000" style="top:435px;font-size:11.777px;transform:translateX(589.91px) scaleX(1.0800)">10000</span>
<span class="t" id="xt200000" style="top:435px;font-size:11.777px;transform:translateX(675.88px) scaleX(1.0800)">20000</span>
<span class="t" id="cb50d" style="top:84px;font-size:11.777px;transform:translateX(789.12px) scaleX(1.0800)">50</span>
<span class="t" id="cb100d" style="top:145px;font-size:11.777px;transform:translateX(789.12px) scaleX(1.0800)">100</span>
<span class="t" id="cb150d" style="top:206px;font-size:11.777px;transform:translateX(789.12px) scaleX(1.0800)">150</span>
<span class="t" id="cb200d" style="top:267px;font-size:11.777px;transform:translateX(789.38px) scaleX(1.0800)">200</span>
<span class="t" id="cb250d" style="top:328px;font-size:11.777px;transform:translateX(789.25px) scaleX(1.0800)">250</span>
<span class="t" id="cb300d" style="top:389px;font-size:11.777px;transform:translateX(789.07px) scaleX(1.0800)">300</span>
</div>
</body></html>
